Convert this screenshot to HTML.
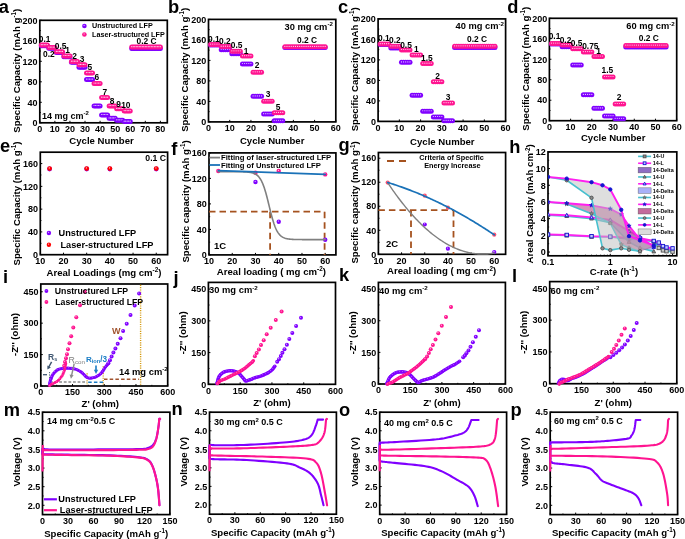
<!DOCTYPE html>
<html><head><meta charset="utf-8"><style>
html,body{margin:0;padding:0;background:#fff;}
svg{display:block;will-change:transform;}
text{font-family:"Liberation Sans", sans-serif;stroke:currentColor;stroke-width:0;}
svg{-webkit-font-smoothing:antialiased;}
</style></head><body>
<svg width="685" height="539" viewBox="0 0 685 539">
<defs><clipPath id="cliph"><rect x="548" y="151.9" width="128.8" height="103.9"/></clipPath></defs>
<rect width="685" height="539" fill="#fff"/>
<rect x="39.80" y="20.30" width="127.50" height="102.50" fill="none" stroke="#000" stroke-width="1.7"/>
<rect x="208.50" y="19.40" width="127.30" height="102.50" fill="none" stroke="#000" stroke-width="1.7"/>
<rect x="378.10" y="18.90" width="127.50" height="102.50" fill="none" stroke="#000" stroke-width="1.7"/>
<rect x="549.40" y="18.30" width="127.30" height="102.40" fill="none" stroke="#000" stroke-width="1.7"/>
<rect x="40.30" y="152.20" width="127.30" height="102.50" fill="none" stroke="#000" stroke-width="1.7"/>
<rect x="209.00" y="152.90" width="126.90" height="102.00" fill="none" stroke="#000" stroke-width="1.7"/>
<rect x="378.40" y="152.50" width="127.20" height="101.80" fill="none" stroke="#000" stroke-width="1.7"/>
<rect x="548.00" y="151.90" width="128.80" height="103.90" fill="none" stroke="#000" stroke-width="1.7"/>
<rect x="40.80" y="284.00" width="126.90" height="102.00" fill="none" stroke="#000" stroke-width="1.7"/>
<rect x="208.40" y="282.40" width="127.10" height="101.90" fill="none" stroke="#000" stroke-width="1.7"/>
<rect x="378.40" y="282.40" width="127.00" height="101.60" fill="none" stroke="#000" stroke-width="1.7"/>
<rect x="549.70" y="281.60" width="127.10" height="102.10" fill="none" stroke="#000" stroke-width="1.7"/>
<rect x="42.50" y="412.20" width="127.40" height="102.40" fill="none" stroke="#000" stroke-width="1.7"/>
<rect x="209.50" y="412.20" width="126.90" height="102.00" fill="none" stroke="#000" stroke-width="1.7"/>
<rect x="379.70" y="412.20" width="126.90" height="102.20" fill="none" stroke="#000" stroke-width="1.7"/>
<rect x="550.20" y="412.20" width="127.40" height="102.40" fill="none" stroke="#000" stroke-width="1.7"/>
<line x1="39.80" y1="122.80" x2="41.80" y2="122.80" stroke="#000" stroke-width="1"/>
<text x="37.60" y="126.04" font-size="9.0" text-anchor="end" font-weight="bold" fill="#000" stroke="#000" stroke-width="0.46799999999999997">0</text>
<line x1="39.80" y1="102.30" x2="41.80" y2="102.30" stroke="#000" stroke-width="1"/>
<text x="37.60" y="105.54" font-size="9.0" text-anchor="end" font-weight="bold" fill="#000" stroke="#000" stroke-width="0.46799999999999997">40</text>
<line x1="39.80" y1="81.80" x2="41.80" y2="81.80" stroke="#000" stroke-width="1"/>
<text x="37.60" y="85.04" font-size="9.0" text-anchor="end" font-weight="bold" fill="#000" stroke="#000" stroke-width="0.46799999999999997">80</text>
<line x1="39.80" y1="61.30" x2="41.80" y2="61.30" stroke="#000" stroke-width="1"/>
<text x="37.60" y="64.54" font-size="9.0" text-anchor="end" font-weight="bold" fill="#000" stroke="#000" stroke-width="0.46799999999999997">120</text>
<line x1="39.80" y1="40.80" x2="41.80" y2="40.80" stroke="#000" stroke-width="1"/>
<text x="37.60" y="44.04" font-size="9.0" text-anchor="end" font-weight="bold" fill="#000" stroke="#000" stroke-width="0.46799999999999997">160</text>
<line x1="39.80" y1="20.30" x2="41.80" y2="20.30" stroke="#000" stroke-width="1"/>
<text x="37.60" y="23.54" font-size="9.0" text-anchor="end" font-weight="bold" fill="#000" stroke="#000" stroke-width="0.46799999999999997">200</text>
<line x1="39.80" y1="112.55" x2="41.00" y2="112.55" stroke="#000" stroke-width="0.8"/>
<line x1="39.80" y1="92.05" x2="41.00" y2="92.05" stroke="#000" stroke-width="0.8"/>
<line x1="39.80" y1="71.55" x2="41.00" y2="71.55" stroke="#000" stroke-width="0.8"/>
<line x1="39.80" y1="51.05" x2="41.00" y2="51.05" stroke="#000" stroke-width="0.8"/>
<line x1="39.80" y1="30.55" x2="41.00" y2="30.55" stroke="#000" stroke-width="0.8"/>
<text x="19.50" y="70.75" font-size="9.6" text-anchor="middle" font-weight="bold" fill="#000" stroke="#000" stroke-width="0.4992" transform="rotate(-90 19.50 70.75)">Specific Capacity (mAh g<tspan dy="-3.84" font-size="6.34">-1</tspan><tspan dy="3.84">)</tspan></text>
<text x="101.55" y="143.80" font-size="9.6" text-anchor="middle" font-weight="bold" fill="#000" stroke="#000" stroke-width="0.4992">Cycle Number</text>
<line x1="208.50" y1="121.90" x2="210.50" y2="121.90" stroke="#000" stroke-width="1"/>
<text x="206.30" y="125.14" font-size="9.0" text-anchor="end" font-weight="bold" fill="#000" stroke="#000" stroke-width="0.46799999999999997">0</text>
<line x1="208.50" y1="101.40" x2="210.50" y2="101.40" stroke="#000" stroke-width="1"/>
<text x="206.30" y="104.64" font-size="9.0" text-anchor="end" font-weight="bold" fill="#000" stroke="#000" stroke-width="0.46799999999999997">40</text>
<line x1="208.50" y1="80.90" x2="210.50" y2="80.90" stroke="#000" stroke-width="1"/>
<text x="206.30" y="84.14" font-size="9.0" text-anchor="end" font-weight="bold" fill="#000" stroke="#000" stroke-width="0.46799999999999997">80</text>
<line x1="208.50" y1="60.40" x2="210.50" y2="60.40" stroke="#000" stroke-width="1"/>
<text x="206.30" y="63.64" font-size="9.0" text-anchor="end" font-weight="bold" fill="#000" stroke="#000" stroke-width="0.46799999999999997">120</text>
<line x1="208.50" y1="39.90" x2="210.50" y2="39.90" stroke="#000" stroke-width="1"/>
<text x="206.30" y="43.14" font-size="9.0" text-anchor="end" font-weight="bold" fill="#000" stroke="#000" stroke-width="0.46799999999999997">160</text>
<line x1="208.50" y1="19.40" x2="210.50" y2="19.40" stroke="#000" stroke-width="1"/>
<text x="206.30" y="22.64" font-size="9.0" text-anchor="end" font-weight="bold" fill="#000" stroke="#000" stroke-width="0.46799999999999997">200</text>
<line x1="208.50" y1="111.65" x2="209.70" y2="111.65" stroke="#000" stroke-width="0.8"/>
<line x1="208.50" y1="91.15" x2="209.70" y2="91.15" stroke="#000" stroke-width="0.8"/>
<line x1="208.50" y1="70.65" x2="209.70" y2="70.65" stroke="#000" stroke-width="0.8"/>
<line x1="208.50" y1="50.15" x2="209.70" y2="50.15" stroke="#000" stroke-width="0.8"/>
<line x1="208.50" y1="29.65" x2="209.70" y2="29.65" stroke="#000" stroke-width="0.8"/>
<text x="188.20" y="69.85" font-size="9.6" text-anchor="middle" font-weight="bold" fill="#000" stroke="#000" stroke-width="0.4992" transform="rotate(-90 188.20 69.85)">Specific Capacity (mAh g<tspan dy="-3.84" font-size="6.34">-1</tspan><tspan dy="3.84">)</tspan></text>
<text x="272.15" y="143.90" font-size="9.6" text-anchor="middle" font-weight="bold" fill="#000" stroke="#000" stroke-width="0.4992">Cycle Number</text>
<line x1="378.10" y1="121.40" x2="380.10" y2="121.40" stroke="#000" stroke-width="1"/>
<text x="375.90" y="124.64" font-size="9.0" text-anchor="end" font-weight="bold" fill="#000" stroke="#000" stroke-width="0.46799999999999997">0</text>
<line x1="378.10" y1="100.90" x2="380.10" y2="100.90" stroke="#000" stroke-width="1"/>
<text x="375.90" y="104.14" font-size="9.0" text-anchor="end" font-weight="bold" fill="#000" stroke="#000" stroke-width="0.46799999999999997">40</text>
<line x1="378.10" y1="80.40" x2="380.10" y2="80.40" stroke="#000" stroke-width="1"/>
<text x="375.90" y="83.64" font-size="9.0" text-anchor="end" font-weight="bold" fill="#000" stroke="#000" stroke-width="0.46799999999999997">80</text>
<line x1="378.10" y1="59.90" x2="380.10" y2="59.90" stroke="#000" stroke-width="1"/>
<text x="375.90" y="63.14" font-size="9.0" text-anchor="end" font-weight="bold" fill="#000" stroke="#000" stroke-width="0.46799999999999997">120</text>
<line x1="378.10" y1="39.40" x2="380.10" y2="39.40" stroke="#000" stroke-width="1"/>
<text x="375.90" y="42.64" font-size="9.0" text-anchor="end" font-weight="bold" fill="#000" stroke="#000" stroke-width="0.46799999999999997">160</text>
<line x1="378.10" y1="18.90" x2="380.10" y2="18.90" stroke="#000" stroke-width="1"/>
<text x="375.90" y="22.14" font-size="9.0" text-anchor="end" font-weight="bold" fill="#000" stroke="#000" stroke-width="0.46799999999999997">200</text>
<line x1="378.10" y1="111.15" x2="379.30" y2="111.15" stroke="#000" stroke-width="0.8"/>
<line x1="378.10" y1="90.65" x2="379.30" y2="90.65" stroke="#000" stroke-width="0.8"/>
<line x1="378.10" y1="70.15" x2="379.30" y2="70.15" stroke="#000" stroke-width="0.8"/>
<line x1="378.10" y1="49.65" x2="379.30" y2="49.65" stroke="#000" stroke-width="0.8"/>
<line x1="378.10" y1="29.15" x2="379.30" y2="29.15" stroke="#000" stroke-width="0.8"/>
<text x="357.80" y="69.35" font-size="9.6" text-anchor="middle" font-weight="bold" fill="#000" stroke="#000" stroke-width="0.4992" transform="rotate(-90 357.80 69.35)">Specific Capacity (mAh g<tspan dy="-3.84" font-size="6.34">-1</tspan><tspan dy="3.84">)</tspan></text>
<text x="442.35" y="144.70" font-size="9.6" text-anchor="middle" font-weight="bold" fill="#000" stroke="#000" stroke-width="0.4992">Cycle Number</text>
<line x1="549.40" y1="120.70" x2="551.40" y2="120.70" stroke="#000" stroke-width="1"/>
<text x="547.20" y="123.94" font-size="9.0" text-anchor="end" font-weight="bold" fill="#000" stroke="#000" stroke-width="0.46799999999999997">0</text>
<line x1="549.40" y1="100.22" x2="551.40" y2="100.22" stroke="#000" stroke-width="1"/>
<text x="547.20" y="103.46" font-size="9.0" text-anchor="end" font-weight="bold" fill="#000" stroke="#000" stroke-width="0.46799999999999997">40</text>
<line x1="549.40" y1="79.74" x2="551.40" y2="79.74" stroke="#000" stroke-width="1"/>
<text x="547.20" y="82.98" font-size="9.0" text-anchor="end" font-weight="bold" fill="#000" stroke="#000" stroke-width="0.46799999999999997">80</text>
<line x1="549.40" y1="59.26" x2="551.40" y2="59.26" stroke="#000" stroke-width="1"/>
<text x="547.20" y="62.50" font-size="9.0" text-anchor="end" font-weight="bold" fill="#000" stroke="#000" stroke-width="0.46799999999999997">120</text>
<line x1="549.40" y1="38.78" x2="551.40" y2="38.78" stroke="#000" stroke-width="1"/>
<text x="547.20" y="42.02" font-size="9.0" text-anchor="end" font-weight="bold" fill="#000" stroke="#000" stroke-width="0.46799999999999997">160</text>
<line x1="549.40" y1="18.30" x2="551.40" y2="18.30" stroke="#000" stroke-width="1"/>
<text x="547.20" y="21.54" font-size="9.0" text-anchor="end" font-weight="bold" fill="#000" stroke="#000" stroke-width="0.46799999999999997">200</text>
<line x1="549.40" y1="110.46" x2="550.60" y2="110.46" stroke="#000" stroke-width="0.8"/>
<line x1="549.40" y1="89.98" x2="550.60" y2="89.98" stroke="#000" stroke-width="0.8"/>
<line x1="549.40" y1="69.50" x2="550.60" y2="69.50" stroke="#000" stroke-width="0.8"/>
<line x1="549.40" y1="49.02" x2="550.60" y2="49.02" stroke="#000" stroke-width="0.8"/>
<line x1="549.40" y1="28.54" x2="550.60" y2="28.54" stroke="#000" stroke-width="0.8"/>
<text x="529.10" y="68.70" font-size="9.6" text-anchor="middle" font-weight="bold" fill="#000" stroke="#000" stroke-width="0.4992" transform="rotate(-90 529.10 68.70)">Specific Capacity (mAh g<tspan dy="-3.84" font-size="6.34">-1</tspan><tspan dy="3.84">)</tspan></text>
<text x="613.15" y="140.70" font-size="9.6" text-anchor="middle" font-weight="bold" fill="#000" stroke="#000" stroke-width="0.4992">Cycle Number</text>
<line x1="39.80" y1="122.80" x2="39.80" y2="120.80" stroke="#000" stroke-width="1"/>
<text x="39.80" y="132.04" font-size="9.0" text-anchor="middle" font-weight="bold" fill="#000" stroke="#000" stroke-width="0.46799999999999997">0</text>
<line x1="54.87" y1="122.80" x2="54.87" y2="120.80" stroke="#000" stroke-width="1"/>
<text x="54.87" y="132.04" font-size="9.0" text-anchor="middle" font-weight="bold" fill="#000" stroke="#000" stroke-width="0.46799999999999997">10</text>
<line x1="69.94" y1="122.80" x2="69.94" y2="120.80" stroke="#000" stroke-width="1"/>
<text x="69.94" y="132.04" font-size="9.0" text-anchor="middle" font-weight="bold" fill="#000" stroke="#000" stroke-width="0.46799999999999997">20</text>
<line x1="85.01" y1="122.80" x2="85.01" y2="120.80" stroke="#000" stroke-width="1"/>
<text x="85.01" y="132.04" font-size="9.0" text-anchor="middle" font-weight="bold" fill="#000" stroke="#000" stroke-width="0.46799999999999997">30</text>
<line x1="100.08" y1="122.80" x2="100.08" y2="120.80" stroke="#000" stroke-width="1"/>
<text x="100.08" y="132.04" font-size="9.0" text-anchor="middle" font-weight="bold" fill="#000" stroke="#000" stroke-width="0.46799999999999997">40</text>
<line x1="115.15" y1="122.80" x2="115.15" y2="120.80" stroke="#000" stroke-width="1"/>
<text x="115.15" y="132.04" font-size="9.0" text-anchor="middle" font-weight="bold" fill="#000" stroke="#000" stroke-width="0.46799999999999997">50</text>
<line x1="130.23" y1="122.80" x2="130.23" y2="120.80" stroke="#000" stroke-width="1"/>
<text x="130.23" y="132.04" font-size="9.0" text-anchor="middle" font-weight="bold" fill="#000" stroke="#000" stroke-width="0.46799999999999997">60</text>
<line x1="145.30" y1="122.80" x2="145.30" y2="120.80" stroke="#000" stroke-width="1"/>
<text x="145.30" y="132.04" font-size="9.0" text-anchor="middle" font-weight="bold" fill="#000" stroke="#000" stroke-width="0.46799999999999997">70</text>
<line x1="160.37" y1="122.80" x2="160.37" y2="120.80" stroke="#000" stroke-width="1"/>
<text x="160.37" y="132.04" font-size="9.0" text-anchor="middle" font-weight="bold" fill="#000" stroke="#000" stroke-width="0.46799999999999997">80</text>
<line x1="208.50" y1="121.90" x2="208.50" y2="119.90" stroke="#000" stroke-width="1"/>
<text x="208.50" y="131.14" font-size="9.0" text-anchor="middle" font-weight="bold" fill="#000" stroke="#000" stroke-width="0.46799999999999997">0</text>
<line x1="229.72" y1="121.90" x2="229.72" y2="119.90" stroke="#000" stroke-width="1"/>
<text x="229.72" y="131.14" font-size="9.0" text-anchor="middle" font-weight="bold" fill="#000" stroke="#000" stroke-width="0.46799999999999997">10</text>
<line x1="250.93" y1="121.90" x2="250.93" y2="119.90" stroke="#000" stroke-width="1"/>
<text x="250.93" y="131.14" font-size="9.0" text-anchor="middle" font-weight="bold" fill="#000" stroke="#000" stroke-width="0.46799999999999997">20</text>
<line x1="272.15" y1="121.90" x2="272.15" y2="119.90" stroke="#000" stroke-width="1"/>
<text x="272.15" y="131.14" font-size="9.0" text-anchor="middle" font-weight="bold" fill="#000" stroke="#000" stroke-width="0.46799999999999997">30</text>
<line x1="293.37" y1="121.90" x2="293.37" y2="119.90" stroke="#000" stroke-width="1"/>
<text x="293.37" y="131.14" font-size="9.0" text-anchor="middle" font-weight="bold" fill="#000" stroke="#000" stroke-width="0.46799999999999997">40</text>
<line x1="314.58" y1="121.90" x2="314.58" y2="119.90" stroke="#000" stroke-width="1"/>
<text x="314.58" y="131.14" font-size="9.0" text-anchor="middle" font-weight="bold" fill="#000" stroke="#000" stroke-width="0.46799999999999997">50</text>
<line x1="335.80" y1="121.90" x2="335.80" y2="119.90" stroke="#000" stroke-width="1"/>
<text x="335.80" y="131.14" font-size="9.0" text-anchor="middle" font-weight="bold" fill="#000" stroke="#000" stroke-width="0.46799999999999997">60</text>
<line x1="378.10" y1="121.40" x2="378.10" y2="119.40" stroke="#000" stroke-width="1"/>
<text x="378.10" y="130.64" font-size="9.0" text-anchor="middle" font-weight="bold" fill="#000" stroke="#000" stroke-width="0.46799999999999997">0</text>
<line x1="399.35" y1="121.40" x2="399.35" y2="119.40" stroke="#000" stroke-width="1"/>
<text x="399.35" y="130.64" font-size="9.0" text-anchor="middle" font-weight="bold" fill="#000" stroke="#000" stroke-width="0.46799999999999997">10</text>
<line x1="420.60" y1="121.40" x2="420.60" y2="119.40" stroke="#000" stroke-width="1"/>
<text x="420.60" y="130.64" font-size="9.0" text-anchor="middle" font-weight="bold" fill="#000" stroke="#000" stroke-width="0.46799999999999997">20</text>
<line x1="441.85" y1="121.40" x2="441.85" y2="119.40" stroke="#000" stroke-width="1"/>
<text x="441.85" y="130.64" font-size="9.0" text-anchor="middle" font-weight="bold" fill="#000" stroke="#000" stroke-width="0.46799999999999997">30</text>
<line x1="463.10" y1="121.40" x2="463.10" y2="119.40" stroke="#000" stroke-width="1"/>
<text x="463.10" y="130.64" font-size="9.0" text-anchor="middle" font-weight="bold" fill="#000" stroke="#000" stroke-width="0.46799999999999997">40</text>
<line x1="484.35" y1="121.40" x2="484.35" y2="119.40" stroke="#000" stroke-width="1"/>
<text x="484.35" y="130.64" font-size="9.0" text-anchor="middle" font-weight="bold" fill="#000" stroke="#000" stroke-width="0.46799999999999997">50</text>
<line x1="505.60" y1="121.40" x2="505.60" y2="119.40" stroke="#000" stroke-width="1"/>
<text x="505.60" y="130.64" font-size="9.0" text-anchor="middle" font-weight="bold" fill="#000" stroke="#000" stroke-width="0.46799999999999997">60</text>
<line x1="549.40" y1="120.70" x2="549.40" y2="118.70" stroke="#000" stroke-width="1"/>
<text x="549.40" y="129.94" font-size="9.0" text-anchor="middle" font-weight="bold" fill="#000" stroke="#000" stroke-width="0.46799999999999997">0</text>
<line x1="570.62" y1="120.70" x2="570.62" y2="118.70" stroke="#000" stroke-width="1"/>
<text x="570.62" y="129.94" font-size="9.0" text-anchor="middle" font-weight="bold" fill="#000" stroke="#000" stroke-width="0.46799999999999997">10</text>
<line x1="591.83" y1="120.70" x2="591.83" y2="118.70" stroke="#000" stroke-width="1"/>
<text x="591.83" y="129.94" font-size="9.0" text-anchor="middle" font-weight="bold" fill="#000" stroke="#000" stroke-width="0.46799999999999997">20</text>
<line x1="613.05" y1="120.70" x2="613.05" y2="118.70" stroke="#000" stroke-width="1"/>
<text x="613.05" y="129.94" font-size="9.0" text-anchor="middle" font-weight="bold" fill="#000" stroke="#000" stroke-width="0.46799999999999997">30</text>
<line x1="634.27" y1="120.70" x2="634.27" y2="118.70" stroke="#000" stroke-width="1"/>
<text x="634.27" y="129.94" font-size="9.0" text-anchor="middle" font-weight="bold" fill="#000" stroke="#000" stroke-width="0.46799999999999997">40</text>
<line x1="655.48" y1="120.70" x2="655.48" y2="118.70" stroke="#000" stroke-width="1"/>
<text x="655.48" y="129.94" font-size="9.0" text-anchor="middle" font-weight="bold" fill="#000" stroke="#000" stroke-width="0.46799999999999997">50</text>
<line x1="676.70" y1="120.70" x2="676.70" y2="118.70" stroke="#000" stroke-width="1"/>
<text x="676.70" y="129.94" font-size="9.0" text-anchor="middle" font-weight="bold" fill="#000" stroke="#000" stroke-width="0.46799999999999997">60</text>
<line x1="40.30" y1="254.70" x2="42.30" y2="254.70" stroke="#000" stroke-width="1"/>
<text x="38.10" y="257.94" font-size="9.0" text-anchor="end" font-weight="bold" fill="#000" stroke="#000" stroke-width="0.46799999999999997">0</text>
<line x1="40.30" y1="231.92" x2="42.30" y2="231.92" stroke="#000" stroke-width="1"/>
<text x="38.10" y="235.16" font-size="9.0" text-anchor="end" font-weight="bold" fill="#000" stroke="#000" stroke-width="0.46799999999999997">40</text>
<line x1="40.30" y1="209.14" x2="42.30" y2="209.14" stroke="#000" stroke-width="1"/>
<text x="38.10" y="212.38" font-size="9.0" text-anchor="end" font-weight="bold" fill="#000" stroke="#000" stroke-width="0.46799999999999997">80</text>
<line x1="40.30" y1="186.37" x2="42.30" y2="186.37" stroke="#000" stroke-width="1"/>
<text x="38.10" y="189.61" font-size="9.0" text-anchor="end" font-weight="bold" fill="#000" stroke="#000" stroke-width="0.46799999999999997">120</text>
<line x1="40.30" y1="163.59" x2="42.30" y2="163.59" stroke="#000" stroke-width="1"/>
<text x="38.10" y="166.83" font-size="9.0" text-anchor="end" font-weight="bold" fill="#000" stroke="#000" stroke-width="0.46799999999999997">160</text>
<line x1="40.30" y1="243.31" x2="41.50" y2="243.31" stroke="#000" stroke-width="0.8"/>
<line x1="40.30" y1="220.53" x2="41.50" y2="220.53" stroke="#000" stroke-width="0.8"/>
<line x1="40.30" y1="197.76" x2="41.50" y2="197.76" stroke="#000" stroke-width="0.8"/>
<line x1="40.30" y1="174.98" x2="41.50" y2="174.98" stroke="#000" stroke-width="0.8"/>
<line x1="40.30" y1="254.70" x2="40.30" y2="252.70" stroke="#000" stroke-width="1"/>
<text x="40.30" y="263.94" font-size="9.0" text-anchor="middle" font-weight="bold" fill="#000" stroke="#000" stroke-width="0.46799999999999997">10</text>
<line x1="63.49" y1="254.70" x2="63.49" y2="252.70" stroke="#000" stroke-width="1"/>
<text x="63.49" y="263.94" font-size="9.0" text-anchor="middle" font-weight="bold" fill="#000" stroke="#000" stroke-width="0.46799999999999997">20</text>
<line x1="86.68" y1="254.70" x2="86.68" y2="252.70" stroke="#000" stroke-width="1"/>
<text x="86.68" y="263.94" font-size="9.0" text-anchor="middle" font-weight="bold" fill="#000" stroke="#000" stroke-width="0.46799999999999997">30</text>
<line x1="109.86" y1="254.70" x2="109.86" y2="252.70" stroke="#000" stroke-width="1"/>
<text x="109.86" y="263.94" font-size="9.0" text-anchor="middle" font-weight="bold" fill="#000" stroke="#000" stroke-width="0.46799999999999997">40</text>
<line x1="133.05" y1="254.70" x2="133.05" y2="252.70" stroke="#000" stroke-width="1"/>
<text x="133.05" y="263.94" font-size="9.0" text-anchor="middle" font-weight="bold" fill="#000" stroke="#000" stroke-width="0.46799999999999997">50</text>
<line x1="156.24" y1="254.70" x2="156.24" y2="252.70" stroke="#000" stroke-width="1"/>
<text x="156.24" y="263.94" font-size="9.0" text-anchor="middle" font-weight="bold" fill="#000" stroke="#000" stroke-width="0.46799999999999997">60</text>
<text x="20.30" y="203.45" font-size="9.6" text-anchor="middle" font-weight="bold" fill="#000" stroke="#000" stroke-width="0.4992" transform="rotate(-90 20.30 203.45)">Specific Capacity (mAh g<tspan dy="-3.84" font-size="6.34">-1</tspan><tspan dy="3.84">)</tspan></text>
<text x="103.95" y="275.80" font-size="9.6" text-anchor="middle" font-weight="bold" fill="#000" stroke="#000" stroke-width="0.4992">Areal Loadings (mg cm<tspan dy="-3.84" font-size="6.34">-2</tspan><tspan dy="3.84">)</tspan></text>
<line x1="209.00" y1="254.90" x2="211.00" y2="254.90" stroke="#000" stroke-width="1"/>
<text x="206.80" y="258.14" font-size="9.0" text-anchor="end" font-weight="bold" fill="#000" stroke="#000" stroke-width="0.46799999999999997">0</text>
<line x1="209.00" y1="229.40" x2="211.00" y2="229.40" stroke="#000" stroke-width="1"/>
<text x="206.80" y="232.64" font-size="9.0" text-anchor="end" font-weight="bold" fill="#000" stroke="#000" stroke-width="0.46799999999999997">40</text>
<line x1="209.00" y1="203.90" x2="211.00" y2="203.90" stroke="#000" stroke-width="1"/>
<text x="206.80" y="207.14" font-size="9.0" text-anchor="end" font-weight="bold" fill="#000" stroke="#000" stroke-width="0.46799999999999997">80</text>
<line x1="209.00" y1="178.40" x2="211.00" y2="178.40" stroke="#000" stroke-width="1"/>
<text x="206.80" y="181.64" font-size="9.0" text-anchor="end" font-weight="bold" fill="#000" stroke="#000" stroke-width="0.46799999999999997">120</text>
<line x1="209.00" y1="152.90" x2="211.00" y2="152.90" stroke="#000" stroke-width="1"/>
<text x="206.80" y="156.14" font-size="9.0" text-anchor="end" font-weight="bold" fill="#000" stroke="#000" stroke-width="0.46799999999999997">160</text>
<line x1="209.00" y1="242.15" x2="210.20" y2="242.15" stroke="#000" stroke-width="0.8"/>
<line x1="209.00" y1="216.65" x2="210.20" y2="216.65" stroke="#000" stroke-width="0.8"/>
<line x1="209.00" y1="191.15" x2="210.20" y2="191.15" stroke="#000" stroke-width="0.8"/>
<line x1="209.00" y1="165.65" x2="210.20" y2="165.65" stroke="#000" stroke-width="0.8"/>
<line x1="209.00" y1="254.90" x2="209.00" y2="252.90" stroke="#000" stroke-width="1"/>
<text x="209.00" y="264.14" font-size="9.0" text-anchor="middle" font-weight="bold" fill="#000" stroke="#000" stroke-width="0.46799999999999997">10</text>
<line x1="232.24" y1="254.90" x2="232.24" y2="252.90" stroke="#000" stroke-width="1"/>
<text x="232.24" y="264.14" font-size="9.0" text-anchor="middle" font-weight="bold" fill="#000" stroke="#000" stroke-width="0.46799999999999997">20</text>
<line x1="255.48" y1="254.90" x2="255.48" y2="252.90" stroke="#000" stroke-width="1"/>
<text x="255.48" y="264.14" font-size="9.0" text-anchor="middle" font-weight="bold" fill="#000" stroke="#000" stroke-width="0.46799999999999997">30</text>
<line x1="278.73" y1="254.90" x2="278.73" y2="252.90" stroke="#000" stroke-width="1"/>
<text x="278.73" y="264.14" font-size="9.0" text-anchor="middle" font-weight="bold" fill="#000" stroke="#000" stroke-width="0.46799999999999997">40</text>
<line x1="301.97" y1="254.90" x2="301.97" y2="252.90" stroke="#000" stroke-width="1"/>
<text x="301.97" y="264.14" font-size="9.0" text-anchor="middle" font-weight="bold" fill="#000" stroke="#000" stroke-width="0.46799999999999997">50</text>
<line x1="325.21" y1="254.90" x2="325.21" y2="252.90" stroke="#000" stroke-width="1"/>
<text x="325.21" y="264.14" font-size="9.0" text-anchor="middle" font-weight="bold" fill="#000" stroke="#000" stroke-width="0.46799999999999997">60</text>
<text x="189.00" y="201.40" font-size="9.6" text-anchor="middle" font-weight="bold" fill="#000" stroke="#000" stroke-width="0.4992" transform="rotate(-90 189.00 201.40)">Specific capacity (mAh g<tspan dy="-3.84" font-size="6.34">-1</tspan><tspan dy="3.84">)</tspan></text>
<text x="271.35" y="275.15" font-size="9.6" text-anchor="middle" font-weight="bold" fill="#000" stroke="#000" stroke-width="0.4992">Areal loading ( mg cm<tspan dy="-3.84" font-size="6.34">-2</tspan><tspan dy="3.84">)</tspan></text>
<line x1="378.40" y1="254.30" x2="380.40" y2="254.30" stroke="#000" stroke-width="1"/>
<text x="376.20" y="257.54" font-size="9.0" text-anchor="end" font-weight="bold" fill="#000" stroke="#000" stroke-width="0.46799999999999997">0</text>
<line x1="378.40" y1="230.28" x2="380.40" y2="230.28" stroke="#000" stroke-width="1"/>
<text x="376.20" y="233.52" font-size="9.0" text-anchor="end" font-weight="bold" fill="#000" stroke="#000" stroke-width="0.46799999999999997">40</text>
<line x1="378.40" y1="206.25" x2="380.40" y2="206.25" stroke="#000" stroke-width="1"/>
<text x="376.20" y="209.49" font-size="9.0" text-anchor="end" font-weight="bold" fill="#000" stroke="#000" stroke-width="0.46799999999999997">80</text>
<line x1="378.40" y1="182.23" x2="380.40" y2="182.23" stroke="#000" stroke-width="1"/>
<text x="376.20" y="185.47" font-size="9.0" text-anchor="end" font-weight="bold" fill="#000" stroke="#000" stroke-width="0.46799999999999997">120</text>
<line x1="378.40" y1="158.21" x2="380.40" y2="158.21" stroke="#000" stroke-width="1"/>
<text x="376.20" y="161.45" font-size="9.0" text-anchor="end" font-weight="bold" fill="#000" stroke="#000" stroke-width="0.46799999999999997">160</text>
<line x1="378.40" y1="242.29" x2="379.60" y2="242.29" stroke="#000" stroke-width="0.8"/>
<line x1="378.40" y1="218.26" x2="379.60" y2="218.26" stroke="#000" stroke-width="0.8"/>
<line x1="378.40" y1="194.24" x2="379.60" y2="194.24" stroke="#000" stroke-width="0.8"/>
<line x1="378.40" y1="170.22" x2="379.60" y2="170.22" stroke="#000" stroke-width="0.8"/>
<line x1="378.40" y1="254.30" x2="378.40" y2="252.30" stroke="#000" stroke-width="1"/>
<text x="378.40" y="263.54" font-size="9.0" text-anchor="middle" font-weight="bold" fill="#000" stroke="#000" stroke-width="0.46799999999999997">10</text>
<line x1="401.57" y1="254.30" x2="401.57" y2="252.30" stroke="#000" stroke-width="1"/>
<text x="401.57" y="263.54" font-size="9.0" text-anchor="middle" font-weight="bold" fill="#000" stroke="#000" stroke-width="0.46799999999999997">20</text>
<line x1="424.74" y1="254.30" x2="424.74" y2="252.30" stroke="#000" stroke-width="1"/>
<text x="424.74" y="263.54" font-size="9.0" text-anchor="middle" font-weight="bold" fill="#000" stroke="#000" stroke-width="0.46799999999999997">30</text>
<line x1="447.91" y1="254.30" x2="447.91" y2="252.30" stroke="#000" stroke-width="1"/>
<text x="447.91" y="263.54" font-size="9.0" text-anchor="middle" font-weight="bold" fill="#000" stroke="#000" stroke-width="0.46799999999999997">40</text>
<line x1="471.08" y1="254.30" x2="471.08" y2="252.30" stroke="#000" stroke-width="1"/>
<text x="471.08" y="263.54" font-size="9.0" text-anchor="middle" font-weight="bold" fill="#000" stroke="#000" stroke-width="0.46799999999999997">50</text>
<line x1="494.25" y1="254.30" x2="494.25" y2="252.30" stroke="#000" stroke-width="1"/>
<text x="494.25" y="263.54" font-size="9.0" text-anchor="middle" font-weight="bold" fill="#000" stroke="#000" stroke-width="0.46799999999999997">60</text>
<text x="358.40" y="202.40" font-size="9.6" text-anchor="middle" font-weight="bold" fill="#000" stroke="#000" stroke-width="0.4992" transform="rotate(-90 358.40 202.40)">Specific capacity (mAh g<tspan dy="-3.84" font-size="6.34">-1</tspan><tspan dy="3.84">)</tspan></text>
<text x="441.60" y="274.40" font-size="9.6" text-anchor="middle" font-weight="bold" fill="#000" stroke="#000" stroke-width="0.4992">Areal loading ( mg cm<tspan dy="-3.84" font-size="6.34">-2</tspan><tspan dy="3.84">)</tspan></text>
<line x1="548.00" y1="252.04" x2="550.00" y2="252.04" stroke="#000" stroke-width="1"/>
<text x="545.80" y="255.28" font-size="9.0" text-anchor="end" font-weight="bold" fill="#000" stroke="#000" stroke-width="0.46799999999999997">0</text>
<line x1="548.00" y1="235.35" x2="550.00" y2="235.35" stroke="#000" stroke-width="1"/>
<text x="545.80" y="238.59" font-size="9.0" text-anchor="end" font-weight="bold" fill="#000" stroke="#000" stroke-width="0.46799999999999997">2</text>
<line x1="548.00" y1="218.66" x2="550.00" y2="218.66" stroke="#000" stroke-width="1"/>
<text x="545.80" y="221.90" font-size="9.0" text-anchor="end" font-weight="bold" fill="#000" stroke="#000" stroke-width="0.46799999999999997">4</text>
<line x1="548.00" y1="201.97" x2="550.00" y2="201.97" stroke="#000" stroke-width="1"/>
<text x="545.80" y="205.21" font-size="9.0" text-anchor="end" font-weight="bold" fill="#000" stroke="#000" stroke-width="0.46799999999999997">6</text>
<line x1="548.00" y1="185.28" x2="550.00" y2="185.28" stroke="#000" stroke-width="1"/>
<text x="545.80" y="188.52" font-size="9.0" text-anchor="end" font-weight="bold" fill="#000" stroke="#000" stroke-width="0.46799999999999997">8</text>
<line x1="548.00" y1="168.59" x2="550.00" y2="168.59" stroke="#000" stroke-width="1"/>
<text x="545.80" y="171.83" font-size="9.0" text-anchor="end" font-weight="bold" fill="#000" stroke="#000" stroke-width="0.46799999999999997">10</text>
<line x1="548.00" y1="151.90" x2="550.00" y2="151.90" stroke="#000" stroke-width="1"/>
<text x="545.80" y="155.14" font-size="9.0" text-anchor="end" font-weight="bold" fill="#000" stroke="#000" stroke-width="0.46799999999999997">12</text>
<line x1="548.00" y1="243.70" x2="549.20" y2="243.70" stroke="#000" stroke-width="0.8"/>
<line x1="548.00" y1="227.01" x2="549.20" y2="227.01" stroke="#000" stroke-width="0.8"/>
<line x1="548.00" y1="210.32" x2="549.20" y2="210.32" stroke="#000" stroke-width="0.8"/>
<line x1="548.00" y1="193.63" x2="549.20" y2="193.63" stroke="#000" stroke-width="0.8"/>
<line x1="548.00" y1="176.94" x2="549.20" y2="176.94" stroke="#000" stroke-width="0.8"/>
<line x1="548.00" y1="160.25" x2="549.20" y2="160.25" stroke="#000" stroke-width="0.8"/>
<line x1="548.00" y1="255.80" x2="548.00" y2="253.80" stroke="#000" stroke-width="1"/>
<text x="548.00" y="265.04" font-size="9.0" text-anchor="middle" font-weight="bold" fill="#000" stroke="#000" stroke-width="0.46799999999999997">0.1</text>
<line x1="610.28" y1="255.80" x2="610.28" y2="253.80" stroke="#000" stroke-width="1"/>
<text x="610.28" y="265.04" font-size="9.0" text-anchor="middle" font-weight="bold" fill="#000" stroke="#000" stroke-width="0.46799999999999997">1</text>
<line x1="672.55" y1="255.80" x2="672.55" y2="253.80" stroke="#000" stroke-width="1"/>
<text x="672.55" y="265.04" font-size="9.0" text-anchor="middle" font-weight="bold" fill="#000" stroke="#000" stroke-width="0.46799999999999997">10</text>
<line x1="566.75" y1="255.80" x2="566.75" y2="254.60" stroke="#000" stroke-width="0.8"/>
<line x1="577.71" y1="255.80" x2="577.71" y2="254.60" stroke="#000" stroke-width="0.8"/>
<line x1="585.49" y1="255.80" x2="585.49" y2="254.60" stroke="#000" stroke-width="0.8"/>
<line x1="591.53" y1="255.80" x2="591.53" y2="254.60" stroke="#000" stroke-width="0.8"/>
<line x1="596.46" y1="255.80" x2="596.46" y2="254.60" stroke="#000" stroke-width="0.8"/>
<line x1="600.63" y1="255.80" x2="600.63" y2="254.60" stroke="#000" stroke-width="0.8"/>
<line x1="604.24" y1="255.80" x2="604.24" y2="254.60" stroke="#000" stroke-width="0.8"/>
<line x1="607.43" y1="255.80" x2="607.43" y2="254.60" stroke="#000" stroke-width="0.8"/>
<line x1="629.02" y1="255.80" x2="629.02" y2="254.60" stroke="#000" stroke-width="0.8"/>
<line x1="639.99" y1="255.80" x2="639.99" y2="254.60" stroke="#000" stroke-width="0.8"/>
<line x1="647.77" y1="255.80" x2="647.77" y2="254.60" stroke="#000" stroke-width="0.8"/>
<line x1="653.81" y1="255.80" x2="653.81" y2="254.60" stroke="#000" stroke-width="0.8"/>
<line x1="658.74" y1="255.80" x2="658.74" y2="254.60" stroke="#000" stroke-width="0.8"/>
<line x1="662.91" y1="255.80" x2="662.91" y2="254.60" stroke="#000" stroke-width="0.8"/>
<line x1="666.52" y1="255.80" x2="666.52" y2="254.60" stroke="#000" stroke-width="0.8"/>
<line x1="669.70" y1="255.80" x2="669.70" y2="254.60" stroke="#000" stroke-width="0.8"/>
<text x="533.50" y="203.85" font-size="9.6" text-anchor="middle" font-weight="bold" fill="#000" stroke="#000" stroke-width="0.4992" transform="rotate(-90 533.50 203.85)">Areal Capacity (mAh cm<tspan dy="-3.84" font-size="6.34">-2</tspan><tspan dy="3.84">)</tspan></text>
<text x="613.95" y="274.55" font-size="9.6" text-anchor="middle" font-weight="bold" fill="#000" stroke="#000" stroke-width="0.4992">C-rate (h<tspan dy="-3.84" font-size="6.34">-1</tspan><tspan dy="3.84">)</tspan></text>
<line x1="40.80" y1="386.00" x2="42.80" y2="386.00" stroke="#000" stroke-width="1"/>
<text x="38.60" y="389.24" font-size="9.0" text-anchor="end" font-weight="bold" fill="#000" stroke="#000" stroke-width="0.46799999999999997">0</text>
<line x1="40.80" y1="354.58" x2="42.80" y2="354.58" stroke="#000" stroke-width="1"/>
<text x="38.60" y="357.82" font-size="9.0" text-anchor="end" font-weight="bold" fill="#000" stroke="#000" stroke-width="0.46799999999999997">150</text>
<line x1="40.80" y1="323.17" x2="42.80" y2="323.17" stroke="#000" stroke-width="1"/>
<text x="38.60" y="326.41" font-size="9.0" text-anchor="end" font-weight="bold" fill="#000" stroke="#000" stroke-width="0.46799999999999997">300</text>
<line x1="40.80" y1="291.75" x2="42.80" y2="291.75" stroke="#000" stroke-width="1"/>
<text x="38.60" y="294.99" font-size="9.0" text-anchor="end" font-weight="bold" fill="#000" stroke="#000" stroke-width="0.46799999999999997">450</text>
<line x1="40.80" y1="370.29" x2="42.00" y2="370.29" stroke="#000" stroke-width="0.8"/>
<line x1="40.80" y1="338.87" x2="42.00" y2="338.87" stroke="#000" stroke-width="0.8"/>
<line x1="40.80" y1="307.46" x2="42.00" y2="307.46" stroke="#000" stroke-width="0.8"/>
<line x1="40.80" y1="386.00" x2="40.80" y2="384.00" stroke="#000" stroke-width="1"/>
<text x="40.80" y="395.24" font-size="9.0" text-anchor="middle" font-weight="bold" fill="#000" stroke="#000" stroke-width="0.46799999999999997">0</text>
<line x1="72.52" y1="386.00" x2="72.52" y2="384.00" stroke="#000" stroke-width="1"/>
<text x="72.52" y="395.24" font-size="9.0" text-anchor="middle" font-weight="bold" fill="#000" stroke="#000" stroke-width="0.46799999999999997">150</text>
<line x1="104.25" y1="386.00" x2="104.25" y2="384.00" stroke="#000" stroke-width="1"/>
<text x="104.25" y="395.24" font-size="9.0" text-anchor="middle" font-weight="bold" fill="#000" stroke="#000" stroke-width="0.46799999999999997">300</text>
<line x1="135.97" y1="386.00" x2="135.97" y2="384.00" stroke="#000" stroke-width="1"/>
<text x="135.97" y="395.24" font-size="9.0" text-anchor="middle" font-weight="bold" fill="#000" stroke="#000" stroke-width="0.46799999999999997">450</text>
<line x1="167.70" y1="386.00" x2="167.70" y2="384.00" stroke="#000" stroke-width="1"/>
<text x="167.70" y="395.24" font-size="9.0" text-anchor="middle" font-weight="bold" fill="#000" stroke="#000" stroke-width="0.46799999999999997">600</text>
<line x1="56.66" y1="386.00" x2="56.66" y2="384.80" stroke="#000" stroke-width="0.8"/>
<line x1="88.39" y1="386.00" x2="88.39" y2="384.80" stroke="#000" stroke-width="0.8"/>
<line x1="120.11" y1="386.00" x2="120.11" y2="384.80" stroke="#000" stroke-width="0.8"/>
<line x1="151.84" y1="386.00" x2="151.84" y2="384.80" stroke="#000" stroke-width="0.8"/>
<text x="18.30" y="334.50" font-size="9.6" text-anchor="middle" font-weight="bold" fill="#000" stroke="#000" stroke-width="0.4992" transform="rotate(-90 18.30 334.50)">-Z'' (ohm)</text>
<text x="100.25" y="406.70" font-size="9.6" text-anchor="middle" font-weight="bold" fill="#000" stroke="#000" stroke-width="0.4992">Z' (ohm)</text>
<line x1="208.40" y1="384.30" x2="210.40" y2="384.30" stroke="#000" stroke-width="1"/>
<text x="206.20" y="387.54" font-size="9.0" text-anchor="end" font-weight="bold" fill="#000" stroke="#000" stroke-width="0.46799999999999997">0</text>
<line x1="208.40" y1="352.59" x2="210.40" y2="352.59" stroke="#000" stroke-width="1"/>
<text x="206.20" y="355.83" font-size="9.0" text-anchor="end" font-weight="bold" fill="#000" stroke="#000" stroke-width="0.46799999999999997">150</text>
<line x1="208.40" y1="320.88" x2="210.40" y2="320.88" stroke="#000" stroke-width="1"/>
<text x="206.20" y="324.12" font-size="9.0" text-anchor="end" font-weight="bold" fill="#000" stroke="#000" stroke-width="0.46799999999999997">300</text>
<line x1="208.40" y1="289.17" x2="210.40" y2="289.17" stroke="#000" stroke-width="1"/>
<text x="206.20" y="292.41" font-size="9.0" text-anchor="end" font-weight="bold" fill="#000" stroke="#000" stroke-width="0.46799999999999997">450</text>
<line x1="208.40" y1="368.44" x2="209.60" y2="368.44" stroke="#000" stroke-width="0.8"/>
<line x1="208.40" y1="336.73" x2="209.60" y2="336.73" stroke="#000" stroke-width="0.8"/>
<line x1="208.40" y1="305.02" x2="209.60" y2="305.02" stroke="#000" stroke-width="0.8"/>
<line x1="208.40" y1="384.30" x2="208.40" y2="382.30" stroke="#000" stroke-width="1"/>
<text x="208.40" y="393.54" font-size="9.0" text-anchor="middle" font-weight="bold" fill="#000" stroke="#000" stroke-width="0.46799999999999997">0</text>
<line x1="240.18" y1="384.30" x2="240.18" y2="382.30" stroke="#000" stroke-width="1"/>
<text x="240.18" y="393.54" font-size="9.0" text-anchor="middle" font-weight="bold" fill="#000" stroke="#000" stroke-width="0.46799999999999997">150</text>
<line x1="271.95" y1="384.30" x2="271.95" y2="382.30" stroke="#000" stroke-width="1"/>
<text x="271.95" y="393.54" font-size="9.0" text-anchor="middle" font-weight="bold" fill="#000" stroke="#000" stroke-width="0.46799999999999997">300</text>
<line x1="303.73" y1="384.30" x2="303.73" y2="382.30" stroke="#000" stroke-width="1"/>
<text x="303.73" y="393.54" font-size="9.0" text-anchor="middle" font-weight="bold" fill="#000" stroke="#000" stroke-width="0.46799999999999997">450</text>
<line x1="335.50" y1="384.30" x2="335.50" y2="382.30" stroke="#000" stroke-width="1"/>
<text x="335.50" y="393.54" font-size="9.0" text-anchor="middle" font-weight="bold" fill="#000" stroke="#000" stroke-width="0.46799999999999997">600</text>
<line x1="224.29" y1="384.30" x2="224.29" y2="383.10" stroke="#000" stroke-width="0.8"/>
<line x1="256.06" y1="384.30" x2="256.06" y2="383.10" stroke="#000" stroke-width="0.8"/>
<line x1="287.84" y1="384.30" x2="287.84" y2="383.10" stroke="#000" stroke-width="0.8"/>
<line x1="319.61" y1="384.30" x2="319.61" y2="383.10" stroke="#000" stroke-width="0.8"/>
<text x="185.90" y="332.85" font-size="9.6" text-anchor="middle" font-weight="bold" fill="#000" stroke="#000" stroke-width="0.4992" transform="rotate(-90 185.90 332.85)">-Z'' (ohm)</text>
<text x="271.95" y="405.60" font-size="9.6" text-anchor="middle" font-weight="bold" fill="#000" stroke="#000" stroke-width="0.4992">Z' (ohm)</text>
<line x1="378.40" y1="384.00" x2="380.40" y2="384.00" stroke="#000" stroke-width="1"/>
<text x="376.20" y="387.24" font-size="9.0" text-anchor="end" font-weight="bold" fill="#000" stroke="#000" stroke-width="0.46799999999999997">0</text>
<line x1="378.40" y1="352.38" x2="380.40" y2="352.38" stroke="#000" stroke-width="1"/>
<text x="376.20" y="355.62" font-size="9.0" text-anchor="end" font-weight="bold" fill="#000" stroke="#000" stroke-width="0.46799999999999997">150</text>
<line x1="378.40" y1="320.76" x2="380.40" y2="320.76" stroke="#000" stroke-width="1"/>
<text x="376.20" y="324.00" font-size="9.0" text-anchor="end" font-weight="bold" fill="#000" stroke="#000" stroke-width="0.46799999999999997">300</text>
<line x1="378.40" y1="289.15" x2="380.40" y2="289.15" stroke="#000" stroke-width="1"/>
<text x="376.20" y="292.39" font-size="9.0" text-anchor="end" font-weight="bold" fill="#000" stroke="#000" stroke-width="0.46799999999999997">450</text>
<line x1="378.40" y1="368.19" x2="379.60" y2="368.19" stroke="#000" stroke-width="0.8"/>
<line x1="378.40" y1="336.57" x2="379.60" y2="336.57" stroke="#000" stroke-width="0.8"/>
<line x1="378.40" y1="304.95" x2="379.60" y2="304.95" stroke="#000" stroke-width="0.8"/>
<line x1="378.40" y1="384.00" x2="378.40" y2="382.00" stroke="#000" stroke-width="1"/>
<text x="378.40" y="393.24" font-size="9.0" text-anchor="middle" font-weight="bold" fill="#000" stroke="#000" stroke-width="0.46799999999999997">0</text>
<line x1="410.15" y1="384.00" x2="410.15" y2="382.00" stroke="#000" stroke-width="1"/>
<text x="410.15" y="393.24" font-size="9.0" text-anchor="middle" font-weight="bold" fill="#000" stroke="#000" stroke-width="0.46799999999999997">150</text>
<line x1="441.90" y1="384.00" x2="441.90" y2="382.00" stroke="#000" stroke-width="1"/>
<text x="441.90" y="393.24" font-size="9.0" text-anchor="middle" font-weight="bold" fill="#000" stroke="#000" stroke-width="0.46799999999999997">300</text>
<line x1="473.65" y1="384.00" x2="473.65" y2="382.00" stroke="#000" stroke-width="1"/>
<text x="473.65" y="393.24" font-size="9.0" text-anchor="middle" font-weight="bold" fill="#000" stroke="#000" stroke-width="0.46799999999999997">450</text>
<line x1="505.40" y1="384.00" x2="505.40" y2="382.00" stroke="#000" stroke-width="1"/>
<text x="505.40" y="393.24" font-size="9.0" text-anchor="middle" font-weight="bold" fill="#000" stroke="#000" stroke-width="0.46799999999999997">600</text>
<line x1="394.27" y1="384.00" x2="394.27" y2="382.80" stroke="#000" stroke-width="0.8"/>
<line x1="426.02" y1="384.00" x2="426.02" y2="382.80" stroke="#000" stroke-width="0.8"/>
<line x1="457.77" y1="384.00" x2="457.77" y2="382.80" stroke="#000" stroke-width="0.8"/>
<line x1="489.52" y1="384.00" x2="489.52" y2="382.80" stroke="#000" stroke-width="0.8"/>
<text x="355.90" y="332.70" font-size="9.6" text-anchor="middle" font-weight="bold" fill="#000" stroke="#000" stroke-width="0.4992" transform="rotate(-90 355.90 332.70)">-Z'' (ohm)</text>
<text x="441.90" y="405.70" font-size="9.6" text-anchor="middle" font-weight="bold" fill="#000" stroke="#000" stroke-width="0.4992">Z' (ohm)</text>
<line x1="549.70" y1="383.70" x2="551.70" y2="383.70" stroke="#000" stroke-width="1"/>
<text x="547.50" y="386.94" font-size="9.0" text-anchor="end" font-weight="bold" fill="#000" stroke="#000" stroke-width="0.46799999999999997">0</text>
<line x1="549.70" y1="351.93" x2="551.70" y2="351.93" stroke="#000" stroke-width="1"/>
<text x="547.50" y="355.17" font-size="9.0" text-anchor="end" font-weight="bold" fill="#000" stroke="#000" stroke-width="0.46799999999999997">150</text>
<line x1="549.70" y1="320.15" x2="551.70" y2="320.15" stroke="#000" stroke-width="1"/>
<text x="547.50" y="323.39" font-size="9.0" text-anchor="end" font-weight="bold" fill="#000" stroke="#000" stroke-width="0.46799999999999997">300</text>
<line x1="549.70" y1="288.38" x2="551.70" y2="288.38" stroke="#000" stroke-width="1"/>
<text x="547.50" y="291.62" font-size="9.0" text-anchor="end" font-weight="bold" fill="#000" stroke="#000" stroke-width="0.46799999999999997">450</text>
<line x1="549.70" y1="367.81" x2="550.90" y2="367.81" stroke="#000" stroke-width="0.8"/>
<line x1="549.70" y1="336.04" x2="550.90" y2="336.04" stroke="#000" stroke-width="0.8"/>
<line x1="549.70" y1="304.27" x2="550.90" y2="304.27" stroke="#000" stroke-width="0.8"/>
<line x1="549.70" y1="383.70" x2="549.70" y2="381.70" stroke="#000" stroke-width="1"/>
<text x="549.70" y="392.94" font-size="9.0" text-anchor="middle" font-weight="bold" fill="#000" stroke="#000" stroke-width="0.46799999999999997">0</text>
<line x1="581.48" y1="383.70" x2="581.48" y2="381.70" stroke="#000" stroke-width="1"/>
<text x="581.48" y="392.94" font-size="9.0" text-anchor="middle" font-weight="bold" fill="#000" stroke="#000" stroke-width="0.46799999999999997">150</text>
<line x1="613.25" y1="383.70" x2="613.25" y2="381.70" stroke="#000" stroke-width="1"/>
<text x="613.25" y="392.94" font-size="9.0" text-anchor="middle" font-weight="bold" fill="#000" stroke="#000" stroke-width="0.46799999999999997">300</text>
<line x1="645.02" y1="383.70" x2="645.02" y2="381.70" stroke="#000" stroke-width="1"/>
<text x="645.02" y="392.94" font-size="9.0" text-anchor="middle" font-weight="bold" fill="#000" stroke="#000" stroke-width="0.46799999999999997">450</text>
<line x1="676.80" y1="383.70" x2="676.80" y2="381.70" stroke="#000" stroke-width="1"/>
<text x="676.80" y="392.94" font-size="9.0" text-anchor="middle" font-weight="bold" fill="#000" stroke="#000" stroke-width="0.46799999999999997">600</text>
<line x1="565.59" y1="383.70" x2="565.59" y2="382.50" stroke="#000" stroke-width="0.8"/>
<line x1="597.36" y1="383.70" x2="597.36" y2="382.50" stroke="#000" stroke-width="0.8"/>
<line x1="629.14" y1="383.70" x2="629.14" y2="382.50" stroke="#000" stroke-width="0.8"/>
<line x1="660.91" y1="383.70" x2="660.91" y2="382.50" stroke="#000" stroke-width="0.8"/>
<text x="527.20" y="332.15" font-size="9.6" text-anchor="middle" font-weight="bold" fill="#000" stroke="#000" stroke-width="0.4992" transform="rotate(-90 527.20 332.15)">-Z'' (ohm)</text>
<text x="613.25" y="406.40" font-size="9.6" text-anchor="middle" font-weight="bold" fill="#000" stroke="#000" stroke-width="0.4992">Z' (ohm)</text>
<line x1="42.50" y1="505.29" x2="44.50" y2="505.29" stroke="#000" stroke-width="1"/>
<text x="40.30" y="508.53" font-size="9.0" text-anchor="end" font-weight="bold" fill="#000" stroke="#000" stroke-width="0.46799999999999997">2.0</text>
<line x1="42.50" y1="486.67" x2="44.50" y2="486.67" stroke="#000" stroke-width="1"/>
<text x="40.30" y="489.91" font-size="9.0" text-anchor="end" font-weight="bold" fill="#000" stroke="#000" stroke-width="0.46799999999999997">2.5</text>
<line x1="42.50" y1="468.05" x2="44.50" y2="468.05" stroke="#000" stroke-width="1"/>
<text x="40.30" y="471.29" font-size="9.0" text-anchor="end" font-weight="bold" fill="#000" stroke="#000" stroke-width="0.46799999999999997">3.0</text>
<line x1="42.50" y1="449.44" x2="44.50" y2="449.44" stroke="#000" stroke-width="1"/>
<text x="40.30" y="452.68" font-size="9.0" text-anchor="end" font-weight="bold" fill="#000" stroke="#000" stroke-width="0.46799999999999997">3.5</text>
<line x1="42.50" y1="430.82" x2="44.50" y2="430.82" stroke="#000" stroke-width="1"/>
<text x="40.30" y="434.06" font-size="9.0" text-anchor="end" font-weight="bold" fill="#000" stroke="#000" stroke-width="0.46799999999999997">4.0</text>
<line x1="42.50" y1="412.20" x2="44.50" y2="412.20" stroke="#000" stroke-width="1"/>
<text x="40.30" y="415.44" font-size="9.0" text-anchor="end" font-weight="bold" fill="#000" stroke="#000" stroke-width="0.46799999999999997">4.5</text>
<line x1="42.50" y1="495.98" x2="43.70" y2="495.98" stroke="#000" stroke-width="0.8"/>
<line x1="42.50" y1="477.36" x2="43.70" y2="477.36" stroke="#000" stroke-width="0.8"/>
<line x1="42.50" y1="458.75" x2="43.70" y2="458.75" stroke="#000" stroke-width="0.8"/>
<line x1="42.50" y1="440.13" x2="43.70" y2="440.13" stroke="#000" stroke-width="0.8"/>
<line x1="42.50" y1="421.51" x2="43.70" y2="421.51" stroke="#000" stroke-width="0.8"/>
<line x1="42.50" y1="514.60" x2="42.50" y2="512.60" stroke="#000" stroke-width="1"/>
<text x="42.50" y="523.84" font-size="9.0" text-anchor="middle" font-weight="bold" fill="#000" stroke="#000" stroke-width="0.46799999999999997">0</text>
<line x1="67.98" y1="514.60" x2="67.98" y2="512.60" stroke="#000" stroke-width="1"/>
<text x="67.98" y="523.84" font-size="9.0" text-anchor="middle" font-weight="bold" fill="#000" stroke="#000" stroke-width="0.46799999999999997">30</text>
<line x1="93.46" y1="514.60" x2="93.46" y2="512.60" stroke="#000" stroke-width="1"/>
<text x="93.46" y="523.84" font-size="9.0" text-anchor="middle" font-weight="bold" fill="#000" stroke="#000" stroke-width="0.46799999999999997">60</text>
<line x1="118.94" y1="514.60" x2="118.94" y2="512.60" stroke="#000" stroke-width="1"/>
<text x="118.94" y="523.84" font-size="9.0" text-anchor="middle" font-weight="bold" fill="#000" stroke="#000" stroke-width="0.46799999999999997">90</text>
<line x1="144.42" y1="514.60" x2="144.42" y2="512.60" stroke="#000" stroke-width="1"/>
<text x="144.42" y="523.84" font-size="9.0" text-anchor="middle" font-weight="bold" fill="#000" stroke="#000" stroke-width="0.46799999999999997">120</text>
<line x1="169.90" y1="514.60" x2="169.90" y2="512.60" stroke="#000" stroke-width="1"/>
<text x="169.90" y="523.84" font-size="9.0" text-anchor="middle" font-weight="bold" fill="#000" stroke="#000" stroke-width="0.46799999999999997">150</text>
<line x1="55.24" y1="514.60" x2="55.24" y2="513.40" stroke="#000" stroke-width="0.8"/>
<line x1="80.72" y1="514.60" x2="80.72" y2="513.40" stroke="#000" stroke-width="0.8"/>
<line x1="106.20" y1="514.60" x2="106.20" y2="513.40" stroke="#000" stroke-width="0.8"/>
<line x1="131.68" y1="514.60" x2="131.68" y2="513.40" stroke="#000" stroke-width="0.8"/>
<line x1="157.16" y1="514.60" x2="157.16" y2="513.40" stroke="#000" stroke-width="0.8"/>
<text x="20.50" y="461.90" font-size="9.6" text-anchor="middle" font-weight="bold" fill="#000" stroke="#000" stroke-width="0.4992" transform="rotate(-90 20.50 461.90)">Voltage (V)</text>
<text x="106.20" y="536.80" font-size="9.6" text-anchor="middle" font-weight="bold" fill="#000" stroke="#000" stroke-width="0.4992">Specific Capacity (mAh g<tspan dy="-3.84" font-size="6.34">-1</tspan><tspan dy="3.84">)</tspan></text>
<line x1="209.50" y1="504.93" x2="211.50" y2="504.93" stroke="#000" stroke-width="1"/>
<text x="207.30" y="508.17" font-size="9.0" text-anchor="end" font-weight="bold" fill="#000" stroke="#000" stroke-width="0.46799999999999997">2.0</text>
<line x1="209.50" y1="486.38" x2="211.50" y2="486.38" stroke="#000" stroke-width="1"/>
<text x="207.30" y="489.62" font-size="9.0" text-anchor="end" font-weight="bold" fill="#000" stroke="#000" stroke-width="0.46799999999999997">2.5</text>
<line x1="209.50" y1="467.84" x2="211.50" y2="467.84" stroke="#000" stroke-width="1"/>
<text x="207.30" y="471.08" font-size="9.0" text-anchor="end" font-weight="bold" fill="#000" stroke="#000" stroke-width="0.46799999999999997">3.0</text>
<line x1="209.50" y1="449.29" x2="211.50" y2="449.29" stroke="#000" stroke-width="1"/>
<text x="207.30" y="452.53" font-size="9.0" text-anchor="end" font-weight="bold" fill="#000" stroke="#000" stroke-width="0.46799999999999997">3.5</text>
<line x1="209.50" y1="430.75" x2="211.50" y2="430.75" stroke="#000" stroke-width="1"/>
<text x="207.30" y="433.99" font-size="9.0" text-anchor="end" font-weight="bold" fill="#000" stroke="#000" stroke-width="0.46799999999999997">4.0</text>
<line x1="209.50" y1="412.20" x2="211.50" y2="412.20" stroke="#000" stroke-width="1"/>
<text x="207.30" y="415.44" font-size="9.0" text-anchor="end" font-weight="bold" fill="#000" stroke="#000" stroke-width="0.46799999999999997">4.5</text>
<line x1="209.50" y1="495.65" x2="210.70" y2="495.65" stroke="#000" stroke-width="0.8"/>
<line x1="209.50" y1="477.11" x2="210.70" y2="477.11" stroke="#000" stroke-width="0.8"/>
<line x1="209.50" y1="458.56" x2="210.70" y2="458.56" stroke="#000" stroke-width="0.8"/>
<line x1="209.50" y1="440.02" x2="210.70" y2="440.02" stroke="#000" stroke-width="0.8"/>
<line x1="209.50" y1="421.47" x2="210.70" y2="421.47" stroke="#000" stroke-width="0.8"/>
<line x1="209.50" y1="514.20" x2="209.50" y2="512.20" stroke="#000" stroke-width="1"/>
<text x="209.50" y="523.44" font-size="9.0" text-anchor="middle" font-weight="bold" fill="#000" stroke="#000" stroke-width="0.46799999999999997">0</text>
<line x1="234.88" y1="514.20" x2="234.88" y2="512.20" stroke="#000" stroke-width="1"/>
<text x="234.88" y="523.44" font-size="9.0" text-anchor="middle" font-weight="bold" fill="#000" stroke="#000" stroke-width="0.46799999999999997">30</text>
<line x1="260.26" y1="514.20" x2="260.26" y2="512.20" stroke="#000" stroke-width="1"/>
<text x="260.26" y="523.44" font-size="9.0" text-anchor="middle" font-weight="bold" fill="#000" stroke="#000" stroke-width="0.46799999999999997">60</text>
<line x1="285.64" y1="514.20" x2="285.64" y2="512.20" stroke="#000" stroke-width="1"/>
<text x="285.64" y="523.44" font-size="9.0" text-anchor="middle" font-weight="bold" fill="#000" stroke="#000" stroke-width="0.46799999999999997">90</text>
<line x1="311.02" y1="514.20" x2="311.02" y2="512.20" stroke="#000" stroke-width="1"/>
<text x="311.02" y="523.44" font-size="9.0" text-anchor="middle" font-weight="bold" fill="#000" stroke="#000" stroke-width="0.46799999999999997">120</text>
<line x1="336.40" y1="514.20" x2="336.40" y2="512.20" stroke="#000" stroke-width="1"/>
<text x="336.40" y="523.44" font-size="9.0" text-anchor="middle" font-weight="bold" fill="#000" stroke="#000" stroke-width="0.46799999999999997">150</text>
<line x1="222.19" y1="514.20" x2="222.19" y2="513.00" stroke="#000" stroke-width="0.8"/>
<line x1="247.57" y1="514.20" x2="247.57" y2="513.00" stroke="#000" stroke-width="0.8"/>
<line x1="272.95" y1="514.20" x2="272.95" y2="513.00" stroke="#000" stroke-width="0.8"/>
<line x1="298.33" y1="514.20" x2="298.33" y2="513.00" stroke="#000" stroke-width="0.8"/>
<line x1="323.71" y1="514.20" x2="323.71" y2="513.00" stroke="#000" stroke-width="0.8"/>
<text x="187.50" y="461.70" font-size="9.6" text-anchor="middle" font-weight="bold" fill="#000" stroke="#000" stroke-width="0.4992" transform="rotate(-90 187.50 461.70)">Voltage (V)</text>
<text x="272.95" y="535.50" font-size="9.6" text-anchor="middle" font-weight="bold" fill="#000" stroke="#000" stroke-width="0.4992">Specific Capacity (mAh g<tspan dy="-3.84" font-size="6.34">-1</tspan><tspan dy="3.84">)</tspan></text>
<line x1="379.70" y1="505.11" x2="381.70" y2="505.11" stroke="#000" stroke-width="1"/>
<text x="377.50" y="508.35" font-size="9.0" text-anchor="end" font-weight="bold" fill="#000" stroke="#000" stroke-width="0.46799999999999997">2.0</text>
<line x1="379.70" y1="486.53" x2="381.70" y2="486.53" stroke="#000" stroke-width="1"/>
<text x="377.50" y="489.77" font-size="9.0" text-anchor="end" font-weight="bold" fill="#000" stroke="#000" stroke-width="0.46799999999999997">2.5</text>
<line x1="379.70" y1="467.95" x2="381.70" y2="467.95" stroke="#000" stroke-width="1"/>
<text x="377.50" y="471.19" font-size="9.0" text-anchor="end" font-weight="bold" fill="#000" stroke="#000" stroke-width="0.46799999999999997">3.0</text>
<line x1="379.70" y1="449.36" x2="381.70" y2="449.36" stroke="#000" stroke-width="1"/>
<text x="377.50" y="452.60" font-size="9.0" text-anchor="end" font-weight="bold" fill="#000" stroke="#000" stroke-width="0.46799999999999997">3.5</text>
<line x1="379.70" y1="430.78" x2="381.70" y2="430.78" stroke="#000" stroke-width="1"/>
<text x="377.50" y="434.02" font-size="9.0" text-anchor="end" font-weight="bold" fill="#000" stroke="#000" stroke-width="0.46799999999999997">4.0</text>
<line x1="379.70" y1="412.20" x2="381.70" y2="412.20" stroke="#000" stroke-width="1"/>
<text x="377.50" y="415.44" font-size="9.0" text-anchor="end" font-weight="bold" fill="#000" stroke="#000" stroke-width="0.46799999999999997">4.5</text>
<line x1="379.70" y1="495.82" x2="380.90" y2="495.82" stroke="#000" stroke-width="0.8"/>
<line x1="379.70" y1="477.24" x2="380.90" y2="477.24" stroke="#000" stroke-width="0.8"/>
<line x1="379.70" y1="458.65" x2="380.90" y2="458.65" stroke="#000" stroke-width="0.8"/>
<line x1="379.70" y1="440.07" x2="380.90" y2="440.07" stroke="#000" stroke-width="0.8"/>
<line x1="379.70" y1="421.49" x2="380.90" y2="421.49" stroke="#000" stroke-width="0.8"/>
<line x1="379.70" y1="514.40" x2="379.70" y2="512.40" stroke="#000" stroke-width="1"/>
<text x="379.70" y="523.64" font-size="9.0" text-anchor="middle" font-weight="bold" fill="#000" stroke="#000" stroke-width="0.46799999999999997">0</text>
<line x1="405.08" y1="514.40" x2="405.08" y2="512.40" stroke="#000" stroke-width="1"/>
<text x="405.08" y="523.64" font-size="9.0" text-anchor="middle" font-weight="bold" fill="#000" stroke="#000" stroke-width="0.46799999999999997">30</text>
<line x1="430.46" y1="514.40" x2="430.46" y2="512.40" stroke="#000" stroke-width="1"/>
<text x="430.46" y="523.64" font-size="9.0" text-anchor="middle" font-weight="bold" fill="#000" stroke="#000" stroke-width="0.46799999999999997">60</text>
<line x1="455.84" y1="514.40" x2="455.84" y2="512.40" stroke="#000" stroke-width="1"/>
<text x="455.84" y="523.64" font-size="9.0" text-anchor="middle" font-weight="bold" fill="#000" stroke="#000" stroke-width="0.46799999999999997">90</text>
<line x1="481.22" y1="514.40" x2="481.22" y2="512.40" stroke="#000" stroke-width="1"/>
<text x="481.22" y="523.64" font-size="9.0" text-anchor="middle" font-weight="bold" fill="#000" stroke="#000" stroke-width="0.46799999999999997">120</text>
<line x1="506.60" y1="514.40" x2="506.60" y2="512.40" stroke="#000" stroke-width="1"/>
<text x="506.60" y="523.64" font-size="9.0" text-anchor="middle" font-weight="bold" fill="#000" stroke="#000" stroke-width="0.46799999999999997">150</text>
<line x1="392.39" y1="514.40" x2="392.39" y2="513.20" stroke="#000" stroke-width="0.8"/>
<line x1="417.77" y1="514.40" x2="417.77" y2="513.20" stroke="#000" stroke-width="0.8"/>
<line x1="443.15" y1="514.40" x2="443.15" y2="513.20" stroke="#000" stroke-width="0.8"/>
<line x1="468.53" y1="514.40" x2="468.53" y2="513.20" stroke="#000" stroke-width="0.8"/>
<line x1="493.91" y1="514.40" x2="493.91" y2="513.20" stroke="#000" stroke-width="0.8"/>
<text x="357.70" y="461.80" font-size="9.6" text-anchor="middle" font-weight="bold" fill="#000" stroke="#000" stroke-width="0.4992" transform="rotate(-90 357.70 461.80)">Voltage (V)</text>
<text x="443.15" y="536.10" font-size="9.6" text-anchor="middle" font-weight="bold" fill="#000" stroke="#000" stroke-width="0.4992">Specific Capacity (mAh g<tspan dy="-3.84" font-size="6.34">-1</tspan><tspan dy="3.84">)</tspan></text>
<line x1="550.20" y1="505.29" x2="552.20" y2="505.29" stroke="#000" stroke-width="1"/>
<text x="548.00" y="508.53" font-size="9.0" text-anchor="end" font-weight="bold" fill="#000" stroke="#000" stroke-width="0.46799999999999997">2.0</text>
<line x1="550.20" y1="486.67" x2="552.20" y2="486.67" stroke="#000" stroke-width="1"/>
<text x="548.00" y="489.91" font-size="9.0" text-anchor="end" font-weight="bold" fill="#000" stroke="#000" stroke-width="0.46799999999999997">2.5</text>
<line x1="550.20" y1="468.05" x2="552.20" y2="468.05" stroke="#000" stroke-width="1"/>
<text x="548.00" y="471.29" font-size="9.0" text-anchor="end" font-weight="bold" fill="#000" stroke="#000" stroke-width="0.46799999999999997">3.0</text>
<line x1="550.20" y1="449.44" x2="552.20" y2="449.44" stroke="#000" stroke-width="1"/>
<text x="548.00" y="452.68" font-size="9.0" text-anchor="end" font-weight="bold" fill="#000" stroke="#000" stroke-width="0.46799999999999997">3.5</text>
<line x1="550.20" y1="430.82" x2="552.20" y2="430.82" stroke="#000" stroke-width="1"/>
<text x="548.00" y="434.06" font-size="9.0" text-anchor="end" font-weight="bold" fill="#000" stroke="#000" stroke-width="0.46799999999999997">4.0</text>
<line x1="550.20" y1="412.20" x2="552.20" y2="412.20" stroke="#000" stroke-width="1"/>
<text x="548.00" y="415.44" font-size="9.0" text-anchor="end" font-weight="bold" fill="#000" stroke="#000" stroke-width="0.46799999999999997">4.5</text>
<line x1="550.20" y1="495.98" x2="551.40" y2="495.98" stroke="#000" stroke-width="0.8"/>
<line x1="550.20" y1="477.36" x2="551.40" y2="477.36" stroke="#000" stroke-width="0.8"/>
<line x1="550.20" y1="458.75" x2="551.40" y2="458.75" stroke="#000" stroke-width="0.8"/>
<line x1="550.20" y1="440.13" x2="551.40" y2="440.13" stroke="#000" stroke-width="0.8"/>
<line x1="550.20" y1="421.51" x2="551.40" y2="421.51" stroke="#000" stroke-width="0.8"/>
<line x1="550.20" y1="514.60" x2="550.20" y2="512.60" stroke="#000" stroke-width="1"/>
<text x="550.20" y="523.84" font-size="9.0" text-anchor="middle" font-weight="bold" fill="#000" stroke="#000" stroke-width="0.46799999999999997">0</text>
<line x1="575.68" y1="514.60" x2="575.68" y2="512.60" stroke="#000" stroke-width="1"/>
<text x="575.68" y="523.84" font-size="9.0" text-anchor="middle" font-weight="bold" fill="#000" stroke="#000" stroke-width="0.46799999999999997">30</text>
<line x1="601.16" y1="514.60" x2="601.16" y2="512.60" stroke="#000" stroke-width="1"/>
<text x="601.16" y="523.84" font-size="9.0" text-anchor="middle" font-weight="bold" fill="#000" stroke="#000" stroke-width="0.46799999999999997">60</text>
<line x1="626.64" y1="514.60" x2="626.64" y2="512.60" stroke="#000" stroke-width="1"/>
<text x="626.64" y="523.84" font-size="9.0" text-anchor="middle" font-weight="bold" fill="#000" stroke="#000" stroke-width="0.46799999999999997">90</text>
<line x1="652.12" y1="514.60" x2="652.12" y2="512.60" stroke="#000" stroke-width="1"/>
<text x="652.12" y="523.84" font-size="9.0" text-anchor="middle" font-weight="bold" fill="#000" stroke="#000" stroke-width="0.46799999999999997">120</text>
<line x1="677.60" y1="514.60" x2="677.60" y2="512.60" stroke="#000" stroke-width="1"/>
<text x="677.60" y="523.84" font-size="9.0" text-anchor="middle" font-weight="bold" fill="#000" stroke="#000" stroke-width="0.46799999999999997">150</text>
<line x1="562.94" y1="514.60" x2="562.94" y2="513.40" stroke="#000" stroke-width="0.8"/>
<line x1="588.42" y1="514.60" x2="588.42" y2="513.40" stroke="#000" stroke-width="0.8"/>
<line x1="613.90" y1="514.60" x2="613.90" y2="513.40" stroke="#000" stroke-width="0.8"/>
<line x1="639.38" y1="514.60" x2="639.38" y2="513.40" stroke="#000" stroke-width="0.8"/>
<line x1="664.86" y1="514.60" x2="664.86" y2="513.40" stroke="#000" stroke-width="0.8"/>
<text x="528.20" y="461.90" font-size="9.6" text-anchor="middle" font-weight="bold" fill="#000" stroke="#000" stroke-width="0.4992" transform="rotate(-90 528.20 461.90)">Voltage (V)</text>
<text x="613.90" y="536.30" font-size="9.6" text-anchor="middle" font-weight="bold" fill="#000" stroke="#000" stroke-width="0.4992">Specific Capacity (mAh g<tspan dy="-3.84" font-size="6.34">-1</tspan><tspan dy="3.84">)</tspan></text>
<circle cx="41.31" cy="45.67" r="2.5" fill="#8000ff"/>
<circle cx="42.81" cy="45.67" r="2.5" fill="#8000ff"/>
<circle cx="44.32" cy="45.67" r="2.5" fill="#8000ff"/>
<circle cx="45.83" cy="45.67" r="2.5" fill="#8000ff"/>
<circle cx="47.34" cy="45.67" r="2.5" fill="#8000ff"/>
<circle cx="41.31" cy="45.27" r="0.6" fill="#fff" opacity="0.8"/>
<circle cx="42.81" cy="45.27" r="0.6" fill="#fff" opacity="0.8"/>
<circle cx="44.32" cy="45.27" r="0.6" fill="#fff" opacity="0.8"/>
<circle cx="45.83" cy="45.27" r="0.6" fill="#fff" opacity="0.8"/>
<circle cx="47.34" cy="45.27" r="0.6" fill="#fff" opacity="0.8"/>
<circle cx="41.31" cy="45.10" r="2.5" fill="#ff1490"/>
<circle cx="42.81" cy="45.10" r="2.5" fill="#ff1490"/>
<circle cx="44.32" cy="45.10" r="2.5" fill="#ff1490"/>
<circle cx="45.83" cy="45.10" r="2.5" fill="#ff1490"/>
<circle cx="47.34" cy="45.10" r="2.5" fill="#ff1490"/>
<circle cx="41.31" cy="44.70" r="0.6" fill="#fff" opacity="0.8"/>
<circle cx="42.81" cy="44.70" r="0.6" fill="#fff" opacity="0.8"/>
<circle cx="44.32" cy="44.70" r="0.6" fill="#fff" opacity="0.8"/>
<circle cx="45.83" cy="44.70" r="0.6" fill="#fff" opacity="0.8"/>
<circle cx="47.34" cy="44.70" r="0.6" fill="#fff" opacity="0.8"/>
<circle cx="48.84" cy="48.23" r="2.5" fill="#8000ff"/>
<circle cx="50.35" cy="48.23" r="2.5" fill="#8000ff"/>
<circle cx="51.86" cy="48.23" r="2.5" fill="#8000ff"/>
<circle cx="53.36" cy="48.23" r="2.5" fill="#8000ff"/>
<circle cx="54.87" cy="48.23" r="2.5" fill="#8000ff"/>
<circle cx="48.84" cy="47.83" r="0.6" fill="#fff" opacity="0.8"/>
<circle cx="50.35" cy="47.83" r="0.6" fill="#fff" opacity="0.8"/>
<circle cx="51.86" cy="47.83" r="0.6" fill="#fff" opacity="0.8"/>
<circle cx="53.36" cy="47.83" r="0.6" fill="#fff" opacity="0.8"/>
<circle cx="54.87" cy="47.83" r="0.6" fill="#fff" opacity="0.8"/>
<circle cx="48.84" cy="47.51" r="2.5" fill="#ff1490"/>
<circle cx="50.35" cy="47.51" r="2.5" fill="#ff1490"/>
<circle cx="51.86" cy="47.51" r="2.5" fill="#ff1490"/>
<circle cx="53.36" cy="47.51" r="2.5" fill="#ff1490"/>
<circle cx="54.87" cy="47.51" r="2.5" fill="#ff1490"/>
<circle cx="48.84" cy="47.11" r="0.6" fill="#fff" opacity="0.8"/>
<circle cx="50.35" cy="47.11" r="0.6" fill="#fff" opacity="0.8"/>
<circle cx="51.86" cy="47.11" r="0.6" fill="#fff" opacity="0.8"/>
<circle cx="53.36" cy="47.11" r="0.6" fill="#fff" opacity="0.8"/>
<circle cx="54.87" cy="47.11" r="0.6" fill="#fff" opacity="0.8"/>
<circle cx="56.38" cy="52.59" r="2.5" fill="#8000ff"/>
<circle cx="57.89" cy="52.59" r="2.5" fill="#8000ff"/>
<circle cx="59.39" cy="52.59" r="2.5" fill="#8000ff"/>
<circle cx="60.90" cy="52.59" r="2.5" fill="#8000ff"/>
<circle cx="62.41" cy="52.59" r="2.5" fill="#8000ff"/>
<circle cx="56.38" cy="52.19" r="0.6" fill="#fff" opacity="0.8"/>
<circle cx="57.89" cy="52.19" r="0.6" fill="#fff" opacity="0.8"/>
<circle cx="59.39" cy="52.19" r="0.6" fill="#fff" opacity="0.8"/>
<circle cx="60.90" cy="52.19" r="0.6" fill="#fff" opacity="0.8"/>
<circle cx="62.41" cy="52.19" r="0.6" fill="#fff" opacity="0.8"/>
<circle cx="56.38" cy="51.82" r="2.5" fill="#ff1490"/>
<circle cx="57.89" cy="51.82" r="2.5" fill="#ff1490"/>
<circle cx="59.39" cy="51.82" r="2.5" fill="#ff1490"/>
<circle cx="60.90" cy="51.82" r="2.5" fill="#ff1490"/>
<circle cx="62.41" cy="51.82" r="2.5" fill="#ff1490"/>
<circle cx="56.38" cy="51.42" r="0.6" fill="#fff" opacity="0.8"/>
<circle cx="57.89" cy="51.42" r="0.6" fill="#fff" opacity="0.8"/>
<circle cx="59.39" cy="51.42" r="0.6" fill="#fff" opacity="0.8"/>
<circle cx="60.90" cy="51.42" r="0.6" fill="#fff" opacity="0.8"/>
<circle cx="62.41" cy="51.42" r="0.6" fill="#fff" opacity="0.8"/>
<circle cx="63.91" cy="56.69" r="2.5" fill="#8000ff"/>
<circle cx="65.42" cy="56.69" r="2.5" fill="#8000ff"/>
<circle cx="66.93" cy="56.69" r="2.5" fill="#8000ff"/>
<circle cx="68.43" cy="56.69" r="2.5" fill="#8000ff"/>
<circle cx="69.94" cy="56.69" r="2.5" fill="#8000ff"/>
<circle cx="63.91" cy="56.29" r="0.6" fill="#fff" opacity="0.8"/>
<circle cx="65.42" cy="56.29" r="0.6" fill="#fff" opacity="0.8"/>
<circle cx="66.93" cy="56.29" r="0.6" fill="#fff" opacity="0.8"/>
<circle cx="68.43" cy="56.29" r="0.6" fill="#fff" opacity="0.8"/>
<circle cx="69.94" cy="56.29" r="0.6" fill="#fff" opacity="0.8"/>
<circle cx="63.91" cy="55.92" r="2.5" fill="#ff1490"/>
<circle cx="65.42" cy="55.92" r="2.5" fill="#ff1490"/>
<circle cx="66.93" cy="55.92" r="2.5" fill="#ff1490"/>
<circle cx="68.43" cy="55.92" r="2.5" fill="#ff1490"/>
<circle cx="69.94" cy="55.92" r="2.5" fill="#ff1490"/>
<circle cx="63.91" cy="55.52" r="0.6" fill="#fff" opacity="0.8"/>
<circle cx="65.42" cy="55.52" r="0.6" fill="#fff" opacity="0.8"/>
<circle cx="66.93" cy="55.52" r="0.6" fill="#fff" opacity="0.8"/>
<circle cx="68.43" cy="55.52" r="0.6" fill="#fff" opacity="0.8"/>
<circle cx="69.94" cy="55.52" r="0.6" fill="#fff" opacity="0.8"/>
<circle cx="71.45" cy="62.33" r="2.5" fill="#8000ff"/>
<circle cx="72.96" cy="62.33" r="2.5" fill="#8000ff"/>
<circle cx="74.46" cy="62.33" r="2.5" fill="#8000ff"/>
<circle cx="75.97" cy="62.33" r="2.5" fill="#8000ff"/>
<circle cx="77.48" cy="62.33" r="2.5" fill="#8000ff"/>
<circle cx="71.45" cy="61.93" r="0.6" fill="#fff" opacity="0.8"/>
<circle cx="72.96" cy="61.93" r="0.6" fill="#fff" opacity="0.8"/>
<circle cx="74.46" cy="61.93" r="0.6" fill="#fff" opacity="0.8"/>
<circle cx="75.97" cy="61.93" r="0.6" fill="#fff" opacity="0.8"/>
<circle cx="77.48" cy="61.93" r="0.6" fill="#fff" opacity="0.8"/>
<circle cx="71.45" cy="61.61" r="2.5" fill="#ff1490"/>
<circle cx="72.96" cy="61.61" r="2.5" fill="#ff1490"/>
<circle cx="74.46" cy="61.61" r="2.5" fill="#ff1490"/>
<circle cx="75.97" cy="61.61" r="2.5" fill="#ff1490"/>
<circle cx="77.48" cy="61.61" r="2.5" fill="#ff1490"/>
<circle cx="71.45" cy="61.21" r="0.6" fill="#fff" opacity="0.8"/>
<circle cx="72.96" cy="61.21" r="0.6" fill="#fff" opacity="0.8"/>
<circle cx="74.46" cy="61.21" r="0.6" fill="#fff" opacity="0.8"/>
<circle cx="75.97" cy="61.21" r="0.6" fill="#fff" opacity="0.8"/>
<circle cx="77.48" cy="61.21" r="0.6" fill="#fff" opacity="0.8"/>
<circle cx="78.98" cy="67.19" r="2.5" fill="#8000ff"/>
<circle cx="80.49" cy="67.19" r="2.5" fill="#8000ff"/>
<circle cx="82.00" cy="67.19" r="2.5" fill="#8000ff"/>
<circle cx="83.51" cy="67.19" r="2.5" fill="#8000ff"/>
<circle cx="85.01" cy="67.19" r="2.5" fill="#8000ff"/>
<circle cx="78.98" cy="66.79" r="0.6" fill="#fff" opacity="0.8"/>
<circle cx="80.49" cy="66.79" r="0.6" fill="#fff" opacity="0.8"/>
<circle cx="82.00" cy="66.79" r="0.6" fill="#fff" opacity="0.8"/>
<circle cx="83.51" cy="66.79" r="0.6" fill="#fff" opacity="0.8"/>
<circle cx="85.01" cy="66.79" r="0.6" fill="#fff" opacity="0.8"/>
<circle cx="78.98" cy="64.78" r="2.5" fill="#ff1490"/>
<circle cx="80.49" cy="64.78" r="2.5" fill="#ff1490"/>
<circle cx="82.00" cy="64.78" r="2.5" fill="#ff1490"/>
<circle cx="83.51" cy="64.78" r="2.5" fill="#ff1490"/>
<circle cx="85.01" cy="64.78" r="2.5" fill="#ff1490"/>
<circle cx="78.98" cy="64.38" r="0.6" fill="#fff" opacity="0.8"/>
<circle cx="80.49" cy="64.38" r="0.6" fill="#fff" opacity="0.8"/>
<circle cx="82.00" cy="64.38" r="0.6" fill="#fff" opacity="0.8"/>
<circle cx="83.51" cy="64.38" r="0.6" fill="#fff" opacity="0.8"/>
<circle cx="85.01" cy="64.38" r="0.6" fill="#fff" opacity="0.8"/>
<circle cx="86.52" cy="79.49" r="2.5" fill="#8000ff"/>
<circle cx="88.03" cy="79.49" r="2.5" fill="#8000ff"/>
<circle cx="89.53" cy="79.49" r="2.5" fill="#8000ff"/>
<circle cx="91.04" cy="79.49" r="2.5" fill="#8000ff"/>
<circle cx="92.55" cy="79.49" r="2.5" fill="#8000ff"/>
<circle cx="86.52" cy="79.09" r="0.6" fill="#fff" opacity="0.8"/>
<circle cx="88.03" cy="79.09" r="0.6" fill="#fff" opacity="0.8"/>
<circle cx="89.53" cy="79.09" r="0.6" fill="#fff" opacity="0.8"/>
<circle cx="91.04" cy="79.09" r="0.6" fill="#fff" opacity="0.8"/>
<circle cx="92.55" cy="79.09" r="0.6" fill="#fff" opacity="0.8"/>
<circle cx="86.52" cy="72.98" r="2.5" fill="#ff1490"/>
<circle cx="88.03" cy="72.98" r="2.5" fill="#ff1490"/>
<circle cx="89.53" cy="72.98" r="2.5" fill="#ff1490"/>
<circle cx="91.04" cy="72.98" r="2.5" fill="#ff1490"/>
<circle cx="92.55" cy="72.98" r="2.5" fill="#ff1490"/>
<circle cx="86.52" cy="72.58" r="0.6" fill="#fff" opacity="0.8"/>
<circle cx="88.03" cy="72.58" r="0.6" fill="#fff" opacity="0.8"/>
<circle cx="89.53" cy="72.58" r="0.6" fill="#fff" opacity="0.8"/>
<circle cx="91.04" cy="72.58" r="0.6" fill="#fff" opacity="0.8"/>
<circle cx="92.55" cy="72.58" r="0.6" fill="#fff" opacity="0.8"/>
<circle cx="94.06" cy="105.89" r="2.5" fill="#8000ff"/>
<circle cx="95.56" cy="105.89" r="2.5" fill="#8000ff"/>
<circle cx="97.07" cy="105.89" r="2.5" fill="#8000ff"/>
<circle cx="98.58" cy="105.89" r="2.5" fill="#8000ff"/>
<circle cx="100.08" cy="105.89" r="2.5" fill="#8000ff"/>
<circle cx="94.06" cy="105.49" r="0.6" fill="#fff" opacity="0.8"/>
<circle cx="95.56" cy="105.49" r="0.6" fill="#fff" opacity="0.8"/>
<circle cx="97.07" cy="105.49" r="0.6" fill="#fff" opacity="0.8"/>
<circle cx="98.58" cy="105.49" r="0.6" fill="#fff" opacity="0.8"/>
<circle cx="100.08" cy="105.49" r="0.6" fill="#fff" opacity="0.8"/>
<circle cx="94.06" cy="83.49" r="2.5" fill="#ff1490"/>
<circle cx="95.56" cy="83.49" r="2.5" fill="#ff1490"/>
<circle cx="97.07" cy="83.49" r="2.5" fill="#ff1490"/>
<circle cx="98.58" cy="83.49" r="2.5" fill="#ff1490"/>
<circle cx="100.08" cy="83.49" r="2.5" fill="#ff1490"/>
<circle cx="94.06" cy="83.09" r="0.6" fill="#fff" opacity="0.8"/>
<circle cx="95.56" cy="83.09" r="0.6" fill="#fff" opacity="0.8"/>
<circle cx="97.07" cy="83.09" r="0.6" fill="#fff" opacity="0.8"/>
<circle cx="98.58" cy="83.09" r="0.6" fill="#fff" opacity="0.8"/>
<circle cx="100.08" cy="83.09" r="0.6" fill="#fff" opacity="0.8"/>
<circle cx="101.59" cy="114.91" r="2.5" fill="#8000ff"/>
<circle cx="103.10" cy="114.91" r="2.5" fill="#8000ff"/>
<circle cx="104.60" cy="114.91" r="2.5" fill="#8000ff"/>
<circle cx="106.11" cy="114.91" r="2.5" fill="#8000ff"/>
<circle cx="107.62" cy="114.91" r="2.5" fill="#8000ff"/>
<circle cx="101.59" cy="114.51" r="0.6" fill="#fff" opacity="0.8"/>
<circle cx="103.10" cy="114.51" r="0.6" fill="#fff" opacity="0.8"/>
<circle cx="104.60" cy="114.51" r="0.6" fill="#fff" opacity="0.8"/>
<circle cx="106.11" cy="114.51" r="0.6" fill="#fff" opacity="0.8"/>
<circle cx="107.62" cy="114.51" r="0.6" fill="#fff" opacity="0.8"/>
<circle cx="101.59" cy="97.58" r="2.5" fill="#ff1490"/>
<circle cx="103.10" cy="97.58" r="2.5" fill="#ff1490"/>
<circle cx="104.60" cy="97.58" r="2.5" fill="#ff1490"/>
<circle cx="106.11" cy="97.58" r="2.5" fill="#ff1490"/>
<circle cx="107.62" cy="97.58" r="2.5" fill="#ff1490"/>
<circle cx="101.59" cy="97.18" r="0.6" fill="#fff" opacity="0.8"/>
<circle cx="103.10" cy="97.18" r="0.6" fill="#fff" opacity="0.8"/>
<circle cx="104.60" cy="97.18" r="0.6" fill="#fff" opacity="0.8"/>
<circle cx="106.11" cy="97.18" r="0.6" fill="#fff" opacity="0.8"/>
<circle cx="107.62" cy="97.18" r="0.6" fill="#fff" opacity="0.8"/>
<circle cx="109.13" cy="118.29" r="2.5" fill="#8000ff"/>
<circle cx="110.63" cy="118.29" r="2.5" fill="#8000ff"/>
<circle cx="112.14" cy="118.29" r="2.5" fill="#8000ff"/>
<circle cx="113.65" cy="118.29" r="2.5" fill="#8000ff"/>
<circle cx="115.15" cy="118.29" r="2.5" fill="#8000ff"/>
<circle cx="109.13" cy="117.89" r="0.6" fill="#fff" opacity="0.8"/>
<circle cx="110.63" cy="117.89" r="0.6" fill="#fff" opacity="0.8"/>
<circle cx="112.14" cy="117.89" r="0.6" fill="#fff" opacity="0.8"/>
<circle cx="113.65" cy="117.89" r="0.6" fill="#fff" opacity="0.8"/>
<circle cx="115.15" cy="117.89" r="0.6" fill="#fff" opacity="0.8"/>
<circle cx="109.13" cy="105.89" r="2.5" fill="#ff1490"/>
<circle cx="110.63" cy="105.89" r="2.5" fill="#ff1490"/>
<circle cx="112.14" cy="105.89" r="2.5" fill="#ff1490"/>
<circle cx="113.65" cy="105.89" r="2.5" fill="#ff1490"/>
<circle cx="115.15" cy="105.89" r="2.5" fill="#ff1490"/>
<circle cx="109.13" cy="105.49" r="0.6" fill="#fff" opacity="0.8"/>
<circle cx="110.63" cy="105.49" r="0.6" fill="#fff" opacity="0.8"/>
<circle cx="112.14" cy="105.49" r="0.6" fill="#fff" opacity="0.8"/>
<circle cx="113.65" cy="105.49" r="0.6" fill="#fff" opacity="0.8"/>
<circle cx="115.15" cy="105.49" r="0.6" fill="#fff" opacity="0.8"/>
<circle cx="116.66" cy="120.24" r="2.5" fill="#8000ff"/>
<circle cx="118.17" cy="120.24" r="2.5" fill="#8000ff"/>
<circle cx="119.68" cy="120.24" r="2.5" fill="#8000ff"/>
<circle cx="121.18" cy="120.24" r="2.5" fill="#8000ff"/>
<circle cx="122.69" cy="120.24" r="2.5" fill="#8000ff"/>
<circle cx="116.66" cy="119.84" r="0.6" fill="#fff" opacity="0.8"/>
<circle cx="118.17" cy="119.84" r="0.6" fill="#fff" opacity="0.8"/>
<circle cx="119.68" cy="119.84" r="0.6" fill="#fff" opacity="0.8"/>
<circle cx="121.18" cy="119.84" r="0.6" fill="#fff" opacity="0.8"/>
<circle cx="122.69" cy="119.84" r="0.6" fill="#fff" opacity="0.8"/>
<circle cx="116.66" cy="108.81" r="2.5" fill="#ff1490"/>
<circle cx="118.17" cy="108.81" r="2.5" fill="#ff1490"/>
<circle cx="119.68" cy="108.81" r="2.5" fill="#ff1490"/>
<circle cx="121.18" cy="108.81" r="2.5" fill="#ff1490"/>
<circle cx="122.69" cy="108.81" r="2.5" fill="#ff1490"/>
<circle cx="116.66" cy="108.41" r="0.6" fill="#fff" opacity="0.8"/>
<circle cx="118.17" cy="108.41" r="0.6" fill="#fff" opacity="0.8"/>
<circle cx="119.68" cy="108.41" r="0.6" fill="#fff" opacity="0.8"/>
<circle cx="121.18" cy="108.41" r="0.6" fill="#fff" opacity="0.8"/>
<circle cx="122.69" cy="108.41" r="0.6" fill="#fff" opacity="0.8"/>
<circle cx="124.20" cy="121.62" r="2.5" fill="#8000ff"/>
<circle cx="125.70" cy="121.62" r="2.5" fill="#8000ff"/>
<circle cx="127.21" cy="121.62" r="2.5" fill="#8000ff"/>
<circle cx="128.72" cy="121.62" r="2.5" fill="#8000ff"/>
<circle cx="130.23" cy="121.62" r="2.5" fill="#8000ff"/>
<circle cx="124.20" cy="121.22" r="0.6" fill="#fff" opacity="0.8"/>
<circle cx="125.70" cy="121.22" r="0.6" fill="#fff" opacity="0.8"/>
<circle cx="127.21" cy="121.22" r="0.6" fill="#fff" opacity="0.8"/>
<circle cx="128.72" cy="121.22" r="0.6" fill="#fff" opacity="0.8"/>
<circle cx="130.23" cy="121.22" r="0.6" fill="#fff" opacity="0.8"/>
<circle cx="124.20" cy="111.01" r="2.5" fill="#ff1490"/>
<circle cx="125.70" cy="111.01" r="2.5" fill="#ff1490"/>
<circle cx="127.21" cy="111.01" r="2.5" fill="#ff1490"/>
<circle cx="128.72" cy="111.01" r="2.5" fill="#ff1490"/>
<circle cx="130.23" cy="111.01" r="2.5" fill="#ff1490"/>
<circle cx="124.20" cy="110.61" r="0.6" fill="#fff" opacity="0.8"/>
<circle cx="125.70" cy="110.61" r="0.6" fill="#fff" opacity="0.8"/>
<circle cx="127.21" cy="110.61" r="0.6" fill="#fff" opacity="0.8"/>
<circle cx="128.72" cy="110.61" r="0.6" fill="#fff" opacity="0.8"/>
<circle cx="130.23" cy="110.61" r="0.6" fill="#fff" opacity="0.8"/>
<circle cx="131.73" cy="48.49" r="2.5" fill="#8000ff"/>
<circle cx="133.24" cy="48.49" r="2.5" fill="#8000ff"/>
<circle cx="134.75" cy="48.49" r="2.5" fill="#8000ff"/>
<circle cx="136.25" cy="48.49" r="2.5" fill="#8000ff"/>
<circle cx="137.76" cy="48.49" r="2.5" fill="#8000ff"/>
<circle cx="139.27" cy="48.49" r="2.5" fill="#8000ff"/>
<circle cx="140.78" cy="48.49" r="2.5" fill="#8000ff"/>
<circle cx="142.28" cy="48.49" r="2.5" fill="#8000ff"/>
<circle cx="143.79" cy="48.49" r="2.5" fill="#8000ff"/>
<circle cx="145.30" cy="48.49" r="2.5" fill="#8000ff"/>
<circle cx="146.80" cy="48.49" r="2.5" fill="#8000ff"/>
<circle cx="148.31" cy="48.49" r="2.5" fill="#8000ff"/>
<circle cx="149.82" cy="48.49" r="2.5" fill="#8000ff"/>
<circle cx="151.32" cy="48.49" r="2.5" fill="#8000ff"/>
<circle cx="152.83" cy="48.49" r="2.5" fill="#8000ff"/>
<circle cx="154.34" cy="48.49" r="2.5" fill="#8000ff"/>
<circle cx="155.85" cy="48.49" r="2.5" fill="#8000ff"/>
<circle cx="157.35" cy="48.49" r="2.5" fill="#8000ff"/>
<circle cx="158.86" cy="48.49" r="2.5" fill="#8000ff"/>
<circle cx="160.37" cy="48.49" r="2.5" fill="#8000ff"/>
<circle cx="131.73" cy="48.09" r="0.6" fill="#fff" opacity="0.8"/>
<circle cx="133.24" cy="48.09" r="0.6" fill="#fff" opacity="0.8"/>
<circle cx="134.75" cy="48.09" r="0.6" fill="#fff" opacity="0.8"/>
<circle cx="136.25" cy="48.09" r="0.6" fill="#fff" opacity="0.8"/>
<circle cx="137.76" cy="48.09" r="0.6" fill="#fff" opacity="0.8"/>
<circle cx="139.27" cy="48.09" r="0.6" fill="#fff" opacity="0.8"/>
<circle cx="140.78" cy="48.09" r="0.6" fill="#fff" opacity="0.8"/>
<circle cx="142.28" cy="48.09" r="0.6" fill="#fff" opacity="0.8"/>
<circle cx="143.79" cy="48.09" r="0.6" fill="#fff" opacity="0.8"/>
<circle cx="145.30" cy="48.09" r="0.6" fill="#fff" opacity="0.8"/>
<circle cx="146.80" cy="48.09" r="0.6" fill="#fff" opacity="0.8"/>
<circle cx="148.31" cy="48.09" r="0.6" fill="#fff" opacity="0.8"/>
<circle cx="149.82" cy="48.09" r="0.6" fill="#fff" opacity="0.8"/>
<circle cx="151.32" cy="48.09" r="0.6" fill="#fff" opacity="0.8"/>
<circle cx="152.83" cy="48.09" r="0.6" fill="#fff" opacity="0.8"/>
<circle cx="154.34" cy="48.09" r="0.6" fill="#fff" opacity="0.8"/>
<circle cx="155.85" cy="48.09" r="0.6" fill="#fff" opacity="0.8"/>
<circle cx="157.35" cy="48.09" r="0.6" fill="#fff" opacity="0.8"/>
<circle cx="158.86" cy="48.09" r="0.6" fill="#fff" opacity="0.8"/>
<circle cx="160.37" cy="48.09" r="0.6" fill="#fff" opacity="0.8"/>
<circle cx="131.73" cy="47.10" r="2.5" fill="#ff1490"/>
<circle cx="133.24" cy="47.10" r="2.5" fill="#ff1490"/>
<circle cx="134.75" cy="47.10" r="2.5" fill="#ff1490"/>
<circle cx="136.25" cy="47.10" r="2.5" fill="#ff1490"/>
<circle cx="137.76" cy="47.10" r="2.5" fill="#ff1490"/>
<circle cx="139.27" cy="47.10" r="2.5" fill="#ff1490"/>
<circle cx="140.78" cy="47.10" r="2.5" fill="#ff1490"/>
<circle cx="142.28" cy="47.10" r="2.5" fill="#ff1490"/>
<circle cx="143.79" cy="47.10" r="2.5" fill="#ff1490"/>
<circle cx="145.30" cy="47.10" r="2.5" fill="#ff1490"/>
<circle cx="146.80" cy="47.10" r="2.5" fill="#ff1490"/>
<circle cx="148.31" cy="47.10" r="2.5" fill="#ff1490"/>
<circle cx="149.82" cy="47.10" r="2.5" fill="#ff1490"/>
<circle cx="151.32" cy="47.10" r="2.5" fill="#ff1490"/>
<circle cx="152.83" cy="47.10" r="2.5" fill="#ff1490"/>
<circle cx="154.34" cy="47.10" r="2.5" fill="#ff1490"/>
<circle cx="155.85" cy="47.10" r="2.5" fill="#ff1490"/>
<circle cx="157.35" cy="47.10" r="2.5" fill="#ff1490"/>
<circle cx="158.86" cy="47.10" r="2.5" fill="#ff1490"/>
<circle cx="160.37" cy="47.10" r="2.5" fill="#ff1490"/>
<circle cx="131.73" cy="46.70" r="0.6" fill="#fff" opacity="0.8"/>
<circle cx="133.24" cy="46.70" r="0.6" fill="#fff" opacity="0.8"/>
<circle cx="134.75" cy="46.70" r="0.6" fill="#fff" opacity="0.8"/>
<circle cx="136.25" cy="46.70" r="0.6" fill="#fff" opacity="0.8"/>
<circle cx="137.76" cy="46.70" r="0.6" fill="#fff" opacity="0.8"/>
<circle cx="139.27" cy="46.70" r="0.6" fill="#fff" opacity="0.8"/>
<circle cx="140.78" cy="46.70" r="0.6" fill="#fff" opacity="0.8"/>
<circle cx="142.28" cy="46.70" r="0.6" fill="#fff" opacity="0.8"/>
<circle cx="143.79" cy="46.70" r="0.6" fill="#fff" opacity="0.8"/>
<circle cx="145.30" cy="46.70" r="0.6" fill="#fff" opacity="0.8"/>
<circle cx="146.80" cy="46.70" r="0.6" fill="#fff" opacity="0.8"/>
<circle cx="148.31" cy="46.70" r="0.6" fill="#fff" opacity="0.8"/>
<circle cx="149.82" cy="46.70" r="0.6" fill="#fff" opacity="0.8"/>
<circle cx="151.32" cy="46.70" r="0.6" fill="#fff" opacity="0.8"/>
<circle cx="152.83" cy="46.70" r="0.6" fill="#fff" opacity="0.8"/>
<circle cx="154.34" cy="46.70" r="0.6" fill="#fff" opacity="0.8"/>
<circle cx="155.85" cy="46.70" r="0.6" fill="#fff" opacity="0.8"/>
<circle cx="157.35" cy="46.70" r="0.6" fill="#fff" opacity="0.8"/>
<circle cx="158.86" cy="46.70" r="0.6" fill="#fff" opacity="0.8"/>
<circle cx="160.37" cy="46.70" r="0.6" fill="#fff" opacity="0.8"/>
<text x="44.60" y="42.22" font-size="8.4" text-anchor="middle" font-weight="bold" fill="#000" stroke="#000" stroke-width="0.4368">0.1</text>
<text x="48.80" y="57.02" font-size="8.4" text-anchor="middle" font-weight="bold" fill="#000" stroke="#000" stroke-width="0.4368">0.2</text>
<text x="60.70" y="49.12" font-size="8.4" text-anchor="middle" font-weight="bold" fill="#000" stroke="#000" stroke-width="0.4368">0.5</text>
<text x="67.60" y="52.52" font-size="8.4" text-anchor="middle" font-weight="bold" fill="#000" stroke="#000" stroke-width="0.4368">1</text>
<text x="74.70" y="58.82" font-size="8.4" text-anchor="middle" font-weight="bold" fill="#000" stroke="#000" stroke-width="0.4368">2</text>
<text x="82.00" y="62.32" font-size="8.4" text-anchor="middle" font-weight="bold" fill="#000" stroke="#000" stroke-width="0.4368">3</text>
<text x="89.80" y="70.22" font-size="8.4" text-anchor="middle" font-weight="bold" fill="#000" stroke="#000" stroke-width="0.4368">5</text>
<text x="96.80" y="80.42" font-size="8.4" text-anchor="middle" font-weight="bold" fill="#000" stroke="#000" stroke-width="0.4368">6</text>
<text x="104.90" y="95.12" font-size="8.4" text-anchor="middle" font-weight="bold" fill="#000" stroke="#000" stroke-width="0.4368">7</text>
<text x="112.00" y="103.62" font-size="8.4" text-anchor="middle" font-weight="bold" fill="#000" stroke="#000" stroke-width="0.4368">8</text>
<text x="118.70" y="106.92" font-size="8.4" text-anchor="middle" font-weight="bold" fill="#000" stroke="#000" stroke-width="0.4368">9</text>
<text x="125.80" y="108.12" font-size="8.4" text-anchor="middle" font-weight="bold" fill="#000" stroke="#000" stroke-width="0.4368">10</text>
<text x="146.50" y="44.22" font-size="8.4" text-anchor="middle" font-weight="bold" fill="#000" stroke="#000" stroke-width="0.4368">0.2 C</text>
<text x="42.00" y="118.60" font-size="9" text-anchor="start" font-weight="bold" fill="#000" stroke="#000" stroke-width="0.46799999999999997">14 mg cm<tspan dy="-3.60" font-size="5.94">-2</tspan></text>
<circle cx="84.40" cy="26.00" r="2.3" fill="#8000ff"/>
<circle cx="84.10" cy="25.40" r="0.57" fill="#fff" opacity="0.8"/>
<circle cx="84.40" cy="34.50" r="2.3" fill="#ff1490"/>
<circle cx="84.10" cy="33.90" r="0.57" fill="#fff" opacity="0.8"/>
<text x="92.00" y="28.09" font-size="7.2" text-anchor="start" font-weight="bold" fill="#000" stroke="#000" stroke-width="0.3744">Unstructured LFP</text>
<text x="92.00" y="37.29" font-size="7.2" text-anchor="start" font-weight="bold" fill="#000" stroke="#000" stroke-width="0.3744">Laser-structured LFP</text>
<circle cx="210.62" cy="45.03" r="2.5" fill="#8000ff"/>
<circle cx="212.74" cy="45.03" r="2.5" fill="#8000ff"/>
<circle cx="214.87" cy="45.03" r="2.5" fill="#8000ff"/>
<circle cx="216.99" cy="45.03" r="2.5" fill="#8000ff"/>
<circle cx="219.11" cy="45.03" r="2.5" fill="#8000ff"/>
<circle cx="210.62" cy="44.63" r="0.6" fill="#fff" opacity="0.8"/>
<circle cx="212.74" cy="44.63" r="0.6" fill="#fff" opacity="0.8"/>
<circle cx="214.87" cy="44.63" r="0.6" fill="#fff" opacity="0.8"/>
<circle cx="216.99" cy="44.63" r="0.6" fill="#fff" opacity="0.8"/>
<circle cx="219.11" cy="44.63" r="0.6" fill="#fff" opacity="0.8"/>
<circle cx="210.62" cy="44.51" r="2.5" fill="#ff1490"/>
<circle cx="212.74" cy="44.51" r="2.5" fill="#ff1490"/>
<circle cx="214.87" cy="44.51" r="2.5" fill="#ff1490"/>
<circle cx="216.99" cy="44.51" r="2.5" fill="#ff1490"/>
<circle cx="219.11" cy="44.51" r="2.5" fill="#ff1490"/>
<circle cx="210.62" cy="44.11" r="0.6" fill="#fff" opacity="0.8"/>
<circle cx="212.74" cy="44.11" r="0.6" fill="#fff" opacity="0.8"/>
<circle cx="214.87" cy="44.11" r="0.6" fill="#fff" opacity="0.8"/>
<circle cx="216.99" cy="44.11" r="0.6" fill="#fff" opacity="0.8"/>
<circle cx="219.11" cy="44.11" r="0.6" fill="#fff" opacity="0.8"/>
<circle cx="221.23" cy="49.64" r="2.5" fill="#8000ff"/>
<circle cx="223.35" cy="49.64" r="2.5" fill="#8000ff"/>
<circle cx="225.47" cy="49.64" r="2.5" fill="#8000ff"/>
<circle cx="227.59" cy="49.64" r="2.5" fill="#8000ff"/>
<circle cx="229.72" cy="49.64" r="2.5" fill="#8000ff"/>
<circle cx="221.23" cy="49.24" r="0.6" fill="#fff" opacity="0.8"/>
<circle cx="223.35" cy="49.24" r="0.6" fill="#fff" opacity="0.8"/>
<circle cx="225.47" cy="49.24" r="0.6" fill="#fff" opacity="0.8"/>
<circle cx="227.59" cy="49.24" r="0.6" fill="#fff" opacity="0.8"/>
<circle cx="229.72" cy="49.24" r="0.6" fill="#fff" opacity="0.8"/>
<circle cx="221.23" cy="46.56" r="2.5" fill="#ff1490"/>
<circle cx="223.35" cy="46.56" r="2.5" fill="#ff1490"/>
<circle cx="225.47" cy="46.56" r="2.5" fill="#ff1490"/>
<circle cx="227.59" cy="46.56" r="2.5" fill="#ff1490"/>
<circle cx="229.72" cy="46.56" r="2.5" fill="#ff1490"/>
<circle cx="221.23" cy="46.16" r="0.6" fill="#fff" opacity="0.8"/>
<circle cx="223.35" cy="46.16" r="0.6" fill="#fff" opacity="0.8"/>
<circle cx="225.47" cy="46.16" r="0.6" fill="#fff" opacity="0.8"/>
<circle cx="227.59" cy="46.16" r="0.6" fill="#fff" opacity="0.8"/>
<circle cx="229.72" cy="46.16" r="0.6" fill="#fff" opacity="0.8"/>
<circle cx="231.84" cy="53.74" r="2.5" fill="#8000ff"/>
<circle cx="233.96" cy="53.74" r="2.5" fill="#8000ff"/>
<circle cx="236.08" cy="53.74" r="2.5" fill="#8000ff"/>
<circle cx="238.20" cy="53.74" r="2.5" fill="#8000ff"/>
<circle cx="240.32" cy="53.74" r="2.5" fill="#8000ff"/>
<circle cx="231.84" cy="53.34" r="0.6" fill="#fff" opacity="0.8"/>
<circle cx="233.96" cy="53.34" r="0.6" fill="#fff" opacity="0.8"/>
<circle cx="236.08" cy="53.34" r="0.6" fill="#fff" opacity="0.8"/>
<circle cx="238.20" cy="53.34" r="0.6" fill="#fff" opacity="0.8"/>
<circle cx="240.32" cy="53.34" r="0.6" fill="#fff" opacity="0.8"/>
<circle cx="231.84" cy="51.18" r="2.5" fill="#ff1490"/>
<circle cx="233.96" cy="51.18" r="2.5" fill="#ff1490"/>
<circle cx="236.08" cy="51.18" r="2.5" fill="#ff1490"/>
<circle cx="238.20" cy="51.18" r="2.5" fill="#ff1490"/>
<circle cx="240.32" cy="51.18" r="2.5" fill="#ff1490"/>
<circle cx="231.84" cy="50.78" r="0.6" fill="#fff" opacity="0.8"/>
<circle cx="233.96" cy="50.78" r="0.6" fill="#fff" opacity="0.8"/>
<circle cx="236.08" cy="50.78" r="0.6" fill="#fff" opacity="0.8"/>
<circle cx="238.20" cy="50.78" r="0.6" fill="#fff" opacity="0.8"/>
<circle cx="240.32" cy="50.78" r="0.6" fill="#fff" opacity="0.8"/>
<circle cx="242.45" cy="63.88" r="2.5" fill="#8000ff"/>
<circle cx="244.57" cy="63.88" r="2.5" fill="#8000ff"/>
<circle cx="246.69" cy="63.88" r="2.5" fill="#8000ff"/>
<circle cx="248.81" cy="63.88" r="2.5" fill="#8000ff"/>
<circle cx="250.93" cy="63.88" r="2.5" fill="#8000ff"/>
<circle cx="242.45" cy="63.48" r="0.6" fill="#fff" opacity="0.8"/>
<circle cx="244.57" cy="63.48" r="0.6" fill="#fff" opacity="0.8"/>
<circle cx="246.69" cy="63.48" r="0.6" fill="#fff" opacity="0.8"/>
<circle cx="248.81" cy="63.48" r="0.6" fill="#fff" opacity="0.8"/>
<circle cx="250.93" cy="63.48" r="0.6" fill="#fff" opacity="0.8"/>
<circle cx="242.45" cy="56.04" r="2.5" fill="#ff1490"/>
<circle cx="244.57" cy="56.04" r="2.5" fill="#ff1490"/>
<circle cx="246.69" cy="56.04" r="2.5" fill="#ff1490"/>
<circle cx="248.81" cy="56.04" r="2.5" fill="#ff1490"/>
<circle cx="250.93" cy="56.04" r="2.5" fill="#ff1490"/>
<circle cx="242.45" cy="55.64" r="0.6" fill="#fff" opacity="0.8"/>
<circle cx="244.57" cy="55.64" r="0.6" fill="#fff" opacity="0.8"/>
<circle cx="246.69" cy="55.64" r="0.6" fill="#fff" opacity="0.8"/>
<circle cx="248.81" cy="55.64" r="0.6" fill="#fff" opacity="0.8"/>
<circle cx="250.93" cy="55.64" r="0.6" fill="#fff" opacity="0.8"/>
<circle cx="253.06" cy="96.28" r="2.5" fill="#8000ff"/>
<circle cx="255.18" cy="96.28" r="2.5" fill="#8000ff"/>
<circle cx="257.30" cy="96.28" r="2.5" fill="#8000ff"/>
<circle cx="259.42" cy="96.28" r="2.5" fill="#8000ff"/>
<circle cx="261.54" cy="96.28" r="2.5" fill="#8000ff"/>
<circle cx="253.06" cy="95.88" r="0.6" fill="#fff" opacity="0.8"/>
<circle cx="255.18" cy="95.88" r="0.6" fill="#fff" opacity="0.8"/>
<circle cx="257.30" cy="95.88" r="0.6" fill="#fff" opacity="0.8"/>
<circle cx="259.42" cy="95.88" r="0.6" fill="#fff" opacity="0.8"/>
<circle cx="261.54" cy="95.88" r="0.6" fill="#fff" opacity="0.8"/>
<circle cx="253.06" cy="72.19" r="2.5" fill="#ff1490"/>
<circle cx="255.18" cy="72.19" r="2.5" fill="#ff1490"/>
<circle cx="257.30" cy="72.19" r="2.5" fill="#ff1490"/>
<circle cx="259.42" cy="72.19" r="2.5" fill="#ff1490"/>
<circle cx="261.54" cy="72.19" r="2.5" fill="#ff1490"/>
<circle cx="253.06" cy="71.79" r="0.6" fill="#fff" opacity="0.8"/>
<circle cx="255.18" cy="71.79" r="0.6" fill="#fff" opacity="0.8"/>
<circle cx="257.30" cy="71.79" r="0.6" fill="#fff" opacity="0.8"/>
<circle cx="259.42" cy="71.79" r="0.6" fill="#fff" opacity="0.8"/>
<circle cx="261.54" cy="71.79" r="0.6" fill="#fff" opacity="0.8"/>
<circle cx="263.66" cy="114.11" r="2.5" fill="#8000ff"/>
<circle cx="265.79" cy="114.11" r="2.5" fill="#8000ff"/>
<circle cx="267.91" cy="114.11" r="2.5" fill="#8000ff"/>
<circle cx="270.03" cy="114.11" r="2.5" fill="#8000ff"/>
<circle cx="272.15" cy="114.11" r="2.5" fill="#8000ff"/>
<circle cx="263.66" cy="113.71" r="0.6" fill="#fff" opacity="0.8"/>
<circle cx="265.79" cy="113.71" r="0.6" fill="#fff" opacity="0.8"/>
<circle cx="267.91" cy="113.71" r="0.6" fill="#fff" opacity="0.8"/>
<circle cx="270.03" cy="113.71" r="0.6" fill="#fff" opacity="0.8"/>
<circle cx="272.15" cy="113.71" r="0.6" fill="#fff" opacity="0.8"/>
<circle cx="263.66" cy="101.14" r="2.5" fill="#ff1490"/>
<circle cx="265.79" cy="101.14" r="2.5" fill="#ff1490"/>
<circle cx="267.91" cy="101.14" r="2.5" fill="#ff1490"/>
<circle cx="270.03" cy="101.14" r="2.5" fill="#ff1490"/>
<circle cx="272.15" cy="101.14" r="2.5" fill="#ff1490"/>
<circle cx="263.66" cy="100.74" r="0.6" fill="#fff" opacity="0.8"/>
<circle cx="265.79" cy="100.74" r="0.6" fill="#fff" opacity="0.8"/>
<circle cx="267.91" cy="100.74" r="0.6" fill="#fff" opacity="0.8"/>
<circle cx="270.03" cy="100.74" r="0.6" fill="#fff" opacity="0.8"/>
<circle cx="272.15" cy="100.74" r="0.6" fill="#fff" opacity="0.8"/>
<circle cx="274.27" cy="120.67" r="2.5" fill="#8000ff"/>
<circle cx="276.39" cy="120.67" r="2.5" fill="#8000ff"/>
<circle cx="278.51" cy="120.67" r="2.5" fill="#8000ff"/>
<circle cx="280.64" cy="120.67" r="2.5" fill="#8000ff"/>
<circle cx="282.76" cy="120.67" r="2.5" fill="#8000ff"/>
<circle cx="274.27" cy="120.27" r="0.6" fill="#fff" opacity="0.8"/>
<circle cx="276.39" cy="120.27" r="0.6" fill="#fff" opacity="0.8"/>
<circle cx="278.51" cy="120.27" r="0.6" fill="#fff" opacity="0.8"/>
<circle cx="280.64" cy="120.27" r="0.6" fill="#fff" opacity="0.8"/>
<circle cx="282.76" cy="120.27" r="0.6" fill="#fff" opacity="0.8"/>
<circle cx="274.27" cy="112.78" r="2.5" fill="#ff1490"/>
<circle cx="276.39" cy="112.78" r="2.5" fill="#ff1490"/>
<circle cx="278.51" cy="112.78" r="2.5" fill="#ff1490"/>
<circle cx="280.64" cy="112.78" r="2.5" fill="#ff1490"/>
<circle cx="282.76" cy="112.78" r="2.5" fill="#ff1490"/>
<circle cx="274.27" cy="112.38" r="0.6" fill="#fff" opacity="0.8"/>
<circle cx="276.39" cy="112.38" r="0.6" fill="#fff" opacity="0.8"/>
<circle cx="278.51" cy="112.38" r="0.6" fill="#fff" opacity="0.8"/>
<circle cx="280.64" cy="112.38" r="0.6" fill="#fff" opacity="0.8"/>
<circle cx="282.76" cy="112.38" r="0.6" fill="#fff" opacity="0.8"/>
<circle cx="284.88" cy="47.59" r="2.5" fill="#8000ff"/>
<circle cx="287.00" cy="47.59" r="2.5" fill="#8000ff"/>
<circle cx="289.12" cy="47.59" r="2.5" fill="#8000ff"/>
<circle cx="291.25" cy="47.59" r="2.5" fill="#8000ff"/>
<circle cx="293.37" cy="47.59" r="2.5" fill="#8000ff"/>
<circle cx="295.49" cy="47.59" r="2.5" fill="#8000ff"/>
<circle cx="297.61" cy="47.59" r="2.5" fill="#8000ff"/>
<circle cx="299.73" cy="47.59" r="2.5" fill="#8000ff"/>
<circle cx="301.85" cy="47.59" r="2.5" fill="#8000ff"/>
<circle cx="303.98" cy="47.59" r="2.5" fill="#8000ff"/>
<circle cx="306.10" cy="47.59" r="2.5" fill="#8000ff"/>
<circle cx="308.22" cy="47.59" r="2.5" fill="#8000ff"/>
<circle cx="310.34" cy="47.59" r="2.5" fill="#8000ff"/>
<circle cx="312.46" cy="47.59" r="2.5" fill="#8000ff"/>
<circle cx="314.58" cy="47.59" r="2.5" fill="#8000ff"/>
<circle cx="316.71" cy="47.59" r="2.5" fill="#8000ff"/>
<circle cx="318.83" cy="47.59" r="2.5" fill="#8000ff"/>
<circle cx="320.95" cy="47.59" r="2.5" fill="#8000ff"/>
<circle cx="323.07" cy="47.59" r="2.5" fill="#8000ff"/>
<circle cx="325.19" cy="47.59" r="2.5" fill="#8000ff"/>
<circle cx="284.88" cy="47.19" r="0.6" fill="#fff" opacity="0.8"/>
<circle cx="287.00" cy="47.19" r="0.6" fill="#fff" opacity="0.8"/>
<circle cx="289.12" cy="47.19" r="0.6" fill="#fff" opacity="0.8"/>
<circle cx="291.25" cy="47.19" r="0.6" fill="#fff" opacity="0.8"/>
<circle cx="293.37" cy="47.19" r="0.6" fill="#fff" opacity="0.8"/>
<circle cx="295.49" cy="47.19" r="0.6" fill="#fff" opacity="0.8"/>
<circle cx="297.61" cy="47.19" r="0.6" fill="#fff" opacity="0.8"/>
<circle cx="299.73" cy="47.19" r="0.6" fill="#fff" opacity="0.8"/>
<circle cx="301.85" cy="47.19" r="0.6" fill="#fff" opacity="0.8"/>
<circle cx="303.98" cy="47.19" r="0.6" fill="#fff" opacity="0.8"/>
<circle cx="306.10" cy="47.19" r="0.6" fill="#fff" opacity="0.8"/>
<circle cx="308.22" cy="47.19" r="0.6" fill="#fff" opacity="0.8"/>
<circle cx="310.34" cy="47.19" r="0.6" fill="#fff" opacity="0.8"/>
<circle cx="312.46" cy="47.19" r="0.6" fill="#fff" opacity="0.8"/>
<circle cx="314.58" cy="47.19" r="0.6" fill="#fff" opacity="0.8"/>
<circle cx="316.71" cy="47.19" r="0.6" fill="#fff" opacity="0.8"/>
<circle cx="318.83" cy="47.19" r="0.6" fill="#fff" opacity="0.8"/>
<circle cx="320.95" cy="47.19" r="0.6" fill="#fff" opacity="0.8"/>
<circle cx="323.07" cy="47.19" r="0.6" fill="#fff" opacity="0.8"/>
<circle cx="325.19" cy="47.19" r="0.6" fill="#fff" opacity="0.8"/>
<circle cx="284.88" cy="46.82" r="2.5" fill="#ff1490"/>
<circle cx="287.00" cy="46.82" r="2.5" fill="#ff1490"/>
<circle cx="289.12" cy="46.82" r="2.5" fill="#ff1490"/>
<circle cx="291.25" cy="46.82" r="2.5" fill="#ff1490"/>
<circle cx="293.37" cy="46.82" r="2.5" fill="#ff1490"/>
<circle cx="295.49" cy="46.82" r="2.5" fill="#ff1490"/>
<circle cx="297.61" cy="46.82" r="2.5" fill="#ff1490"/>
<circle cx="299.73" cy="46.82" r="2.5" fill="#ff1490"/>
<circle cx="301.85" cy="46.82" r="2.5" fill="#ff1490"/>
<circle cx="303.98" cy="46.82" r="2.5" fill="#ff1490"/>
<circle cx="306.10" cy="46.82" r="2.5" fill="#ff1490"/>
<circle cx="308.22" cy="46.82" r="2.5" fill="#ff1490"/>
<circle cx="310.34" cy="46.82" r="2.5" fill="#ff1490"/>
<circle cx="312.46" cy="46.82" r="2.5" fill="#ff1490"/>
<circle cx="314.58" cy="46.82" r="2.5" fill="#ff1490"/>
<circle cx="316.71" cy="46.82" r="2.5" fill="#ff1490"/>
<circle cx="318.83" cy="46.82" r="2.5" fill="#ff1490"/>
<circle cx="320.95" cy="46.82" r="2.5" fill="#ff1490"/>
<circle cx="323.07" cy="46.82" r="2.5" fill="#ff1490"/>
<circle cx="325.19" cy="46.82" r="2.5" fill="#ff1490"/>
<circle cx="284.88" cy="46.42" r="0.6" fill="#fff" opacity="0.8"/>
<circle cx="287.00" cy="46.42" r="0.6" fill="#fff" opacity="0.8"/>
<circle cx="289.12" cy="46.42" r="0.6" fill="#fff" opacity="0.8"/>
<circle cx="291.25" cy="46.42" r="0.6" fill="#fff" opacity="0.8"/>
<circle cx="293.37" cy="46.42" r="0.6" fill="#fff" opacity="0.8"/>
<circle cx="295.49" cy="46.42" r="0.6" fill="#fff" opacity="0.8"/>
<circle cx="297.61" cy="46.42" r="0.6" fill="#fff" opacity="0.8"/>
<circle cx="299.73" cy="46.42" r="0.6" fill="#fff" opacity="0.8"/>
<circle cx="301.85" cy="46.42" r="0.6" fill="#fff" opacity="0.8"/>
<circle cx="303.98" cy="46.42" r="0.6" fill="#fff" opacity="0.8"/>
<circle cx="306.10" cy="46.42" r="0.6" fill="#fff" opacity="0.8"/>
<circle cx="308.22" cy="46.42" r="0.6" fill="#fff" opacity="0.8"/>
<circle cx="310.34" cy="46.42" r="0.6" fill="#fff" opacity="0.8"/>
<circle cx="312.46" cy="46.42" r="0.6" fill="#fff" opacity="0.8"/>
<circle cx="314.58" cy="46.42" r="0.6" fill="#fff" opacity="0.8"/>
<circle cx="316.71" cy="46.42" r="0.6" fill="#fff" opacity="0.8"/>
<circle cx="318.83" cy="46.42" r="0.6" fill="#fff" opacity="0.8"/>
<circle cx="320.95" cy="46.42" r="0.6" fill="#fff" opacity="0.8"/>
<circle cx="323.07" cy="46.42" r="0.6" fill="#fff" opacity="0.8"/>
<circle cx="325.19" cy="46.42" r="0.6" fill="#fff" opacity="0.8"/>
<text x="213.80" y="42.02" font-size="8.4" text-anchor="middle" font-weight="bold" fill="#000" stroke="#000" stroke-width="0.4368">0.1</text>
<text x="224.90" y="44.02" font-size="8.4" text-anchor="middle" font-weight="bold" fill="#000" stroke="#000" stroke-width="0.4368">0.2</text>
<text x="236.60" y="48.42" font-size="8.4" text-anchor="middle" font-weight="bold" fill="#000" stroke="#000" stroke-width="0.4368">0.5</text>
<text x="246.10" y="53.62" font-size="8.4" text-anchor="middle" font-weight="bold" fill="#000" stroke="#000" stroke-width="0.4368">1</text>
<text x="257.00" y="68.42" font-size="8.4" text-anchor="middle" font-weight="bold" fill="#000" stroke="#000" stroke-width="0.4368">2</text>
<text x="268.00" y="97.02" font-size="8.4" text-anchor="middle" font-weight="bold" fill="#000" stroke="#000" stroke-width="0.4368">3</text>
<text x="278.20" y="110.02" font-size="8.4" text-anchor="middle" font-weight="bold" fill="#000" stroke="#000" stroke-width="0.4368">5</text>
<text x="307.00" y="43.22" font-size="8.4" text-anchor="middle" font-weight="bold" fill="#000" stroke="#000" stroke-width="0.4368">0.2 C</text>
<text x="284.50" y="29.85" font-size="9.3" text-anchor="start" font-weight="bold" fill="#000" stroke="#000" stroke-width="0.48360000000000003">30 mg cm<tspan dy="-3.72" font-size="6.14">-2</tspan></text>
<circle cx="380.23" cy="44.53" r="2.5" fill="#8000ff"/>
<circle cx="382.35" cy="44.53" r="2.5" fill="#8000ff"/>
<circle cx="384.48" cy="44.53" r="2.5" fill="#8000ff"/>
<circle cx="386.60" cy="44.53" r="2.5" fill="#8000ff"/>
<circle cx="388.73" cy="44.53" r="2.5" fill="#8000ff"/>
<circle cx="380.23" cy="44.13" r="0.6" fill="#fff" opacity="0.8"/>
<circle cx="382.35" cy="44.13" r="0.6" fill="#fff" opacity="0.8"/>
<circle cx="384.48" cy="44.13" r="0.6" fill="#fff" opacity="0.8"/>
<circle cx="386.60" cy="44.13" r="0.6" fill="#fff" opacity="0.8"/>
<circle cx="388.73" cy="44.13" r="0.6" fill="#fff" opacity="0.8"/>
<circle cx="380.23" cy="44.12" r="2.5" fill="#ff1490"/>
<circle cx="382.35" cy="44.12" r="2.5" fill="#ff1490"/>
<circle cx="384.48" cy="44.12" r="2.5" fill="#ff1490"/>
<circle cx="386.60" cy="44.12" r="2.5" fill="#ff1490"/>
<circle cx="388.73" cy="44.12" r="2.5" fill="#ff1490"/>
<circle cx="380.23" cy="43.72" r="0.6" fill="#fff" opacity="0.8"/>
<circle cx="382.35" cy="43.72" r="0.6" fill="#fff" opacity="0.8"/>
<circle cx="384.48" cy="43.72" r="0.6" fill="#fff" opacity="0.8"/>
<circle cx="386.60" cy="43.72" r="0.6" fill="#fff" opacity="0.8"/>
<circle cx="388.73" cy="43.72" r="0.6" fill="#fff" opacity="0.8"/>
<circle cx="390.85" cy="48.11" r="2.5" fill="#8000ff"/>
<circle cx="392.98" cy="48.11" r="2.5" fill="#8000ff"/>
<circle cx="395.10" cy="48.11" r="2.5" fill="#8000ff"/>
<circle cx="397.23" cy="48.11" r="2.5" fill="#8000ff"/>
<circle cx="399.35" cy="48.11" r="2.5" fill="#8000ff"/>
<circle cx="390.85" cy="47.71" r="0.6" fill="#fff" opacity="0.8"/>
<circle cx="392.98" cy="47.71" r="0.6" fill="#fff" opacity="0.8"/>
<circle cx="395.10" cy="47.71" r="0.6" fill="#fff" opacity="0.8"/>
<circle cx="397.23" cy="47.71" r="0.6" fill="#fff" opacity="0.8"/>
<circle cx="399.35" cy="47.71" r="0.6" fill="#fff" opacity="0.8"/>
<circle cx="390.85" cy="46.22" r="2.5" fill="#ff1490"/>
<circle cx="392.98" cy="46.22" r="2.5" fill="#ff1490"/>
<circle cx="395.10" cy="46.22" r="2.5" fill="#ff1490"/>
<circle cx="397.23" cy="46.22" r="2.5" fill="#ff1490"/>
<circle cx="399.35" cy="46.22" r="2.5" fill="#ff1490"/>
<circle cx="390.85" cy="45.82" r="0.6" fill="#fff" opacity="0.8"/>
<circle cx="392.98" cy="45.82" r="0.6" fill="#fff" opacity="0.8"/>
<circle cx="395.10" cy="45.82" r="0.6" fill="#fff" opacity="0.8"/>
<circle cx="397.23" cy="45.82" r="0.6" fill="#fff" opacity="0.8"/>
<circle cx="399.35" cy="45.82" r="0.6" fill="#fff" opacity="0.8"/>
<circle cx="401.48" cy="62.31" r="2.5" fill="#8000ff"/>
<circle cx="403.60" cy="62.31" r="2.5" fill="#8000ff"/>
<circle cx="405.73" cy="62.31" r="2.5" fill="#8000ff"/>
<circle cx="407.85" cy="62.31" r="2.5" fill="#8000ff"/>
<circle cx="409.98" cy="62.31" r="2.5" fill="#8000ff"/>
<circle cx="401.48" cy="61.91" r="0.6" fill="#fff" opacity="0.8"/>
<circle cx="403.60" cy="61.91" r="0.6" fill="#fff" opacity="0.8"/>
<circle cx="405.73" cy="61.91" r="0.6" fill="#fff" opacity="0.8"/>
<circle cx="407.85" cy="61.91" r="0.6" fill="#fff" opacity="0.8"/>
<circle cx="409.98" cy="61.91" r="0.6" fill="#fff" opacity="0.8"/>
<circle cx="401.48" cy="49.91" r="2.5" fill="#ff1490"/>
<circle cx="403.60" cy="49.91" r="2.5" fill="#ff1490"/>
<circle cx="405.73" cy="49.91" r="2.5" fill="#ff1490"/>
<circle cx="407.85" cy="49.91" r="2.5" fill="#ff1490"/>
<circle cx="409.98" cy="49.91" r="2.5" fill="#ff1490"/>
<circle cx="401.48" cy="49.51" r="0.6" fill="#fff" opacity="0.8"/>
<circle cx="403.60" cy="49.51" r="0.6" fill="#fff" opacity="0.8"/>
<circle cx="405.73" cy="49.51" r="0.6" fill="#fff" opacity="0.8"/>
<circle cx="407.85" cy="49.51" r="0.6" fill="#fff" opacity="0.8"/>
<circle cx="409.98" cy="49.51" r="0.6" fill="#fff" opacity="0.8"/>
<circle cx="412.10" cy="95.26" r="2.5" fill="#8000ff"/>
<circle cx="414.23" cy="95.26" r="2.5" fill="#8000ff"/>
<circle cx="416.35" cy="95.26" r="2.5" fill="#8000ff"/>
<circle cx="418.48" cy="95.26" r="2.5" fill="#8000ff"/>
<circle cx="420.60" cy="95.26" r="2.5" fill="#8000ff"/>
<circle cx="412.10" cy="94.86" r="0.6" fill="#fff" opacity="0.8"/>
<circle cx="414.23" cy="94.86" r="0.6" fill="#fff" opacity="0.8"/>
<circle cx="416.35" cy="94.86" r="0.6" fill="#fff" opacity="0.8"/>
<circle cx="418.48" cy="94.86" r="0.6" fill="#fff" opacity="0.8"/>
<circle cx="420.60" cy="94.86" r="0.6" fill="#fff" opacity="0.8"/>
<circle cx="412.10" cy="55.03" r="2.5" fill="#ff1490"/>
<circle cx="414.23" cy="55.03" r="2.5" fill="#ff1490"/>
<circle cx="416.35" cy="55.03" r="2.5" fill="#ff1490"/>
<circle cx="418.48" cy="55.03" r="2.5" fill="#ff1490"/>
<circle cx="420.60" cy="55.03" r="2.5" fill="#ff1490"/>
<circle cx="412.10" cy="54.63" r="0.6" fill="#fff" opacity="0.8"/>
<circle cx="414.23" cy="54.63" r="0.6" fill="#fff" opacity="0.8"/>
<circle cx="416.35" cy="54.63" r="0.6" fill="#fff" opacity="0.8"/>
<circle cx="418.48" cy="54.63" r="0.6" fill="#fff" opacity="0.8"/>
<circle cx="420.60" cy="54.63" r="0.6" fill="#fff" opacity="0.8"/>
<circle cx="422.73" cy="111.15" r="2.5" fill="#8000ff"/>
<circle cx="424.85" cy="111.15" r="2.5" fill="#8000ff"/>
<circle cx="426.98" cy="111.15" r="2.5" fill="#8000ff"/>
<circle cx="429.10" cy="111.15" r="2.5" fill="#8000ff"/>
<circle cx="431.23" cy="111.15" r="2.5" fill="#8000ff"/>
<circle cx="422.73" cy="110.75" r="0.6" fill="#fff" opacity="0.8"/>
<circle cx="424.85" cy="110.75" r="0.6" fill="#fff" opacity="0.8"/>
<circle cx="426.98" cy="110.75" r="0.6" fill="#fff" opacity="0.8"/>
<circle cx="429.10" cy="110.75" r="0.6" fill="#fff" opacity="0.8"/>
<circle cx="431.23" cy="110.75" r="0.6" fill="#fff" opacity="0.8"/>
<circle cx="422.73" cy="63.59" r="2.5" fill="#ff1490"/>
<circle cx="424.85" cy="63.59" r="2.5" fill="#ff1490"/>
<circle cx="426.98" cy="63.59" r="2.5" fill="#ff1490"/>
<circle cx="429.10" cy="63.59" r="2.5" fill="#ff1490"/>
<circle cx="431.23" cy="63.59" r="2.5" fill="#ff1490"/>
<circle cx="422.73" cy="63.19" r="0.6" fill="#fff" opacity="0.8"/>
<circle cx="424.85" cy="63.19" r="0.6" fill="#fff" opacity="0.8"/>
<circle cx="426.98" cy="63.19" r="0.6" fill="#fff" opacity="0.8"/>
<circle cx="429.10" cy="63.19" r="0.6" fill="#fff" opacity="0.8"/>
<circle cx="431.23" cy="63.19" r="0.6" fill="#fff" opacity="0.8"/>
<circle cx="433.35" cy="116.89" r="2.5" fill="#8000ff"/>
<circle cx="435.48" cy="116.89" r="2.5" fill="#8000ff"/>
<circle cx="437.60" cy="116.89" r="2.5" fill="#8000ff"/>
<circle cx="439.73" cy="116.89" r="2.5" fill="#8000ff"/>
<circle cx="441.85" cy="116.89" r="2.5" fill="#8000ff"/>
<circle cx="433.35" cy="116.49" r="0.6" fill="#fff" opacity="0.8"/>
<circle cx="435.48" cy="116.49" r="0.6" fill="#fff" opacity="0.8"/>
<circle cx="437.60" cy="116.49" r="0.6" fill="#fff" opacity="0.8"/>
<circle cx="439.73" cy="116.49" r="0.6" fill="#fff" opacity="0.8"/>
<circle cx="441.85" cy="116.49" r="0.6" fill="#fff" opacity="0.8"/>
<circle cx="433.35" cy="81.78" r="2.5" fill="#ff1490"/>
<circle cx="435.48" cy="81.78" r="2.5" fill="#ff1490"/>
<circle cx="437.60" cy="81.78" r="2.5" fill="#ff1490"/>
<circle cx="439.73" cy="81.78" r="2.5" fill="#ff1490"/>
<circle cx="441.85" cy="81.78" r="2.5" fill="#ff1490"/>
<circle cx="433.35" cy="81.38" r="0.6" fill="#fff" opacity="0.8"/>
<circle cx="435.48" cy="81.38" r="0.6" fill="#fff" opacity="0.8"/>
<circle cx="437.60" cy="81.38" r="0.6" fill="#fff" opacity="0.8"/>
<circle cx="439.73" cy="81.38" r="0.6" fill="#fff" opacity="0.8"/>
<circle cx="441.85" cy="81.38" r="0.6" fill="#fff" opacity="0.8"/>
<circle cx="443.98" cy="120.73" r="2.5" fill="#8000ff"/>
<circle cx="446.10" cy="120.73" r="2.5" fill="#8000ff"/>
<circle cx="448.23" cy="120.73" r="2.5" fill="#8000ff"/>
<circle cx="450.35" cy="120.73" r="2.5" fill="#8000ff"/>
<circle cx="452.48" cy="120.73" r="2.5" fill="#8000ff"/>
<circle cx="443.98" cy="120.33" r="0.6" fill="#fff" opacity="0.8"/>
<circle cx="446.10" cy="120.33" r="0.6" fill="#fff" opacity="0.8"/>
<circle cx="448.23" cy="120.33" r="0.6" fill="#fff" opacity="0.8"/>
<circle cx="450.35" cy="120.33" r="0.6" fill="#fff" opacity="0.8"/>
<circle cx="452.48" cy="120.33" r="0.6" fill="#fff" opacity="0.8"/>
<circle cx="443.98" cy="103.10" r="2.5" fill="#ff1490"/>
<circle cx="446.10" cy="103.10" r="2.5" fill="#ff1490"/>
<circle cx="448.23" cy="103.10" r="2.5" fill="#ff1490"/>
<circle cx="450.35" cy="103.10" r="2.5" fill="#ff1490"/>
<circle cx="452.48" cy="103.10" r="2.5" fill="#ff1490"/>
<circle cx="443.98" cy="102.70" r="0.6" fill="#fff" opacity="0.8"/>
<circle cx="446.10" cy="102.70" r="0.6" fill="#fff" opacity="0.8"/>
<circle cx="448.23" cy="102.70" r="0.6" fill="#fff" opacity="0.8"/>
<circle cx="450.35" cy="102.70" r="0.6" fill="#fff" opacity="0.8"/>
<circle cx="452.48" cy="102.70" r="0.6" fill="#fff" opacity="0.8"/>
<circle cx="454.60" cy="47.60" r="2.5" fill="#8000ff"/>
<circle cx="456.73" cy="47.60" r="2.5" fill="#8000ff"/>
<circle cx="458.85" cy="47.60" r="2.5" fill="#8000ff"/>
<circle cx="460.98" cy="47.60" r="2.5" fill="#8000ff"/>
<circle cx="463.10" cy="47.60" r="2.5" fill="#8000ff"/>
<circle cx="465.23" cy="47.60" r="2.5" fill="#8000ff"/>
<circle cx="467.35" cy="47.60" r="2.5" fill="#8000ff"/>
<circle cx="469.48" cy="47.60" r="2.5" fill="#8000ff"/>
<circle cx="471.60" cy="47.60" r="2.5" fill="#8000ff"/>
<circle cx="473.73" cy="47.60" r="2.5" fill="#8000ff"/>
<circle cx="475.85" cy="47.60" r="2.5" fill="#8000ff"/>
<circle cx="477.98" cy="47.60" r="2.5" fill="#8000ff"/>
<circle cx="480.10" cy="47.60" r="2.5" fill="#8000ff"/>
<circle cx="482.23" cy="47.60" r="2.5" fill="#8000ff"/>
<circle cx="484.35" cy="47.60" r="2.5" fill="#8000ff"/>
<circle cx="486.48" cy="47.60" r="2.5" fill="#8000ff"/>
<circle cx="488.60" cy="47.60" r="2.5" fill="#8000ff"/>
<circle cx="490.73" cy="47.60" r="2.5" fill="#8000ff"/>
<circle cx="492.85" cy="47.60" r="2.5" fill="#8000ff"/>
<circle cx="494.98" cy="47.60" r="2.5" fill="#8000ff"/>
<circle cx="454.60" cy="47.20" r="0.6" fill="#fff" opacity="0.8"/>
<circle cx="456.73" cy="47.20" r="0.6" fill="#fff" opacity="0.8"/>
<circle cx="458.85" cy="47.20" r="0.6" fill="#fff" opacity="0.8"/>
<circle cx="460.98" cy="47.20" r="0.6" fill="#fff" opacity="0.8"/>
<circle cx="463.10" cy="47.20" r="0.6" fill="#fff" opacity="0.8"/>
<circle cx="465.23" cy="47.20" r="0.6" fill="#fff" opacity="0.8"/>
<circle cx="467.35" cy="47.20" r="0.6" fill="#fff" opacity="0.8"/>
<circle cx="469.48" cy="47.20" r="0.6" fill="#fff" opacity="0.8"/>
<circle cx="471.60" cy="47.20" r="0.6" fill="#fff" opacity="0.8"/>
<circle cx="473.73" cy="47.20" r="0.6" fill="#fff" opacity="0.8"/>
<circle cx="475.85" cy="47.20" r="0.6" fill="#fff" opacity="0.8"/>
<circle cx="477.98" cy="47.20" r="0.6" fill="#fff" opacity="0.8"/>
<circle cx="480.10" cy="47.20" r="0.6" fill="#fff" opacity="0.8"/>
<circle cx="482.23" cy="47.20" r="0.6" fill="#fff" opacity="0.8"/>
<circle cx="484.35" cy="47.20" r="0.6" fill="#fff" opacity="0.8"/>
<circle cx="486.48" cy="47.20" r="0.6" fill="#fff" opacity="0.8"/>
<circle cx="488.60" cy="47.20" r="0.6" fill="#fff" opacity="0.8"/>
<circle cx="490.73" cy="47.20" r="0.6" fill="#fff" opacity="0.8"/>
<circle cx="492.85" cy="47.20" r="0.6" fill="#fff" opacity="0.8"/>
<circle cx="494.98" cy="47.20" r="0.6" fill="#fff" opacity="0.8"/>
<circle cx="454.60" cy="46.22" r="2.5" fill="#ff1490"/>
<circle cx="456.73" cy="46.22" r="2.5" fill="#ff1490"/>
<circle cx="458.85" cy="46.22" r="2.5" fill="#ff1490"/>
<circle cx="460.98" cy="46.22" r="2.5" fill="#ff1490"/>
<circle cx="463.10" cy="46.22" r="2.5" fill="#ff1490"/>
<circle cx="465.23" cy="46.22" r="2.5" fill="#ff1490"/>
<circle cx="467.35" cy="46.22" r="2.5" fill="#ff1490"/>
<circle cx="469.48" cy="46.22" r="2.5" fill="#ff1490"/>
<circle cx="471.60" cy="46.22" r="2.5" fill="#ff1490"/>
<circle cx="473.73" cy="46.22" r="2.5" fill="#ff1490"/>
<circle cx="475.85" cy="46.22" r="2.5" fill="#ff1490"/>
<circle cx="477.98" cy="46.22" r="2.5" fill="#ff1490"/>
<circle cx="480.10" cy="46.22" r="2.5" fill="#ff1490"/>
<circle cx="482.23" cy="46.22" r="2.5" fill="#ff1490"/>
<circle cx="484.35" cy="46.22" r="2.5" fill="#ff1490"/>
<circle cx="486.48" cy="46.22" r="2.5" fill="#ff1490"/>
<circle cx="488.60" cy="46.22" r="2.5" fill="#ff1490"/>
<circle cx="490.73" cy="46.22" r="2.5" fill="#ff1490"/>
<circle cx="492.85" cy="46.22" r="2.5" fill="#ff1490"/>
<circle cx="494.98" cy="46.22" r="2.5" fill="#ff1490"/>
<circle cx="454.60" cy="45.82" r="0.6" fill="#fff" opacity="0.8"/>
<circle cx="456.73" cy="45.82" r="0.6" fill="#fff" opacity="0.8"/>
<circle cx="458.85" cy="45.82" r="0.6" fill="#fff" opacity="0.8"/>
<circle cx="460.98" cy="45.82" r="0.6" fill="#fff" opacity="0.8"/>
<circle cx="463.10" cy="45.82" r="0.6" fill="#fff" opacity="0.8"/>
<circle cx="465.23" cy="45.82" r="0.6" fill="#fff" opacity="0.8"/>
<circle cx="467.35" cy="45.82" r="0.6" fill="#fff" opacity="0.8"/>
<circle cx="469.48" cy="45.82" r="0.6" fill="#fff" opacity="0.8"/>
<circle cx="471.60" cy="45.82" r="0.6" fill="#fff" opacity="0.8"/>
<circle cx="473.73" cy="45.82" r="0.6" fill="#fff" opacity="0.8"/>
<circle cx="475.85" cy="45.82" r="0.6" fill="#fff" opacity="0.8"/>
<circle cx="477.98" cy="45.82" r="0.6" fill="#fff" opacity="0.8"/>
<circle cx="480.10" cy="45.82" r="0.6" fill="#fff" opacity="0.8"/>
<circle cx="482.23" cy="45.82" r="0.6" fill="#fff" opacity="0.8"/>
<circle cx="484.35" cy="45.82" r="0.6" fill="#fff" opacity="0.8"/>
<circle cx="486.48" cy="45.82" r="0.6" fill="#fff" opacity="0.8"/>
<circle cx="488.60" cy="45.82" r="0.6" fill="#fff" opacity="0.8"/>
<circle cx="490.73" cy="45.82" r="0.6" fill="#fff" opacity="0.8"/>
<circle cx="492.85" cy="45.82" r="0.6" fill="#fff" opacity="0.8"/>
<circle cx="494.98" cy="45.82" r="0.6" fill="#fff" opacity="0.8"/>
<text x="383.90" y="40.72" font-size="8.4" text-anchor="middle" font-weight="bold" fill="#000" stroke="#000" stroke-width="0.4368">0.1</text>
<text x="394.90" y="43.22" font-size="8.4" text-anchor="middle" font-weight="bold" fill="#000" stroke="#000" stroke-width="0.4368">0.2</text>
<text x="406.00" y="47.72" font-size="8.4" text-anchor="middle" font-weight="bold" fill="#000" stroke="#000" stroke-width="0.4368">0.5</text>
<text x="416.40" y="51.82" font-size="8.4" text-anchor="middle" font-weight="bold" fill="#000" stroke="#000" stroke-width="0.4368">1</text>
<text x="426.80" y="61.42" font-size="8.4" text-anchor="middle" font-weight="bold" fill="#000" stroke="#000" stroke-width="0.4368">1.5</text>
<text x="437.60" y="78.82" font-size="8.4" text-anchor="middle" font-weight="bold" fill="#000" stroke="#000" stroke-width="0.4368">2</text>
<text x="448.20" y="100.42" font-size="8.4" text-anchor="middle" font-weight="bold" fill="#000" stroke="#000" stroke-width="0.4368">3</text>
<text x="477.00" y="42.02" font-size="8.4" text-anchor="middle" font-weight="bold" fill="#000" stroke="#000" stroke-width="0.4368">0.2 C</text>
<text x="455.60" y="29.35" font-size="9.3" text-anchor="start" font-weight="bold" fill="#000" stroke="#000" stroke-width="0.48360000000000003">40 mg cm<tspan dy="-3.72" font-size="6.14">-2</tspan></text>
<circle cx="551.52" cy="43.90" r="2.5" fill="#8000ff"/>
<circle cx="553.64" cy="43.90" r="2.5" fill="#8000ff"/>
<circle cx="555.76" cy="43.90" r="2.5" fill="#8000ff"/>
<circle cx="557.89" cy="43.90" r="2.5" fill="#8000ff"/>
<circle cx="560.01" cy="43.90" r="2.5" fill="#8000ff"/>
<circle cx="551.52" cy="43.50" r="0.6" fill="#fff" opacity="0.8"/>
<circle cx="553.64" cy="43.50" r="0.6" fill="#fff" opacity="0.8"/>
<circle cx="555.76" cy="43.50" r="0.6" fill="#fff" opacity="0.8"/>
<circle cx="557.89" cy="43.50" r="0.6" fill="#fff" opacity="0.8"/>
<circle cx="560.01" cy="43.50" r="0.6" fill="#fff" opacity="0.8"/>
<circle cx="551.52" cy="43.49" r="2.5" fill="#ff1490"/>
<circle cx="553.64" cy="43.49" r="2.5" fill="#ff1490"/>
<circle cx="555.76" cy="43.49" r="2.5" fill="#ff1490"/>
<circle cx="557.89" cy="43.49" r="2.5" fill="#ff1490"/>
<circle cx="560.01" cy="43.49" r="2.5" fill="#ff1490"/>
<circle cx="551.52" cy="43.09" r="0.6" fill="#fff" opacity="0.8"/>
<circle cx="553.64" cy="43.09" r="0.6" fill="#fff" opacity="0.8"/>
<circle cx="555.76" cy="43.09" r="0.6" fill="#fff" opacity="0.8"/>
<circle cx="557.89" cy="43.09" r="0.6" fill="#fff" opacity="0.8"/>
<circle cx="560.01" cy="43.09" r="0.6" fill="#fff" opacity="0.8"/>
<circle cx="562.13" cy="46.77" r="2.5" fill="#8000ff"/>
<circle cx="564.25" cy="46.77" r="2.5" fill="#8000ff"/>
<circle cx="566.37" cy="46.77" r="2.5" fill="#8000ff"/>
<circle cx="568.50" cy="46.77" r="2.5" fill="#8000ff"/>
<circle cx="570.62" cy="46.77" r="2.5" fill="#8000ff"/>
<circle cx="562.13" cy="46.37" r="0.6" fill="#fff" opacity="0.8"/>
<circle cx="564.25" cy="46.37" r="0.6" fill="#fff" opacity="0.8"/>
<circle cx="566.37" cy="46.37" r="0.6" fill="#fff" opacity="0.8"/>
<circle cx="568.50" cy="46.37" r="0.6" fill="#fff" opacity="0.8"/>
<circle cx="570.62" cy="46.37" r="0.6" fill="#fff" opacity="0.8"/>
<circle cx="562.13" cy="44.92" r="2.5" fill="#ff1490"/>
<circle cx="564.25" cy="44.92" r="2.5" fill="#ff1490"/>
<circle cx="566.37" cy="44.92" r="2.5" fill="#ff1490"/>
<circle cx="568.50" cy="44.92" r="2.5" fill="#ff1490"/>
<circle cx="570.62" cy="44.92" r="2.5" fill="#ff1490"/>
<circle cx="562.13" cy="44.52" r="0.6" fill="#fff" opacity="0.8"/>
<circle cx="564.25" cy="44.52" r="0.6" fill="#fff" opacity="0.8"/>
<circle cx="566.37" cy="44.52" r="0.6" fill="#fff" opacity="0.8"/>
<circle cx="568.50" cy="44.52" r="0.6" fill="#fff" opacity="0.8"/>
<circle cx="570.62" cy="44.52" r="0.6" fill="#fff" opacity="0.8"/>
<circle cx="572.74" cy="64.94" r="2.5" fill="#8000ff"/>
<circle cx="574.86" cy="64.94" r="2.5" fill="#8000ff"/>
<circle cx="576.98" cy="64.94" r="2.5" fill="#8000ff"/>
<circle cx="579.10" cy="64.94" r="2.5" fill="#8000ff"/>
<circle cx="581.23" cy="64.94" r="2.5" fill="#8000ff"/>
<circle cx="572.74" cy="64.54" r="0.6" fill="#fff" opacity="0.8"/>
<circle cx="574.86" cy="64.54" r="0.6" fill="#fff" opacity="0.8"/>
<circle cx="576.98" cy="64.54" r="0.6" fill="#fff" opacity="0.8"/>
<circle cx="579.10" cy="64.54" r="0.6" fill="#fff" opacity="0.8"/>
<circle cx="581.23" cy="64.54" r="0.6" fill="#fff" opacity="0.8"/>
<circle cx="572.74" cy="48.87" r="2.5" fill="#ff1490"/>
<circle cx="574.86" cy="48.87" r="2.5" fill="#ff1490"/>
<circle cx="576.98" cy="48.87" r="2.5" fill="#ff1490"/>
<circle cx="579.10" cy="48.87" r="2.5" fill="#ff1490"/>
<circle cx="581.23" cy="48.87" r="2.5" fill="#ff1490"/>
<circle cx="572.74" cy="48.47" r="0.6" fill="#fff" opacity="0.8"/>
<circle cx="574.86" cy="48.47" r="0.6" fill="#fff" opacity="0.8"/>
<circle cx="576.98" cy="48.47" r="0.6" fill="#fff" opacity="0.8"/>
<circle cx="579.10" cy="48.47" r="0.6" fill="#fff" opacity="0.8"/>
<circle cx="581.23" cy="48.47" r="0.6" fill="#fff" opacity="0.8"/>
<circle cx="583.35" cy="94.84" r="2.5" fill="#8000ff"/>
<circle cx="585.47" cy="94.84" r="2.5" fill="#8000ff"/>
<circle cx="587.59" cy="94.84" r="2.5" fill="#8000ff"/>
<circle cx="589.71" cy="94.84" r="2.5" fill="#8000ff"/>
<circle cx="591.83" cy="94.84" r="2.5" fill="#8000ff"/>
<circle cx="583.35" cy="94.44" r="0.6" fill="#fff" opacity="0.8"/>
<circle cx="585.47" cy="94.44" r="0.6" fill="#fff" opacity="0.8"/>
<circle cx="587.59" cy="94.44" r="0.6" fill="#fff" opacity="0.8"/>
<circle cx="589.71" cy="94.44" r="0.6" fill="#fff" opacity="0.8"/>
<circle cx="591.83" cy="94.44" r="0.6" fill="#fff" opacity="0.8"/>
<circle cx="583.35" cy="51.99" r="2.5" fill="#ff1490"/>
<circle cx="585.47" cy="51.99" r="2.5" fill="#ff1490"/>
<circle cx="587.59" cy="51.99" r="2.5" fill="#ff1490"/>
<circle cx="589.71" cy="51.99" r="2.5" fill="#ff1490"/>
<circle cx="591.83" cy="51.99" r="2.5" fill="#ff1490"/>
<circle cx="583.35" cy="51.59" r="0.6" fill="#fff" opacity="0.8"/>
<circle cx="585.47" cy="51.59" r="0.6" fill="#fff" opacity="0.8"/>
<circle cx="587.59" cy="51.59" r="0.6" fill="#fff" opacity="0.8"/>
<circle cx="589.71" cy="51.59" r="0.6" fill="#fff" opacity="0.8"/>
<circle cx="591.83" cy="51.59" r="0.6" fill="#fff" opacity="0.8"/>
<circle cx="593.96" cy="108.31" r="2.5" fill="#8000ff"/>
<circle cx="596.08" cy="108.31" r="2.5" fill="#8000ff"/>
<circle cx="598.20" cy="108.31" r="2.5" fill="#8000ff"/>
<circle cx="600.32" cy="108.31" r="2.5" fill="#8000ff"/>
<circle cx="602.44" cy="108.31" r="2.5" fill="#8000ff"/>
<circle cx="593.96" cy="107.91" r="0.6" fill="#fff" opacity="0.8"/>
<circle cx="596.08" cy="107.91" r="0.6" fill="#fff" opacity="0.8"/>
<circle cx="598.20" cy="107.91" r="0.6" fill="#fff" opacity="0.8"/>
<circle cx="600.32" cy="107.91" r="0.6" fill="#fff" opacity="0.8"/>
<circle cx="602.44" cy="107.91" r="0.6" fill="#fff" opacity="0.8"/>
<circle cx="593.96" cy="56.39" r="2.5" fill="#ff1490"/>
<circle cx="596.08" cy="56.39" r="2.5" fill="#ff1490"/>
<circle cx="598.20" cy="56.39" r="2.5" fill="#ff1490"/>
<circle cx="600.32" cy="56.39" r="2.5" fill="#ff1490"/>
<circle cx="602.44" cy="56.39" r="2.5" fill="#ff1490"/>
<circle cx="593.96" cy="55.99" r="0.6" fill="#fff" opacity="0.8"/>
<circle cx="596.08" cy="55.99" r="0.6" fill="#fff" opacity="0.8"/>
<circle cx="598.20" cy="55.99" r="0.6" fill="#fff" opacity="0.8"/>
<circle cx="600.32" cy="55.99" r="0.6" fill="#fff" opacity="0.8"/>
<circle cx="602.44" cy="55.99" r="0.6" fill="#fff" opacity="0.8"/>
<circle cx="604.56" cy="116.09" r="2.5" fill="#8000ff"/>
<circle cx="606.69" cy="116.09" r="2.5" fill="#8000ff"/>
<circle cx="608.81" cy="116.09" r="2.5" fill="#8000ff"/>
<circle cx="610.93" cy="116.09" r="2.5" fill="#8000ff"/>
<circle cx="613.05" cy="116.09" r="2.5" fill="#8000ff"/>
<circle cx="604.56" cy="115.69" r="0.6" fill="#fff" opacity="0.8"/>
<circle cx="606.69" cy="115.69" r="0.6" fill="#fff" opacity="0.8"/>
<circle cx="608.81" cy="115.69" r="0.6" fill="#fff" opacity="0.8"/>
<circle cx="610.93" cy="115.69" r="0.6" fill="#fff" opacity="0.8"/>
<circle cx="613.05" cy="115.69" r="0.6" fill="#fff" opacity="0.8"/>
<circle cx="604.56" cy="76.92" r="2.5" fill="#ff1490"/>
<circle cx="606.69" cy="76.92" r="2.5" fill="#ff1490"/>
<circle cx="608.81" cy="76.92" r="2.5" fill="#ff1490"/>
<circle cx="610.93" cy="76.92" r="2.5" fill="#ff1490"/>
<circle cx="613.05" cy="76.92" r="2.5" fill="#ff1490"/>
<circle cx="604.56" cy="76.52" r="0.6" fill="#fff" opacity="0.8"/>
<circle cx="606.69" cy="76.52" r="0.6" fill="#fff" opacity="0.8"/>
<circle cx="608.81" cy="76.52" r="0.6" fill="#fff" opacity="0.8"/>
<circle cx="610.93" cy="76.52" r="0.6" fill="#fff" opacity="0.8"/>
<circle cx="613.05" cy="76.52" r="0.6" fill="#fff" opacity="0.8"/>
<circle cx="615.17" cy="118.65" r="2.5" fill="#8000ff"/>
<circle cx="617.29" cy="118.65" r="2.5" fill="#8000ff"/>
<circle cx="619.41" cy="118.65" r="2.5" fill="#8000ff"/>
<circle cx="621.54" cy="118.65" r="2.5" fill="#8000ff"/>
<circle cx="623.66" cy="118.65" r="2.5" fill="#8000ff"/>
<circle cx="615.17" cy="118.25" r="0.6" fill="#fff" opacity="0.8"/>
<circle cx="617.29" cy="118.25" r="0.6" fill="#fff" opacity="0.8"/>
<circle cx="619.41" cy="118.25" r="0.6" fill="#fff" opacity="0.8"/>
<circle cx="621.54" cy="118.25" r="0.6" fill="#fff" opacity="0.8"/>
<circle cx="623.66" cy="118.25" r="0.6" fill="#fff" opacity="0.8"/>
<circle cx="615.17" cy="103.91" r="2.5" fill="#ff1490"/>
<circle cx="617.29" cy="103.91" r="2.5" fill="#ff1490"/>
<circle cx="619.41" cy="103.91" r="2.5" fill="#ff1490"/>
<circle cx="621.54" cy="103.91" r="2.5" fill="#ff1490"/>
<circle cx="623.66" cy="103.91" r="2.5" fill="#ff1490"/>
<circle cx="615.17" cy="103.51" r="0.6" fill="#fff" opacity="0.8"/>
<circle cx="617.29" cy="103.51" r="0.6" fill="#fff" opacity="0.8"/>
<circle cx="619.41" cy="103.51" r="0.6" fill="#fff" opacity="0.8"/>
<circle cx="621.54" cy="103.51" r="0.6" fill="#fff" opacity="0.8"/>
<circle cx="623.66" cy="103.51" r="0.6" fill="#fff" opacity="0.8"/>
<circle cx="625.78" cy="46.97" r="2.5" fill="#8000ff"/>
<circle cx="627.90" cy="46.97" r="2.5" fill="#8000ff"/>
<circle cx="630.02" cy="46.97" r="2.5" fill="#8000ff"/>
<circle cx="632.14" cy="46.97" r="2.5" fill="#8000ff"/>
<circle cx="634.27" cy="46.97" r="2.5" fill="#8000ff"/>
<circle cx="636.39" cy="46.97" r="2.5" fill="#8000ff"/>
<circle cx="638.51" cy="46.97" r="2.5" fill="#8000ff"/>
<circle cx="640.63" cy="46.97" r="2.5" fill="#8000ff"/>
<circle cx="642.75" cy="46.97" r="2.5" fill="#8000ff"/>
<circle cx="644.88" cy="46.97" r="2.5" fill="#8000ff"/>
<circle cx="647.00" cy="46.97" r="2.5" fill="#8000ff"/>
<circle cx="649.12" cy="46.97" r="2.5" fill="#8000ff"/>
<circle cx="651.24" cy="46.97" r="2.5" fill="#8000ff"/>
<circle cx="653.36" cy="46.97" r="2.5" fill="#8000ff"/>
<circle cx="655.48" cy="46.97" r="2.5" fill="#8000ff"/>
<circle cx="657.61" cy="46.97" r="2.5" fill="#8000ff"/>
<circle cx="659.73" cy="46.97" r="2.5" fill="#8000ff"/>
<circle cx="661.85" cy="46.97" r="2.5" fill="#8000ff"/>
<circle cx="663.97" cy="46.97" r="2.5" fill="#8000ff"/>
<circle cx="666.09" cy="46.97" r="2.5" fill="#8000ff"/>
<circle cx="625.78" cy="46.57" r="0.6" fill="#fff" opacity="0.8"/>
<circle cx="627.90" cy="46.57" r="0.6" fill="#fff" opacity="0.8"/>
<circle cx="630.02" cy="46.57" r="0.6" fill="#fff" opacity="0.8"/>
<circle cx="632.14" cy="46.57" r="0.6" fill="#fff" opacity="0.8"/>
<circle cx="634.27" cy="46.57" r="0.6" fill="#fff" opacity="0.8"/>
<circle cx="636.39" cy="46.57" r="0.6" fill="#fff" opacity="0.8"/>
<circle cx="638.51" cy="46.57" r="0.6" fill="#fff" opacity="0.8"/>
<circle cx="640.63" cy="46.57" r="0.6" fill="#fff" opacity="0.8"/>
<circle cx="642.75" cy="46.57" r="0.6" fill="#fff" opacity="0.8"/>
<circle cx="644.88" cy="46.57" r="0.6" fill="#fff" opacity="0.8"/>
<circle cx="647.00" cy="46.57" r="0.6" fill="#fff" opacity="0.8"/>
<circle cx="649.12" cy="46.57" r="0.6" fill="#fff" opacity="0.8"/>
<circle cx="651.24" cy="46.57" r="0.6" fill="#fff" opacity="0.8"/>
<circle cx="653.36" cy="46.57" r="0.6" fill="#fff" opacity="0.8"/>
<circle cx="655.48" cy="46.57" r="0.6" fill="#fff" opacity="0.8"/>
<circle cx="657.61" cy="46.57" r="0.6" fill="#fff" opacity="0.8"/>
<circle cx="659.73" cy="46.57" r="0.6" fill="#fff" opacity="0.8"/>
<circle cx="661.85" cy="46.57" r="0.6" fill="#fff" opacity="0.8"/>
<circle cx="663.97" cy="46.57" r="0.6" fill="#fff" opacity="0.8"/>
<circle cx="666.09" cy="46.57" r="0.6" fill="#fff" opacity="0.8"/>
<circle cx="625.78" cy="45.44" r="2.5" fill="#ff1490"/>
<circle cx="627.90" cy="45.44" r="2.5" fill="#ff1490"/>
<circle cx="630.02" cy="45.44" r="2.5" fill="#ff1490"/>
<circle cx="632.14" cy="45.44" r="2.5" fill="#ff1490"/>
<circle cx="634.27" cy="45.44" r="2.5" fill="#ff1490"/>
<circle cx="636.39" cy="45.44" r="2.5" fill="#ff1490"/>
<circle cx="638.51" cy="45.44" r="2.5" fill="#ff1490"/>
<circle cx="640.63" cy="45.44" r="2.5" fill="#ff1490"/>
<circle cx="642.75" cy="45.44" r="2.5" fill="#ff1490"/>
<circle cx="644.88" cy="45.44" r="2.5" fill="#ff1490"/>
<circle cx="647.00" cy="45.44" r="2.5" fill="#ff1490"/>
<circle cx="649.12" cy="45.44" r="2.5" fill="#ff1490"/>
<circle cx="651.24" cy="45.44" r="2.5" fill="#ff1490"/>
<circle cx="653.36" cy="45.44" r="2.5" fill="#ff1490"/>
<circle cx="655.48" cy="45.44" r="2.5" fill="#ff1490"/>
<circle cx="657.61" cy="45.44" r="2.5" fill="#ff1490"/>
<circle cx="659.73" cy="45.44" r="2.5" fill="#ff1490"/>
<circle cx="661.85" cy="45.44" r="2.5" fill="#ff1490"/>
<circle cx="663.97" cy="45.44" r="2.5" fill="#ff1490"/>
<circle cx="666.09" cy="45.44" r="2.5" fill="#ff1490"/>
<circle cx="625.78" cy="45.04" r="0.6" fill="#fff" opacity="0.8"/>
<circle cx="627.90" cy="45.04" r="0.6" fill="#fff" opacity="0.8"/>
<circle cx="630.02" cy="45.04" r="0.6" fill="#fff" opacity="0.8"/>
<circle cx="632.14" cy="45.04" r="0.6" fill="#fff" opacity="0.8"/>
<circle cx="634.27" cy="45.04" r="0.6" fill="#fff" opacity="0.8"/>
<circle cx="636.39" cy="45.04" r="0.6" fill="#fff" opacity="0.8"/>
<circle cx="638.51" cy="45.04" r="0.6" fill="#fff" opacity="0.8"/>
<circle cx="640.63" cy="45.04" r="0.6" fill="#fff" opacity="0.8"/>
<circle cx="642.75" cy="45.04" r="0.6" fill="#fff" opacity="0.8"/>
<circle cx="644.88" cy="45.04" r="0.6" fill="#fff" opacity="0.8"/>
<circle cx="647.00" cy="45.04" r="0.6" fill="#fff" opacity="0.8"/>
<circle cx="649.12" cy="45.04" r="0.6" fill="#fff" opacity="0.8"/>
<circle cx="651.24" cy="45.04" r="0.6" fill="#fff" opacity="0.8"/>
<circle cx="653.36" cy="45.04" r="0.6" fill="#fff" opacity="0.8"/>
<circle cx="655.48" cy="45.04" r="0.6" fill="#fff" opacity="0.8"/>
<circle cx="657.61" cy="45.04" r="0.6" fill="#fff" opacity="0.8"/>
<circle cx="659.73" cy="45.04" r="0.6" fill="#fff" opacity="0.8"/>
<circle cx="661.85" cy="45.04" r="0.6" fill="#fff" opacity="0.8"/>
<circle cx="663.97" cy="45.04" r="0.6" fill="#fff" opacity="0.8"/>
<circle cx="666.09" cy="45.04" r="0.6" fill="#fff" opacity="0.8"/>
<text x="554.50" y="39.42" font-size="8.4" text-anchor="middle" font-weight="bold" fill="#000" stroke="#000" stroke-width="0.4368">0.1</text>
<text x="565.50" y="42.52" font-size="8.4" text-anchor="middle" font-weight="bold" fill="#000" stroke="#000" stroke-width="0.4368">0.2</text>
<text x="576.60" y="45.82" font-size="8.4" text-anchor="middle" font-weight="bold" fill="#000" stroke="#000" stroke-width="0.4368">0.5</text>
<text x="590.30" y="49.22" font-size="8.4" text-anchor="middle" font-weight="bold" fill="#000" stroke="#000" stroke-width="0.4368">0.75</text>
<text x="598.70" y="53.62" font-size="8.4" text-anchor="middle" font-weight="bold" fill="#000" stroke="#000" stroke-width="0.4368">1</text>
<text x="607.40" y="73.12" font-size="8.4" text-anchor="middle" font-weight="bold" fill="#000" stroke="#000" stroke-width="0.4368">1.5</text>
<text x="619.00" y="99.92" font-size="8.4" text-anchor="middle" font-weight="bold" fill="#000" stroke="#000" stroke-width="0.4368">2</text>
<text x="648.80" y="40.72" font-size="8.4" text-anchor="middle" font-weight="bold" fill="#000" stroke="#000" stroke-width="0.4368">0.2 C</text>
<text x="626.30" y="29.35" font-size="9.3" text-anchor="start" font-weight="bold" fill="#000" stroke="#000" stroke-width="0.48360000000000003">60 mg cm<tspan dy="-3.72" font-size="6.14">-2</tspan></text>
<circle cx="49.58" cy="169.00" r="2.4" fill="#8000ff"/>
<circle cx="49.28" cy="168.30" r="0.62" fill="#fff" opacity="0.85"/>
<circle cx="49.58" cy="168.60" r="2.4" fill="#ff0000"/>
<circle cx="49.28" cy="167.90" r="0.62" fill="#fff" opacity="0.85"/>
<circle cx="86.68" cy="169.00" r="2.4" fill="#8000ff"/>
<circle cx="86.38" cy="168.30" r="0.62" fill="#fff" opacity="0.85"/>
<circle cx="86.68" cy="168.60" r="2.4" fill="#ff0000"/>
<circle cx="86.38" cy="167.90" r="0.62" fill="#fff" opacity="0.85"/>
<circle cx="109.86" cy="169.00" r="2.4" fill="#8000ff"/>
<circle cx="109.56" cy="168.30" r="0.62" fill="#fff" opacity="0.85"/>
<circle cx="109.86" cy="168.60" r="2.4" fill="#ff0000"/>
<circle cx="109.56" cy="167.90" r="0.62" fill="#fff" opacity="0.85"/>
<circle cx="156.24" cy="169.00" r="2.4" fill="#8000ff"/>
<circle cx="155.94" cy="168.30" r="0.62" fill="#fff" opacity="0.85"/>
<circle cx="156.24" cy="168.60" r="2.4" fill="#ff0000"/>
<circle cx="155.94" cy="167.90" r="0.62" fill="#fff" opacity="0.85"/>
<text x="166.10" y="160.83" font-size="8.7" text-anchor="end" font-weight="bold" fill="#000" stroke="#000" stroke-width="0.45239999999999997">0.1 C</text>
<circle cx="48.90" cy="233.00" r="2.2" fill="#8000ff"/>
<circle cx="48.60" cy="232.30" r="0.57" fill="#fff" opacity="0.85"/>
<circle cx="48.90" cy="244.80" r="2.2" fill="#ff0000"/>
<circle cx="48.60" cy="244.10" r="0.57" fill="#fff" opacity="0.85"/>
<text x="58.60" y="236.31" font-size="9.2" text-anchor="start" font-weight="bold" fill="#000" stroke="#000" stroke-width="0.47839999999999994">Unstructured LFP</text>
<text x="60.50" y="248.11" font-size="9.2" text-anchor="start" font-weight="bold" fill="#000" stroke="#000" stroke-width="0.47839999999999994">Laser-structured LFP</text>
<line x1="209.00" y1="211.68" x2="324.60" y2="211.68" stroke="#a5521f" stroke-width="1.8" stroke-dasharray="6.5,4"/>
<line x1="270.10" y1="211.68" x2="270.10" y2="254.90" stroke="#a5521f" stroke-width="1.8" stroke-dasharray="6.5,4"/>
<line x1="324.60" y1="211.68" x2="324.60" y2="254.90" stroke="#a5521f" stroke-width="1.8" stroke-dasharray="6.5,4"/>
<circle cx="218.30" cy="171.00" r="2.2" fill="#ff1490"/>
<circle cx="218.00" cy="170.31" r="0.57" fill="#fff" opacity="0.85"/>
<circle cx="255.48" cy="172.66" r="2.2" fill="#ff1490"/>
<circle cx="255.18" cy="171.96" r="0.57" fill="#fff" opacity="0.85"/>
<circle cx="278.73" cy="171.00" r="2.2" fill="#ff1490"/>
<circle cx="278.43" cy="170.31" r="0.57" fill="#fff" opacity="0.85"/>
<circle cx="325.21" cy="174.38" r="2.2" fill="#ff1490"/>
<circle cx="324.91" cy="173.68" r="0.57" fill="#fff" opacity="0.85"/>
<circle cx="255.48" cy="182.03" r="2.2" fill="#8000ff"/>
<circle cx="255.18" cy="181.33" r="0.57" fill="#fff" opacity="0.85"/>
<circle cx="278.73" cy="221.75" r="2.2" fill="#8000ff"/>
<circle cx="278.43" cy="221.05" r="0.57" fill="#fff" opacity="0.85"/>
<circle cx="325.21" cy="239.73" r="2.2" fill="#8000ff"/>
<circle cx="324.91" cy="239.03" r="0.57" fill="#fff" opacity="0.85"/>
<polyline points="218.30,171.71 218.83,171.71 219.37,171.71 219.90,171.71 220.43,171.71 220.97,171.71 221.50,171.71 222.04,171.71 222.57,171.71 223.11,171.71 223.64,171.71 224.18,171.71 224.71,171.71 225.25,171.71 225.78,171.71 226.32,171.71 226.85,171.71 227.38,171.71 227.92,171.71 228.45,171.71 228.99,171.71 229.52,171.71 230.06,171.71 230.59,171.71 231.13,171.71 231.66,171.71 232.20,171.72 232.73,171.72 233.26,171.72 233.80,171.72 234.33,171.72 234.87,171.72 235.40,171.73 235.94,171.73 236.47,171.73 237.01,171.73 237.54,171.74 238.08,171.74 238.61,171.75 239.14,171.75 239.68,171.76 240.21,171.77 240.75,171.78 241.28,171.79 241.82,171.80 242.35,171.81 242.89,171.82 243.42,171.84 243.96,171.86 244.49,171.88 245.02,171.90 245.56,171.93 246.09,171.96 246.63,172.00 247.16,172.04 247.70,172.09 248.23,172.14 248.77,172.20 249.30,172.26 249.84,172.34 250.37,172.43 250.90,172.53 251.44,172.64 251.97,172.76 252.51,172.91 253.04,173.07 253.58,173.25 254.11,173.46 254.65,173.70 255.18,173.97 255.72,174.27 256.25,174.61 256.79,174.99 257.32,175.42 257.85,175.90 258.39,176.44 258.92,177.04 259.46,177.71 259.99,178.46 260.53,179.29 261.06,180.21 261.60,181.22 262.13,182.33 262.67,183.55 263.20,184.87 263.73,186.30 264.27,187.83 264.80,189.48 265.34,191.23 265.87,193.08 266.41,195.03 266.94,197.05 267.48,199.14 268.01,201.28 268.55,203.46 269.08,205.65 269.61,207.85 270.15,210.03 270.68,212.17 271.22,214.26 271.75,216.28 272.29,218.22 272.82,220.07 273.36,221.83 273.89,223.47 274.43,225.01 274.96,226.44 275.49,227.76 276.03,228.97 276.56,230.09 277.10,231.10 277.63,232.01 278.17,232.84 278.70,233.59 279.24,234.27 279.77,234.87 280.31,235.41 280.84,235.89 281.37,236.32 281.91,236.70 282.44,237.04 282.98,237.34 283.51,237.61 284.05,237.84 284.58,238.05 285.12,238.24 285.65,238.40 286.19,238.54 286.72,238.67 287.25,238.78 287.79,238.88 288.32,238.97 288.86,239.04 289.39,239.11 289.93,239.17 290.46,239.22 291.00,239.27 291.53,239.31 292.07,239.34 292.60,239.37 293.14,239.40 293.67,239.43 294.20,239.45 294.74,239.47 295.27,239.48 295.81,239.50 296.34,239.51 296.88,239.52 297.41,239.53 297.95,239.54 298.48,239.55 299.02,239.55 299.55,239.56 300.08,239.56 300.62,239.57 301.15,239.57 301.69,239.57 302.22,239.58 302.76,239.58 303.29,239.58 303.83,239.59 304.36,239.59 304.90,239.59 305.43,239.59 305.96,239.59 306.50,239.59 307.03,239.59 307.57,239.59 308.10,239.59 308.64,239.60 309.17,239.60 309.71,239.60 310.24,239.60 310.78,239.60 311.31,239.60 311.84,239.60 312.38,239.60 312.91,239.60 313.45,239.60 313.98,239.60 314.52,239.60 315.05,239.60 315.59,239.60 316.12,239.60 316.66,239.60 317.19,239.60 317.72,239.60 318.26,239.60 318.79,239.60 319.33,239.60 319.86,239.60 320.40,239.60 320.93,239.60 321.47,239.60 322.00,239.60 322.54,239.60 323.07,239.60 323.61,239.60 324.14,239.60 324.67,239.60 325.21,239.60" fill="none" stroke="#808080" stroke-width="1.6" stroke-linejoin="round" stroke-linecap="round"/>
<polyline points="218.30,170.62 325.21,174.38" fill="none" stroke="#1a72b8" stroke-width="1.7" stroke-linejoin="round" stroke-linecap="round"/>
<line x1="209.4" y1="157.6" x2="220" y2="157.6" stroke="#808080" stroke-width="1.8"/>
<line x1="209.4" y1="165" x2="220" y2="165" stroke="#1a72b8" stroke-width="1.8"/>
<text x="221.00" y="160.37" font-size="7.7" text-anchor="start" font-weight="bold" fill="#000" stroke="#000" stroke-width="0.4004">Fitting of laser-structured LFP</text>
<text x="221.00" y="167.77" font-size="7.7" text-anchor="start" font-weight="bold" fill="#000" stroke="#000" stroke-width="0.4004">Fitting of Unstructured LFP</text>
<text x="214.00" y="249.12" font-size="9.5" text-anchor="start" font-weight="bold" fill="#000" stroke="#000" stroke-width="0.494">1C</text>
<line x1="378.40" y1="210.10" x2="453.50" y2="210.10" stroke="#a5521f" stroke-width="1.8" stroke-dasharray="6.5,4"/>
<line x1="411.00" y1="210.10" x2="411.00" y2="254.30" stroke="#a5521f" stroke-width="1.8" stroke-dasharray="6.5,4"/>
<line x1="453.50" y1="210.10" x2="453.50" y2="254.30" stroke="#a5521f" stroke-width="1.8" stroke-dasharray="6.5,4"/>
<circle cx="387.67" cy="182.59" r="2.1" fill="#ff4f6f"/>
<circle cx="387.37" cy="181.89" r="0.55" fill="#ffb0c0" opacity="0.85"/>
<circle cx="424.74" cy="195.68" r="2.1" fill="#ff4f6f"/>
<circle cx="424.44" cy="194.98" r="0.55" fill="#ffb0c0" opacity="0.85"/>
<circle cx="447.91" cy="207.69" r="2.1" fill="#ff4f6f"/>
<circle cx="447.61" cy="206.99" r="0.55" fill="#ffb0c0" opacity="0.85"/>
<circle cx="494.25" cy="234.72" r="2.1" fill="#ff4f6f"/>
<circle cx="493.95" cy="234.02" r="0.55" fill="#ffb0c0" opacity="0.85"/>
<circle cx="424.74" cy="224.51" r="2.1" fill="#8000ff"/>
<circle cx="424.44" cy="223.81" r="0.55" fill="#fff" opacity="0.85"/>
<circle cx="447.91" cy="248.71" r="2.1" fill="#8000ff"/>
<circle cx="447.61" cy="248.01" r="0.55" fill="#fff" opacity="0.85"/>
<circle cx="494.25" cy="252.08" r="2.1" fill="#8000ff"/>
<circle cx="493.95" cy="251.38" r="0.55" fill="#fff" opacity="0.85"/>
<polyline points="387.67,182.64 389.02,184.66 390.37,186.64 391.72,188.60 393.06,190.53 394.41,192.43 395.76,194.30 397.11,196.15 398.46,197.96 399.81,199.75 401.16,201.50 402.51,203.23 403.86,204.93 405.21,206.60 406.56,208.24 407.90,209.85 409.25,211.43 410.60,212.99 411.95,214.51 413.30,216.01 414.65,217.48 416.00,218.92 417.35,220.33 418.70,221.71 420.05,223.06 421.40,224.39 422.74,225.68 424.09,226.95 425.44,228.19 426.79,229.39 428.14,230.57 429.49,231.72 430.84,232.85 432.19,233.94 433.54,235.00 434.89,236.04 436.24,237.05 437.58,238.02 438.93,238.97 440.28,239.89 441.63,240.78 442.98,241.65 444.33,242.48 445.68,243.29 447.03,244.06 448.38,244.81 449.73,245.53 451.08,246.22 452.42,246.88 453.77,247.51 455.12,248.11 456.47,248.69 457.82,249.23 459.17,249.75 460.52,250.24 461.87,250.69 463.22,251.12 464.57,251.53 465.92,251.90 467.26,252.24 468.61,252.56 469.96,252.84 471.31,253.10 472.66,253.33 474.01,253.53 475.36,253.70 476.71,253.84 478.06,253.95 479.41,254.04 480.76,254.09 482.11,254.12 483.45,254.11 484.80,254.08 486.15,254.02 487.50,253.93 488.85,253.82 490.20,253.67 491.55,253.49 492.90,253.29 494.25,253.06" fill="none" stroke="#808080" stroke-width="1.4" stroke-linejoin="round" stroke-linecap="round"/>
<polyline points="387.67,182.46 389.02,182.88 390.37,183.30 391.72,183.73 393.06,184.16 394.41,184.61 395.76,185.05 397.11,185.51 398.46,185.97 399.81,186.44 401.16,186.91 402.51,187.39 403.86,187.88 405.21,188.37 406.56,188.87 407.90,189.37 409.25,189.88 410.60,190.40 411.95,190.92 413.30,191.45 414.65,191.99 416.00,192.53 417.35,193.08 418.70,193.64 420.05,194.20 421.40,194.77 422.74,195.34 424.09,195.92 425.44,196.51 426.79,197.10 428.14,197.70 429.49,198.31 430.84,198.92 432.19,199.54 433.54,200.17 434.89,200.80 436.24,201.43 437.58,202.08 438.93,202.73 440.28,203.38 441.63,204.05 442.98,204.72 444.33,205.39 445.68,206.07 447.03,206.76 448.38,207.46 449.73,208.16 451.08,208.86 452.42,209.58 453.77,210.30 455.12,211.02 456.47,211.75 457.82,212.49 459.17,213.24 460.52,213.99 461.87,214.74 463.22,215.51 464.57,216.28 465.92,217.05 467.26,217.84 468.61,218.63 469.96,219.42 471.31,220.22 472.66,221.03 474.01,221.84 475.36,222.66 476.71,223.49 478.06,224.32 479.41,225.16 480.76,226.01 482.11,226.86 483.45,227.72 484.80,228.58 486.15,229.45 487.50,230.33 488.85,231.21 490.20,232.10 491.55,233.00 492.90,233.90 494.25,234.81" fill="none" stroke="#1a72b8" stroke-width="1.7" stroke-linejoin="round" stroke-linecap="round"/>
<line x1="387.00" y1="161.00" x2="407.00" y2="161.00" stroke="#a5521f" stroke-width="1.8" stroke-dasharray="7,5"/>
<text x="451.60" y="160.23" font-size="7.3" text-anchor="middle" font-weight="bold" fill="#000" stroke="#000" stroke-width="0.3796">Criteria of  Specific</text>
<text x="452.40" y="168.03" font-size="7.3" text-anchor="middle" font-weight="bold" fill="#000" stroke="#000" stroke-width="0.3796">Energy Increase</text>
<text x="386.00" y="247.12" font-size="9.5" text-anchor="start" font-weight="bold" fill="#000" stroke="#000" stroke-width="0.494">2C</text>
<g clip-path="url(#cliph)">
<polygon points="548.00,234.52 566.75,234.94 591.53,236.19 610.28,236.61 629.02,237.86 639.99,238.27 653.81,240.95 658.74,242.53 662.91,246.12 666.52,247.45 672.55,248.29 672.55,251.63 666.52,251.21 662.91,250.38 658.74,247.96 653.81,241.61 639.99,239.53 629.02,239.11 610.28,237.02 591.53,236.61 566.75,235.35 548.00,234.94" fill="#7a4cc0" fill-opacity="0.7" stroke="none"/>
<polyline points="548.00,234.94 566.75,235.35 591.53,236.61 610.28,237.02 629.02,239.11 639.99,239.53 653.81,241.61 658.74,247.96 662.91,250.38 666.52,251.21 672.55,251.63" fill="none" stroke="#48c0cf" stroke-width="1.6" stroke-linejoin="round" stroke-linecap="round"/>
<polyline points="548.00,234.52 566.75,234.94 591.53,236.19 610.28,236.61 629.02,237.86 639.99,238.27 653.81,240.95 658.74,242.53 662.91,246.12 666.52,247.45 672.55,248.29" fill="none" stroke="#ff1ff0" stroke-width="1.9" stroke-linejoin="round" stroke-linecap="round"/>
<rect x="546.30" y="233.24" width="3.40" height="3.40" fill="#c8c8c8" stroke="#505050" stroke-width="0.9"/>
<rect x="565.05" y="233.65" width="3.40" height="3.40" fill="#c8c8c8" stroke="#505050" stroke-width="0.9"/>
<rect x="589.83" y="234.91" width="3.40" height="3.40" fill="#c8c8c8" stroke="#505050" stroke-width="0.9"/>
<rect x="608.58" y="235.32" width="3.40" height="3.40" fill="#c8c8c8" stroke="#505050" stroke-width="0.9"/>
<rect x="627.32" y="237.41" width="3.40" height="3.40" fill="#c8c8c8" stroke="#505050" stroke-width="0.9"/>
<rect x="638.29" y="237.83" width="3.40" height="3.40" fill="#c8c8c8" stroke="#505050" stroke-width="0.9"/>
<rect x="652.11" y="239.91" width="3.40" height="3.40" fill="#c8c8c8" stroke="#505050" stroke-width="0.9"/>
<rect x="657.04" y="246.26" width="3.40" height="3.40" fill="#c8c8c8" stroke="#505050" stroke-width="0.9"/>
<rect x="661.21" y="248.68" width="3.40" height="3.40" fill="#c8c8c8" stroke="#505050" stroke-width="0.9"/>
<rect x="664.82" y="249.51" width="3.40" height="3.40" fill="#c8c8c8" stroke="#505050" stroke-width="0.9"/>
<rect x="670.85" y="249.93" width="3.40" height="3.40" fill="#c8c8c8" stroke="#505050" stroke-width="0.9"/>
<rect x="546.30" y="232.82" width="3.40" height="3.40" fill="#c0c8ff" stroke="#1414d0" stroke-width="0.9"/>
<rect x="565.05" y="233.24" width="3.40" height="3.40" fill="#c0c8ff" stroke="#1414d0" stroke-width="0.9"/>
<rect x="589.83" y="234.49" width="3.40" height="3.40" fill="#c0c8ff" stroke="#1414d0" stroke-width="0.9"/>
<rect x="608.58" y="234.91" width="3.40" height="3.40" fill="#c0c8ff" stroke="#1414d0" stroke-width="0.9"/>
<rect x="627.32" y="236.16" width="3.40" height="3.40" fill="#c0c8ff" stroke="#1414d0" stroke-width="0.9"/>
<rect x="638.29" y="236.57" width="3.40" height="3.40" fill="#c0c8ff" stroke="#1414d0" stroke-width="0.9"/>
<rect x="652.11" y="239.25" width="3.40" height="3.40" fill="#c0c8ff" stroke="#1414d0" stroke-width="0.9"/>
<rect x="657.04" y="240.83" width="3.40" height="3.40" fill="#c0c8ff" stroke="#1414d0" stroke-width="0.9"/>
<rect x="661.21" y="244.42" width="3.40" height="3.40" fill="#c0c8ff" stroke="#1414d0" stroke-width="0.9"/>
<rect x="664.82" y="245.75" width="3.40" height="3.40" fill="#c0c8ff" stroke="#1414d0" stroke-width="0.9"/>
<rect x="670.85" y="246.59" width="3.40" height="3.40" fill="#c0c8ff" stroke="#1414d0" stroke-width="0.9"/>
<polygon points="548.00,214.49 566.75,215.32 591.53,217.41 610.28,219.91 629.02,231.18 639.99,237.02 653.81,246.87 653.81,251.54 639.99,247.87 629.02,242.03 610.28,222.84 591.53,218.66 566.75,216.16 548.00,215.32" fill="#8a94f0" fill-opacity="0.6" stroke="none"/>
<polyline points="548.00,215.32 566.75,216.16 591.53,218.66 610.28,222.84 629.02,242.03 639.99,247.87 653.81,251.54" fill="none" stroke="#48c0cf" stroke-width="1.6" stroke-linejoin="round" stroke-linecap="round"/>
<polyline points="548.00,214.49 566.75,215.32 591.53,217.41 610.28,219.91 629.02,231.18 639.99,237.02 653.81,246.87" fill="none" stroke="#ff1ff0" stroke-width="1.9" stroke-linejoin="round" stroke-linecap="round"/>
<polygon points="548.00,213.28 549.87,216.68 546.13,216.68" fill="#8a8a8a" stroke="#505050" stroke-width="0.9"/>
<polygon points="566.75,214.12 568.62,217.52 564.88,217.52" fill="#8a8a8a" stroke="#505050" stroke-width="0.9"/>
<polygon points="591.53,216.62 593.40,220.02 589.66,220.02" fill="#8a8a8a" stroke="#505050" stroke-width="0.9"/>
<polygon points="610.28,220.80 612.15,224.20 608.41,224.20" fill="#8a8a8a" stroke="#505050" stroke-width="0.9"/>
<polygon points="629.02,239.99 630.89,243.39 627.15,243.39" fill="#8a8a8a" stroke="#505050" stroke-width="0.9"/>
<polygon points="639.99,245.83 641.86,249.23 638.12,249.23" fill="#8a8a8a" stroke="#505050" stroke-width="0.9"/>
<polygon points="653.81,249.50 655.68,252.90 651.94,252.90" fill="#8a8a8a" stroke="#505050" stroke-width="0.9"/>
<polygon points="548.00,212.45 549.87,215.85 546.13,215.85" fill="#c0c8ff" stroke="#1414d0" stroke-width="0.9"/>
<polygon points="566.75,213.28 568.62,216.68 564.88,216.68" fill="#c0c8ff" stroke="#1414d0" stroke-width="0.9"/>
<polygon points="591.53,215.37 593.40,218.77 589.66,218.77" fill="#c0c8ff" stroke="#1414d0" stroke-width="0.9"/>
<polygon points="610.28,217.87 612.15,221.27 608.41,221.27" fill="#c0c8ff" stroke="#1414d0" stroke-width="0.9"/>
<polygon points="629.02,229.14 630.89,232.54 627.15,232.54" fill="#c0c8ff" stroke="#1414d0" stroke-width="0.9"/>
<polygon points="639.99,234.98 641.86,238.38 638.12,238.38" fill="#c0c8ff" stroke="#1414d0" stroke-width="0.9"/>
<polygon points="653.81,244.83 655.68,248.23 651.94,248.23" fill="#c0c8ff" stroke="#1414d0" stroke-width="0.9"/>
<polygon points="548.00,201.97 566.75,203.22 591.53,205.31 610.28,208.82 621.24,214.49 629.02,225.92 639.99,239.53 653.81,247.04 639.99,251.54 629.02,247.87 621.24,244.53 610.28,223.25 591.53,213.66 566.75,204.06 548.00,201.97" fill="#b8508e" fill-opacity="0.6" stroke="none"/>
<polyline points="548.00,201.97 566.75,204.06 591.53,213.66 610.28,223.25 621.24,244.53 629.02,247.87 639.99,251.54" fill="none" stroke="#48c0cf" stroke-width="1.6" stroke-linejoin="round" stroke-linecap="round"/>
<polyline points="548.00,201.97 566.75,203.22 591.53,205.31 610.28,208.82 621.24,214.49 629.02,225.92 639.99,239.53 653.81,247.04" fill="none" stroke="#ff1ff0" stroke-width="1.9" stroke-linejoin="round" stroke-linecap="round"/>
<polygon points="548.00,199.76 548.55,201.22 550.10,201.29 548.89,202.26 549.30,203.76 548.00,202.91 546.70,203.76 547.11,202.26 545.90,201.29 547.45,201.22" fill="#8a8a8a" stroke="#505050" stroke-width="0.6"/>
<polygon points="566.75,201.85 567.30,203.30 568.85,203.38 567.64,204.35 568.05,205.85 566.75,204.99 565.45,205.85 565.86,204.35 564.65,203.38 566.20,203.30" fill="#8a8a8a" stroke="#505050" stroke-width="0.6"/>
<polygon points="591.53,211.45 592.08,212.90 593.63,212.97 592.42,213.94 592.83,215.44 591.53,214.59 590.23,215.44 590.64,213.94 589.43,212.97 590.98,212.90" fill="#8a8a8a" stroke="#505050" stroke-width="0.6"/>
<polygon points="610.28,221.04 610.83,222.50 612.38,222.57 611.17,223.54 611.58,225.04 610.28,224.19 608.98,225.04 609.39,223.54 608.17,222.57 609.73,222.50" fill="#8a8a8a" stroke="#505050" stroke-width="0.6"/>
<polygon points="621.24,242.32 621.79,243.78 623.35,243.85 622.13,244.82 622.54,246.32 621.24,245.47 619.94,246.32 620.35,244.82 619.14,243.85 620.69,243.78" fill="#8a8a8a" stroke="#505050" stroke-width="0.6"/>
<polygon points="629.02,245.66 629.57,247.12 631.13,247.19 629.91,248.16 630.32,249.66 629.02,248.81 627.72,249.66 628.13,248.16 626.92,247.19 628.47,247.12" fill="#8a8a8a" stroke="#505050" stroke-width="0.6"/>
<polygon points="639.99,249.33 640.54,250.79 642.09,250.86 640.88,251.83 641.29,253.33 639.99,252.48 638.69,253.33 639.10,251.83 637.89,250.86 639.44,250.79" fill="#8a8a8a" stroke="#505050" stroke-width="0.6"/>
<polygon points="548.00,199.76 548.55,201.22 550.10,201.29 548.89,202.26 549.30,203.76 548.00,202.91 546.70,203.76 547.11,202.26 545.90,201.29 547.45,201.22" fill="#1414d0" stroke="#1414d0" stroke-width="0.6"/>
<polygon points="566.75,201.01 567.30,202.47 568.85,202.54 567.64,203.51 568.05,205.01 566.75,204.16 565.45,205.01 565.86,203.51 564.65,202.54 566.20,202.47" fill="#1414d0" stroke="#1414d0" stroke-width="0.6"/>
<polygon points="591.53,203.10 592.08,204.55 593.63,204.63 592.42,205.60 592.83,207.10 591.53,206.25 590.23,207.10 590.64,205.60 589.43,204.63 590.98,204.55" fill="#1414d0" stroke="#1414d0" stroke-width="0.6"/>
<polygon points="610.28,206.61 610.83,208.06 612.38,208.13 611.17,209.10 611.58,210.60 610.28,209.75 608.98,210.60 609.39,209.10 608.17,208.13 609.73,208.06" fill="#1414d0" stroke="#1414d0" stroke-width="0.6"/>
<polygon points="621.24,212.28 621.79,213.73 623.35,213.81 622.13,214.78 622.54,216.28 621.24,215.43 619.94,216.28 620.35,214.78 619.14,213.81 620.69,213.73" fill="#1414d0" stroke="#1414d0" stroke-width="0.6"/>
<polygon points="629.02,223.71 629.57,225.17 631.13,225.24 629.91,226.21 630.32,227.71 629.02,226.86 627.72,227.71 628.13,226.21 626.92,225.24 628.47,225.17" fill="#1414d0" stroke="#1414d0" stroke-width="0.6"/>
<polygon points="639.99,237.32 640.54,238.77 642.09,238.84 640.88,239.82 641.29,241.31 639.99,240.46 638.69,241.31 639.10,239.82 637.89,238.84 639.44,238.77" fill="#1414d0" stroke="#1414d0" stroke-width="0.6"/>
<polygon points="653.81,244.83 654.36,246.28 655.91,246.35 654.70,247.33 655.11,248.83 653.81,247.97 652.51,248.83 652.92,247.33 651.70,246.35 653.26,246.28" fill="#1414d0" stroke="#1414d0" stroke-width="0.6"/>
<polygon points="548.00,176.94 566.75,178.61 591.53,182.19 602.50,185.28 610.28,189.45 621.24,209.82 629.02,236.19 639.99,240.44 653.81,245.37 639.99,251.21 629.02,249.79 621.24,248.29 610.28,250.13 602.50,248.29 591.53,197.80 566.75,180.27 548.00,176.94" fill="#bdbdbd" fill-opacity="0.5" stroke="none"/>
<polyline points="548.00,176.94 566.75,180.27 591.53,197.80 602.50,248.29 610.28,250.13 621.24,248.29 629.02,249.79 639.99,251.21" fill="none" stroke="#48c0cf" stroke-width="1.6" stroke-linejoin="round" stroke-linecap="round"/>
<polyline points="548.00,176.94 566.75,178.61 591.53,182.19 602.50,185.28 610.28,189.45 621.24,209.82 629.02,236.19 639.99,240.44 653.81,245.37" fill="none" stroke="#ff1ff0" stroke-width="1.9" stroke-linejoin="round" stroke-linecap="round"/>
<circle cx="548.00" cy="176.94" r="1.70" fill="#8a8a8a" stroke="#505050" stroke-width="0.9"/>
<circle cx="566.75" cy="180.27" r="1.70" fill="#8a8a8a" stroke="#505050" stroke-width="0.9"/>
<circle cx="591.53" cy="197.80" r="1.70" fill="#8a8a8a" stroke="#505050" stroke-width="0.9"/>
<circle cx="602.50" cy="248.29" r="1.70" fill="#8a8a8a" stroke="#505050" stroke-width="0.9"/>
<circle cx="610.28" cy="250.13" r="1.70" fill="#8a8a8a" stroke="#505050" stroke-width="0.9"/>
<circle cx="621.24" cy="248.29" r="1.70" fill="#8a8a8a" stroke="#505050" stroke-width="0.9"/>
<circle cx="629.02" cy="249.79" r="1.70" fill="#8a8a8a" stroke="#505050" stroke-width="0.9"/>
<circle cx="639.99" cy="251.21" r="1.70" fill="#8a8a8a" stroke="#505050" stroke-width="0.9"/>
<circle cx="548.00" cy="176.94" r="1.70" fill="#1414d0" stroke="#1414d0" stroke-width="0.9"/>
<circle cx="566.75" cy="178.61" r="1.70" fill="#1414d0" stroke="#1414d0" stroke-width="0.9"/>
<circle cx="591.53" cy="182.19" r="1.70" fill="#1414d0" stroke="#1414d0" stroke-width="0.9"/>
<circle cx="602.50" cy="185.28" r="1.70" fill="#1414d0" stroke="#1414d0" stroke-width="0.9"/>
<circle cx="610.28" cy="189.45" r="1.70" fill="#1414d0" stroke="#1414d0" stroke-width="0.9"/>
<circle cx="621.24" cy="209.82" r="1.70" fill="#1414d0" stroke="#1414d0" stroke-width="0.9"/>
<circle cx="629.02" cy="236.19" r="1.70" fill="#1414d0" stroke="#1414d0" stroke-width="0.9"/>
<circle cx="639.99" cy="240.44" r="1.70" fill="#1414d0" stroke="#1414d0" stroke-width="0.9"/>
<circle cx="653.81" cy="245.37" r="1.70" fill="#1414d0" stroke="#1414d0" stroke-width="0.9"/>
</g>
<line x1="638.1" y1="156.40" x2="651.1" y2="156.40" stroke="#48c0cf" stroke-width="1.6"/>
<rect x="643.20" y="155.00" width="2.80" height="2.80" fill="#8a8a8a" stroke="#505050" stroke-width="0.9"/>
<text x="652.70" y="158.34" font-size="5.4" text-anchor="start" font-weight="bold" fill="#000" stroke="#000" stroke-width="0.2808">14-U</text>
<line x1="638.1" y1="163.25" x2="651.1" y2="163.25" stroke="#ff1ff0" stroke-width="1.6"/>
<rect x="643.20" y="161.85" width="2.80" height="2.80" fill="#c0c8ff" stroke="#1414d0" stroke-width="0.9"/>
<text x="652.70" y="165.19" font-size="5.4" text-anchor="start" font-weight="bold" fill="#000" stroke="#000" stroke-width="0.2808">14-L</text>
<rect x="638.10" y="167.30" width="13.00" height="5.6" fill="#8e6cc4" stroke="#555" stroke-width="0.4"/>
<text x="652.70" y="172.04" font-size="5.4" text-anchor="start" font-weight="bold" fill="#000" stroke="#000" stroke-width="0.2808">14-Delta</text>
<line x1="638.1" y1="176.95" x2="651.1" y2="176.95" stroke="#48c0cf" stroke-width="1.6"/>
<polygon points="644.60,175.27 646.14,178.07 643.06,178.07" fill="#8a8a8a" stroke="#505050" stroke-width="0.9"/>
<text x="652.70" y="178.89" font-size="5.4" text-anchor="start" font-weight="bold" fill="#000" stroke="#000" stroke-width="0.2808">14-U</text>
<line x1="638.1" y1="183.80" x2="651.1" y2="183.80" stroke="#ff1ff0" stroke-width="1.6"/>
<polygon points="644.60,182.12 646.14,184.92 643.06,184.92" fill="#c0c8ff" stroke="#1414d0" stroke-width="0.9"/>
<text x="652.70" y="185.74" font-size="5.4" text-anchor="start" font-weight="bold" fill="#000" stroke="#000" stroke-width="0.2808">14-L</text>
<rect x="638.10" y="187.85" width="13.00" height="5.6" fill="#a8b0f8" stroke="#555" stroke-width="0.4"/>
<text x="652.70" y="192.59" font-size="5.4" text-anchor="start" font-weight="bold" fill="#000" stroke="#000" stroke-width="0.2808">14-Delta</text>
<line x1="638.1" y1="197.50" x2="651.1" y2="197.50" stroke="#48c0cf" stroke-width="1.6"/>
<polygon points="644.60,195.68 645.05,196.88 646.33,196.94 645.33,197.74 645.67,198.97 644.60,198.27 643.53,198.97 643.87,197.74 642.87,196.94 644.15,196.88" fill="#8a8a8a" stroke="#505050" stroke-width="0.6"/>
<text x="652.70" y="199.44" font-size="5.4" text-anchor="start" font-weight="bold" fill="#000" stroke="#000" stroke-width="0.2808">14-U</text>
<line x1="638.1" y1="204.35" x2="651.1" y2="204.35" stroke="#ff1ff0" stroke-width="1.6"/>
<polygon points="644.60,202.53 645.05,203.73 646.33,203.79 645.33,204.59 645.67,205.82 644.60,205.12 643.53,205.82 643.87,204.59 642.87,203.79 644.15,203.73" fill="#1414d0" stroke="#1414d0" stroke-width="0.6"/>
<text x="652.70" y="206.29" font-size="5.4" text-anchor="start" font-weight="bold" fill="#000" stroke="#000" stroke-width="0.2808">14-L</text>
<rect x="638.10" y="208.40" width="13.00" height="5.6" fill="#c46a9c" stroke="#555" stroke-width="0.4"/>
<text x="652.70" y="213.14" font-size="5.4" text-anchor="start" font-weight="bold" fill="#000" stroke="#000" stroke-width="0.2808">14-Delta</text>
<line x1="638.1" y1="218.05" x2="651.1" y2="218.05" stroke="#48c0cf" stroke-width="1.6"/>
<circle cx="644.60" cy="218.05" r="1.40" fill="#8a8a8a" stroke="#505050" stroke-width="0.9"/>
<text x="652.70" y="219.99" font-size="5.4" text-anchor="start" font-weight="bold" fill="#000" stroke="#000" stroke-width="0.2808">14-U</text>
<line x1="638.1" y1="224.90" x2="651.1" y2="224.90" stroke="#ff1ff0" stroke-width="1.6"/>
<circle cx="644.60" cy="224.90" r="1.40" fill="#1414d0" stroke="#1414d0" stroke-width="0.9"/>
<text x="652.70" y="226.84" font-size="5.4" text-anchor="start" font-weight="bold" fill="#000" stroke="#000" stroke-width="0.2808">14-L</text>
<rect x="638.10" y="228.95" width="13.00" height="5.6" fill="#dcdcdc" stroke="#555" stroke-width="0.4"/>
<text x="652.70" y="233.69" font-size="5.4" text-anchor="start" font-weight="bold" fill="#000" stroke="#000" stroke-width="0.2808">14-Delta</text>
<line x1="140.6" y1="284.8" x2="140.6" y2="385" stroke="#d49a10" stroke-width="1.4" stroke-dasharray="1.1,1.2"/>
<line x1="87.1" y1="373.3" x2="87.1" y2="385" stroke="#d49a10" stroke-width="1.3" stroke-dasharray="1.1,1.2"/>
<line x1="103.2" y1="366.2" x2="103.2" y2="385" stroke="#d49a10" stroke-width="1.3" stroke-dasharray="1.1,1.2"/>
<line x1="49.6" y1="372" x2="49.6" y2="384.5" stroke="#3f5670" stroke-width="1.0" stroke-dasharray="1.2,1.2"/>
<line x1="50" y1="381.9" x2="87.1" y2="381.9" stroke="#8c8c8c" stroke-width="1.5" stroke-dasharray="2.8,1.8"/>
<line x1="88.2" y1="382.2" x2="103.2" y2="382.2" stroke="#1a7cc4" stroke-width="1.5" stroke-dasharray="3.5,2.2"/>
<line x1="104" y1="379.3" x2="139.1" y2="379.3" stroke="#a0522d" stroke-width="1.5" stroke-dasharray="3.5,2.2"/>
<circle cx="49.47" cy="385.15" r="1.6" fill="#8000ff"/>
<circle cx="49.64" cy="383.88" r="1.6" fill="#8000ff"/>
<circle cx="49.86" cy="382.45" r="1.6" fill="#8000ff"/>
<circle cx="50.21" cy="380.98" r="1.6" fill="#8000ff"/>
<circle cx="50.73" cy="379.40" r="1.6" fill="#8000ff"/>
<circle cx="51.18" cy="378.18" r="1.6" fill="#8000ff"/>
<circle cx="51.80" cy="376.69" r="1.6" fill="#8000ff"/>
<circle cx="52.32" cy="375.48" r="1.6" fill="#8000ff"/>
<circle cx="53.04" cy="374.15" r="1.6" fill="#8000ff"/>
<circle cx="53.98" cy="372.99" r="1.6" fill="#8000ff"/>
<circle cx="54.98" cy="371.96" r="1.6" fill="#8000ff"/>
<circle cx="56.13" cy="370.91" r="1.6" fill="#8000ff"/>
<circle cx="57.35" cy="369.97" r="1.6" fill="#8000ff"/>
<circle cx="58.53" cy="369.31" r="1.6" fill="#8000ff"/>
<circle cx="60.10" cy="368.82" r="1.6" fill="#8000ff"/>
<circle cx="61.72" cy="368.58" r="1.6" fill="#8000ff"/>
<circle cx="63.01" cy="368.44" r="1.6" fill="#8000ff"/>
<circle cx="64.41" cy="368.31" r="1.6" fill="#8000ff"/>
<circle cx="65.90" cy="368.24" r="1.6" fill="#8000ff"/>
<circle cx="67.37" cy="368.21" r="1.6" fill="#8000ff"/>
<circle cx="68.72" cy="368.22" r="1.6" fill="#8000ff"/>
<circle cx="70.26" cy="368.30" r="1.6" fill="#8000ff"/>
<circle cx="71.64" cy="368.45" r="1.6" fill="#8000ff"/>
<circle cx="72.95" cy="368.65" r="1.6" fill="#8000ff"/>
<circle cx="74.41" cy="368.86" r="1.6" fill="#8000ff"/>
<circle cx="75.85" cy="369.23" r="1.6" fill="#8000ff"/>
<circle cx="77.34" cy="369.85" r="1.6" fill="#8000ff"/>
<circle cx="78.67" cy="370.50" r="1.6" fill="#8000ff"/>
<circle cx="80.07" cy="371.28" r="1.6" fill="#8000ff"/>
<circle cx="81.41" cy="372.15" r="1.6" fill="#8000ff"/>
<circle cx="82.63" cy="373.15" r="1.6" fill="#8000ff"/>
<circle cx="83.80" cy="374.36" r="1.6" fill="#8000ff"/>
<circle cx="84.90" cy="375.60" r="1.6" fill="#8000ff"/>
<circle cx="85.94" cy="376.64" r="1.6" fill="#8000ff"/>
<circle cx="87.20" cy="377.48" r="1.6" fill="#8000ff"/>
<circle cx="88.60" cy="377.99" r="1.6" fill="#8000ff"/>
<circle cx="89.92" cy="378.20" r="1.6" fill="#8000ff"/>
<circle cx="91.39" cy="378.04" r="1.6" fill="#8000ff"/>
<circle cx="92.62" cy="377.75" r="1.6" fill="#8000ff"/>
<circle cx="94.06" cy="377.52" r="1.6" fill="#8000ff"/>
<circle cx="95.45" cy="377.07" r="1.6" fill="#8000ff"/>
<circle cx="96.56" cy="376.49" r="1.6" fill="#8000ff"/>
<circle cx="97.91" cy="375.71" r="1.6" fill="#8000ff"/>
<circle cx="99.33" cy="374.78" r="1.6" fill="#8000ff"/>
<circle cx="100.67" cy="373.69" r="1.6" fill="#8000ff"/>
<circle cx="101.84" cy="372.41" r="1.6" fill="#8000ff"/>
<circle cx="102.58" cy="371.37" r="1.6" fill="#8000ff"/>
<circle cx="103.29" cy="370.27" r="1.6" fill="#8000ff"/>
<circle cx="103.94" cy="369.19" r="1.6" fill="#8000ff"/>
<circle cx="104.83" cy="367.76" r="1.6" fill="#8000ff"/>
<circle cx="105.57" cy="366.75" r="1.6" fill="#8000ff"/>
<circle cx="106.49" cy="365.66" r="1.6" fill="#8000ff"/>
<circle cx="107.35" cy="364.66" r="1.6" fill="#8000ff"/>
<circle cx="108.18" cy="363.55" r="1.6" fill="#8000ff"/>
<circle cx="49.17" cy="384.75" r="0.45" fill="#fff" opacity="0.6"/>
<circle cx="49.56" cy="382.05" r="0.45" fill="#fff" opacity="0.6"/>
<circle cx="50.43" cy="379.00" r="0.45" fill="#fff" opacity="0.6"/>
<circle cx="51.50" cy="376.29" r="0.45" fill="#fff" opacity="0.6"/>
<circle cx="52.74" cy="373.75" r="0.45" fill="#fff" opacity="0.6"/>
<circle cx="54.68" cy="371.56" r="0.45" fill="#fff" opacity="0.6"/>
<circle cx="57.05" cy="369.57" r="0.45" fill="#fff" opacity="0.6"/>
<circle cx="59.80" cy="368.42" r="0.45" fill="#fff" opacity="0.6"/>
<circle cx="62.71" cy="368.04" r="0.45" fill="#fff" opacity="0.6"/>
<circle cx="65.60" cy="367.84" r="0.45" fill="#fff" opacity="0.6"/>
<circle cx="68.42" cy="367.82" r="0.45" fill="#fff" opacity="0.6"/>
<circle cx="71.34" cy="368.05" r="0.45" fill="#fff" opacity="0.6"/>
<circle cx="74.11" cy="368.46" r="0.45" fill="#fff" opacity="0.6"/>
<circle cx="77.04" cy="369.45" r="0.45" fill="#fff" opacity="0.6"/>
<circle cx="79.77" cy="370.88" r="0.45" fill="#fff" opacity="0.6"/>
<circle cx="82.33" cy="372.75" r="0.45" fill="#fff" opacity="0.6"/>
<circle cx="84.60" cy="375.20" r="0.45" fill="#fff" opacity="0.6"/>
<circle cx="86.90" cy="377.08" r="0.45" fill="#fff" opacity="0.6"/>
<circle cx="89.62" cy="377.80" r="0.45" fill="#fff" opacity="0.6"/>
<circle cx="92.32" cy="377.35" r="0.45" fill="#fff" opacity="0.6"/>
<circle cx="95.15" cy="376.67" r="0.45" fill="#fff" opacity="0.6"/>
<circle cx="97.61" cy="375.31" r="0.45" fill="#fff" opacity="0.6"/>
<circle cx="100.37" cy="373.29" r="0.45" fill="#fff" opacity="0.6"/>
<circle cx="102.28" cy="370.97" r="0.45" fill="#fff" opacity="0.6"/>
<circle cx="103.64" cy="368.79" r="0.45" fill="#fff" opacity="0.6"/>
<circle cx="105.27" cy="366.35" r="0.45" fill="#fff" opacity="0.6"/>
<circle cx="107.05" cy="364.26" r="0.45" fill="#fff" opacity="0.6"/>
<circle cx="108.40" cy="363.20" r="2.0" fill="#8000ff"/>
<circle cx="108.05" cy="362.65" r="0.55" fill="#fff" opacity="0.75"/>
<circle cx="110.00" cy="360.20" r="2.0" fill="#8000ff"/>
<circle cx="109.65" cy="359.65" r="0.55" fill="#fff" opacity="0.75"/>
<circle cx="111.60" cy="356.60" r="2.0" fill="#8000ff"/>
<circle cx="111.25" cy="356.05" r="0.55" fill="#fff" opacity="0.75"/>
<circle cx="113.40" cy="352.60" r="2.0" fill="#8000ff"/>
<circle cx="113.05" cy="352.05" r="0.55" fill="#fff" opacity="0.75"/>
<circle cx="115.40" cy="348.60" r="2.0" fill="#8000ff"/>
<circle cx="115.05" cy="348.05" r="0.55" fill="#fff" opacity="0.75"/>
<circle cx="117.70" cy="343.80" r="2.0" fill="#8000ff"/>
<circle cx="117.35" cy="343.25" r="0.55" fill="#fff" opacity="0.75"/>
<circle cx="120.50" cy="338.20" r="2.0" fill="#8000ff"/>
<circle cx="120.15" cy="337.65" r="0.55" fill="#fff" opacity="0.75"/>
<circle cx="123.10" cy="331.10" r="2.0" fill="#8000ff"/>
<circle cx="122.75" cy="330.55" r="0.55" fill="#fff" opacity="0.75"/>
<circle cx="126.70" cy="323.70" r="2.0" fill="#8000ff"/>
<circle cx="126.35" cy="323.15" r="0.55" fill="#fff" opacity="0.75"/>
<circle cx="130.50" cy="315.10" r="2.0" fill="#8000ff"/>
<circle cx="130.15" cy="314.55" r="0.55" fill="#fff" opacity="0.75"/>
<circle cx="134.70" cy="305.50" r="2.0" fill="#8000ff"/>
<circle cx="134.35" cy="304.95" r="0.55" fill="#fff" opacity="0.75"/>
<circle cx="139.10" cy="293.60" r="2.0" fill="#8000ff"/>
<circle cx="138.75" cy="293.05" r="0.55" fill="#fff" opacity="0.75"/>
<circle cx="49.68" cy="385.58" r="1.5" fill="#ff1490"/>
<circle cx="51.38" cy="384.37" r="1.5" fill="#ff1490"/>
<circle cx="53.07" cy="383.48" r="1.5" fill="#ff1490"/>
<circle cx="54.98" cy="382.52" r="1.5" fill="#ff1490"/>
<circle cx="56.83" cy="381.53" r="1.5" fill="#ff1490"/>
<circle cx="58.37" cy="380.21" r="1.5" fill="#ff1490"/>
<circle cx="59.82" cy="378.64" r="1.5" fill="#ff1490"/>
<circle cx="61.11" cy="377.05" r="1.5" fill="#ff1490"/>
<circle cx="62.22" cy="375.46" r="1.5" fill="#ff1490"/>
<circle cx="63.20" cy="373.57" r="1.5" fill="#ff1490"/>
<circle cx="63.96" cy="371.61" r="1.5" fill="#ff1490"/>
<circle cx="64.55" cy="369.69" r="1.5" fill="#ff1490"/>
<circle cx="64.97" cy="367.72" r="1.5" fill="#ff1490"/>
<circle cx="65.36" cy="365.79" r="1.5" fill="#ff1490"/>
<circle cx="65.76" cy="363.78" r="1.5" fill="#ff1490"/>
<circle cx="49.38" cy="385.18" r="0.45" fill="#fff" opacity="0.6"/>
<circle cx="52.77" cy="383.08" r="0.45" fill="#fff" opacity="0.6"/>
<circle cx="56.53" cy="381.13" r="0.45" fill="#fff" opacity="0.6"/>
<circle cx="59.52" cy="378.24" r="0.45" fill="#fff" opacity="0.6"/>
<circle cx="61.92" cy="375.06" r="0.45" fill="#fff" opacity="0.6"/>
<circle cx="63.66" cy="371.21" r="0.45" fill="#fff" opacity="0.6"/>
<circle cx="64.67" cy="367.32" r="0.45" fill="#fff" opacity="0.6"/>
<circle cx="65.46" cy="363.38" r="0.45" fill="#fff" opacity="0.6"/>
<circle cx="64.20" cy="365.80" r="2.0" fill="#ff1490"/>
<circle cx="63.85" cy="365.25" r="0.55" fill="#fff" opacity="0.75"/>
<circle cx="65.00" cy="362.00" r="2.0" fill="#ff1490"/>
<circle cx="64.65" cy="361.45" r="0.55" fill="#fff" opacity="0.75"/>
<circle cx="66.00" cy="358.30" r="2.0" fill="#ff1490"/>
<circle cx="65.65" cy="357.75" r="0.55" fill="#fff" opacity="0.75"/>
<circle cx="67.00" cy="354.20" r="2.0" fill="#ff1490"/>
<circle cx="66.65" cy="353.65" r="0.55" fill="#fff" opacity="0.75"/>
<circle cx="68.00" cy="349.20" r="2.0" fill="#ff1490"/>
<circle cx="67.65" cy="348.65" r="0.55" fill="#fff" opacity="0.75"/>
<circle cx="69.50" cy="343.30" r="2.0" fill="#ff1490"/>
<circle cx="69.15" cy="342.75" r="0.55" fill="#fff" opacity="0.75"/>
<circle cx="71.20" cy="336.30" r="2.0" fill="#ff1490"/>
<circle cx="70.85" cy="335.75" r="0.55" fill="#fff" opacity="0.75"/>
<circle cx="73.30" cy="327.50" r="2.0" fill="#ff1490"/>
<circle cx="72.95" cy="326.95" r="0.55" fill="#fff" opacity="0.75"/>
<circle cx="76.30" cy="317.20" r="2.0" fill="#ff1490"/>
<circle cx="75.95" cy="316.65" r="0.55" fill="#fff" opacity="0.75"/>
<circle cx="80.00" cy="305.30" r="2.0" fill="#ff1490"/>
<circle cx="79.65" cy="304.75" r="0.55" fill="#fff" opacity="0.75"/>
<circle cx="84.70" cy="291.70" r="2.0" fill="#ff1490"/>
<circle cx="84.35" cy="291.15" r="0.55" fill="#fff" opacity="0.75"/>
<circle cx="46.40" cy="291.00" r="1.9" fill="#8000ff"/>
<circle cx="46.10" cy="290.40" r="0.47" fill="#fff" opacity="0.8"/>
<circle cx="46.40" cy="302.00" r="1.9" fill="#ff1490"/>
<circle cx="46.10" cy="301.40" r="0.47" fill="#fff" opacity="0.8"/>
<text x="54.80" y="294.13" font-size="8.7" text-anchor="start" font-weight="bold" fill="#000" stroke="#000" stroke-width="0.45239999999999997">Unstructured LFP</text>
<text x="55.30" y="305.13" font-size="8.7" text-anchor="start" font-weight="bold" fill="#000" stroke="#000" stroke-width="0.45239999999999997">Laser-structured LFP</text>
<text x="48.00" y="359.50" font-size="8.5" text-anchor="start" font-weight="bold" fill="#3f5670" stroke="#3f5670" stroke-width="0.442">R<tspan font-size="5.5" dy="1.8">s</tspan></text>
<line x1="51.6" y1="361.8" x2="48.8" y2="367" stroke="#3f5670" stroke-width="1.5"/>
<polygon points="47.4,369.6 47.4,365.6 50.9,367.4" fill="#3f5670"/>
<line x1="43" y1="374.7" x2="47" y2="374.7" stroke="#3f5670" stroke-width="1.3"/>
<text x="68.60" y="362.80" font-size="8.8" text-anchor="start" font-weight="normal" fill="#7f7f7f" stroke="#7f7f7f" stroke-width="0">R<tspan font-size="6.2" dy="1.4">con</tspan></text>
<line x1="74.2" y1="363.5" x2="71.6" y2="375.5" stroke="#8c8c8c" stroke-width="1.4"/>
<polygon points="70.9,378.8 69.6,374.4 73.6,375.2" fill="#8c8c8c"/>
<text x="86.00" y="361.80" font-size="8.0" text-anchor="start" font-weight="bold" fill="#1a7cc4" stroke="#1a7cc4" stroke-width="0.416">R<tspan font-size="5.7" dy="1.5">ion</tspan><tspan dy="-1.5" font-size="8.2">/3</tspan></text>
<line x1="96.0" y1="365.5" x2="96.0" y2="371" stroke="#1a7cc4" stroke-width="1.6"/>
<polygon points="93.9,369.8 98.1,369.8 96.0,374.0" fill="#1a7cc4"/>
<text x="112.00" y="334.34" font-size="9" text-anchor="start" font-weight="bold" fill="#a0522d" stroke="#a0522d" stroke-width="0.46799999999999997">W</text>
<text x="119.00" y="375.18" font-size="9.4" text-anchor="start" font-weight="bold" fill="#000" stroke="#000" stroke-width="0.4888">14 mg cm<tspan dy="-3.76" font-size="6.20">-2</tspan></text>
<text x="209.00" y="293.28" font-size="9.4" text-anchor="start" font-weight="bold" fill="#000" stroke="#000" stroke-width="0.4888">30 mg cm<tspan dy="-3.76" font-size="6.20">-2</tspan></text>
<circle cx="216.87" cy="383.45" r="1.8" fill="#8000ff"/>
<circle cx="217.38" cy="382.17" r="1.8" fill="#8000ff"/>
<circle cx="217.77" cy="380.69" r="1.8" fill="#8000ff"/>
<circle cx="218.05" cy="379.41" r="1.8" fill="#8000ff"/>
<circle cx="218.44" cy="378.04" r="1.8" fill="#8000ff"/>
<circle cx="218.93" cy="376.89" r="1.8" fill="#8000ff"/>
<circle cx="219.64" cy="375.72" r="1.8" fill="#8000ff"/>
<circle cx="220.55" cy="374.61" r="1.8" fill="#8000ff"/>
<circle cx="221.51" cy="373.70" r="1.8" fill="#8000ff"/>
<circle cx="222.64" cy="372.83" r="1.8" fill="#8000ff"/>
<circle cx="223.84" cy="372.14" r="1.8" fill="#8000ff"/>
<circle cx="225.11" cy="371.62" r="1.8" fill="#8000ff"/>
<circle cx="226.44" cy="371.23" r="1.8" fill="#8000ff"/>
<circle cx="227.82" cy="370.97" r="1.8" fill="#8000ff"/>
<circle cx="229.27" cy="370.79" r="1.8" fill="#8000ff"/>
<circle cx="230.54" cy="370.68" r="1.8" fill="#8000ff"/>
<circle cx="231.91" cy="370.69" r="1.8" fill="#8000ff"/>
<circle cx="233.25" cy="370.94" r="1.8" fill="#8000ff"/>
<circle cx="234.61" cy="371.30" r="1.8" fill="#8000ff"/>
<circle cx="235.97" cy="371.75" r="1.8" fill="#8000ff"/>
<circle cx="237.14" cy="372.32" r="1.8" fill="#8000ff"/>
<circle cx="238.21" cy="372.98" r="1.8" fill="#8000ff"/>
<circle cx="239.35" cy="373.80" r="1.8" fill="#8000ff"/>
<circle cx="240.26" cy="374.68" r="1.8" fill="#8000ff"/>
<circle cx="241.11" cy="375.70" r="1.8" fill="#8000ff"/>
<circle cx="241.98" cy="376.75" r="1.8" fill="#8000ff"/>
<circle cx="242.84" cy="377.81" r="1.8" fill="#8000ff"/>
<circle cx="243.71" cy="378.85" r="1.8" fill="#8000ff"/>
<circle cx="244.57" cy="379.92" r="1.8" fill="#8000ff"/>
<circle cx="245.42" cy="380.97" r="1.8" fill="#8000ff"/>
<circle cx="246.66" cy="381.00" r="1.8" fill="#8000ff"/>
<circle cx="247.90" cy="380.53" r="1.8" fill="#8000ff"/>
<circle cx="249.07" cy="380.07" r="1.8" fill="#8000ff"/>
<circle cx="250.26" cy="379.66" r="1.8" fill="#8000ff"/>
<circle cx="251.58" cy="379.20" r="1.8" fill="#8000ff"/>
<circle cx="252.78" cy="378.61" r="1.8" fill="#8000ff"/>
<circle cx="254.16" cy="377.96" r="1.8" fill="#8000ff"/>
<circle cx="255.46" cy="377.58" r="1.8" fill="#8000ff"/>
<circle cx="257.11" cy="377.15" r="1.8" fill="#8000ff"/>
<circle cx="258.82" cy="376.70" r="1.8" fill="#8000ff"/>
<circle cx="260.30" cy="376.27" r="1.8" fill="#8000ff"/>
<circle cx="261.80" cy="375.71" r="1.8" fill="#8000ff"/>
<circle cx="263.06" cy="375.15" r="1.8" fill="#8000ff"/>
<circle cx="264.32" cy="374.58" r="1.8" fill="#8000ff"/>
<circle cx="265.67" cy="374.00" r="1.8" fill="#8000ff"/>
<circle cx="267.02" cy="373.39" r="1.8" fill="#8000ff"/>
<circle cx="268.35" cy="372.67" r="1.8" fill="#8000ff"/>
<circle cx="269.66" cy="371.81" r="1.8" fill="#8000ff"/>
<circle cx="270.95" cy="370.83" r="1.8" fill="#8000ff"/>
<circle cx="272.16" cy="369.71" r="1.8" fill="#8000ff"/>
<circle cx="273.08" cy="368.65" r="1.8" fill="#8000ff"/>
<circle cx="273.99" cy="367.41" r="1.8" fill="#8000ff"/>
<circle cx="274.78" cy="366.27" r="1.8" fill="#8000ff"/>
<circle cx="216.57" cy="383.05" r="0.45" fill="#fff" opacity="0.6"/>
<circle cx="217.47" cy="380.29" r="0.45" fill="#fff" opacity="0.6"/>
<circle cx="218.14" cy="377.64" r="0.45" fill="#fff" opacity="0.6"/>
<circle cx="219.34" cy="375.32" r="0.45" fill="#fff" opacity="0.6"/>
<circle cx="221.21" cy="373.30" r="0.45" fill="#fff" opacity="0.6"/>
<circle cx="223.54" cy="371.74" r="0.45" fill="#fff" opacity="0.6"/>
<circle cx="226.14" cy="370.83" r="0.45" fill="#fff" opacity="0.6"/>
<circle cx="228.97" cy="370.39" r="0.45" fill="#fff" opacity="0.6"/>
<circle cx="231.61" cy="370.29" r="0.45" fill="#fff" opacity="0.6"/>
<circle cx="234.31" cy="370.90" r="0.45" fill="#fff" opacity="0.6"/>
<circle cx="236.84" cy="371.92" r="0.45" fill="#fff" opacity="0.6"/>
<circle cx="239.05" cy="373.40" r="0.45" fill="#fff" opacity="0.6"/>
<circle cx="240.81" cy="375.30" r="0.45" fill="#fff" opacity="0.6"/>
<circle cx="242.54" cy="377.41" r="0.45" fill="#fff" opacity="0.6"/>
<circle cx="244.27" cy="379.52" r="0.45" fill="#fff" opacity="0.6"/>
<circle cx="246.36" cy="380.60" r="0.45" fill="#fff" opacity="0.6"/>
<circle cx="248.77" cy="379.67" r="0.45" fill="#fff" opacity="0.6"/>
<circle cx="251.28" cy="378.80" r="0.45" fill="#fff" opacity="0.6"/>
<circle cx="253.86" cy="377.56" r="0.45" fill="#fff" opacity="0.6"/>
<circle cx="256.81" cy="376.75" r="0.45" fill="#fff" opacity="0.6"/>
<circle cx="260.00" cy="375.87" r="0.45" fill="#fff" opacity="0.6"/>
<circle cx="262.76" cy="374.75" r="0.45" fill="#fff" opacity="0.6"/>
<circle cx="265.37" cy="373.60" r="0.45" fill="#fff" opacity="0.6"/>
<circle cx="268.05" cy="372.27" r="0.45" fill="#fff" opacity="0.6"/>
<circle cx="270.65" cy="370.43" r="0.45" fill="#fff" opacity="0.6"/>
<circle cx="272.78" cy="368.25" r="0.45" fill="#fff" opacity="0.6"/>
<circle cx="274.48" cy="365.87" r="0.45" fill="#fff" opacity="0.6"/>
<circle cx="277.20" cy="361.80" r="2.0" fill="#8000ff"/>
<circle cx="276.85" cy="361.25" r="0.55" fill="#fff" opacity="0.75"/>
<circle cx="279.00" cy="359.20" r="2.0" fill="#8000ff"/>
<circle cx="278.65" cy="358.65" r="0.55" fill="#fff" opacity="0.75"/>
<circle cx="280.80" cy="356.10" r="2.0" fill="#8000ff"/>
<circle cx="280.45" cy="355.55" r="0.55" fill="#fff" opacity="0.75"/>
<circle cx="282.40" cy="352.80" r="2.0" fill="#8000ff"/>
<circle cx="282.05" cy="352.25" r="0.55" fill="#fff" opacity="0.75"/>
<circle cx="284.50" cy="349.20" r="2.0" fill="#8000ff"/>
<circle cx="284.15" cy="348.65" r="0.55" fill="#fff" opacity="0.75"/>
<circle cx="286.90" cy="344.70" r="2.0" fill="#8000ff"/>
<circle cx="286.55" cy="344.15" r="0.55" fill="#fff" opacity="0.75"/>
<circle cx="289.30" cy="338.90" r="2.0" fill="#8000ff"/>
<circle cx="288.95" cy="338.35" r="0.55" fill="#fff" opacity="0.75"/>
<circle cx="292.30" cy="332.90" r="2.0" fill="#8000ff"/>
<circle cx="291.95" cy="332.35" r="0.55" fill="#fff" opacity="0.75"/>
<circle cx="296.10" cy="325.90" r="2.0" fill="#8000ff"/>
<circle cx="295.75" cy="325.35" r="0.55" fill="#fff" opacity="0.75"/>
<circle cx="301.00" cy="317.80" r="2.0" fill="#8000ff"/>
<circle cx="300.65" cy="317.25" r="0.55" fill="#fff" opacity="0.75"/>
<circle cx="217.51" cy="383.45" r="1.8" fill="#ff1490"/>
<circle cx="218.56" cy="382.56" r="1.8" fill="#ff1490"/>
<circle cx="219.27" cy="381.52" r="1.8" fill="#ff1490"/>
<circle cx="220.28" cy="380.65" r="1.8" fill="#ff1490"/>
<circle cx="221.50" cy="380.24" r="1.8" fill="#ff1490"/>
<circle cx="222.82" cy="379.75" r="1.8" fill="#ff1490"/>
<circle cx="224.17" cy="379.24" r="1.8" fill="#ff1490"/>
<circle cx="225.48" cy="378.72" r="1.8" fill="#ff1490"/>
<circle cx="226.76" cy="378.10" r="1.8" fill="#ff1490"/>
<circle cx="228.07" cy="377.36" r="1.8" fill="#ff1490"/>
<circle cx="229.24" cy="376.75" r="1.8" fill="#ff1490"/>
<circle cx="230.46" cy="376.14" r="1.8" fill="#ff1490"/>
<circle cx="231.76" cy="375.50" r="1.8" fill="#ff1490"/>
<circle cx="233.14" cy="374.80" r="1.8" fill="#ff1490"/>
<circle cx="234.30" cy="374.23" r="1.8" fill="#ff1490"/>
<circle cx="235.47" cy="373.66" r="1.8" fill="#ff1490"/>
<circle cx="236.71" cy="373.10" r="1.8" fill="#ff1490"/>
<circle cx="237.91" cy="372.53" r="1.8" fill="#ff1490"/>
<circle cx="239.27" cy="371.83" r="1.8" fill="#ff1490"/>
<circle cx="240.48" cy="371.14" r="1.8" fill="#ff1490"/>
<circle cx="241.70" cy="370.41" r="1.8" fill="#ff1490"/>
<circle cx="242.97" cy="369.62" r="1.8" fill="#ff1490"/>
<circle cx="244.19" cy="368.81" r="1.8" fill="#ff1490"/>
<circle cx="245.24" cy="368.03" r="1.8" fill="#ff1490"/>
<circle cx="246.36" cy="367.08" r="1.8" fill="#ff1490"/>
<circle cx="247.33" cy="366.23" r="1.8" fill="#ff1490"/>
<circle cx="248.31" cy="365.32" r="1.8" fill="#ff1490"/>
<circle cx="249.26" cy="364.48" r="1.8" fill="#ff1490"/>
<circle cx="250.36" cy="363.60" r="1.8" fill="#ff1490"/>
<circle cx="251.48" cy="362.72" r="1.8" fill="#ff1490"/>
<circle cx="252.46" cy="361.91" r="1.8" fill="#ff1490"/>
<circle cx="253.30" cy="360.75" r="1.8" fill="#ff1490"/>
<circle cx="217.21" cy="383.05" r="0.45" fill="#fff" opacity="0.6"/>
<circle cx="218.97" cy="381.12" r="0.45" fill="#fff" opacity="0.6"/>
<circle cx="221.20" cy="379.84" r="0.45" fill="#fff" opacity="0.6"/>
<circle cx="223.87" cy="378.84" r="0.45" fill="#fff" opacity="0.6"/>
<circle cx="226.46" cy="377.70" r="0.45" fill="#fff" opacity="0.6"/>
<circle cx="228.94" cy="376.35" r="0.45" fill="#fff" opacity="0.6"/>
<circle cx="231.46" cy="375.10" r="0.45" fill="#fff" opacity="0.6"/>
<circle cx="234.00" cy="373.83" r="0.45" fill="#fff" opacity="0.6"/>
<circle cx="236.41" cy="372.70" r="0.45" fill="#fff" opacity="0.6"/>
<circle cx="238.97" cy="371.43" r="0.45" fill="#fff" opacity="0.6"/>
<circle cx="241.40" cy="370.01" r="0.45" fill="#fff" opacity="0.6"/>
<circle cx="243.89" cy="368.41" r="0.45" fill="#fff" opacity="0.6"/>
<circle cx="246.06" cy="366.68" r="0.45" fill="#fff" opacity="0.6"/>
<circle cx="248.01" cy="364.92" r="0.45" fill="#fff" opacity="0.6"/>
<circle cx="250.06" cy="363.20" r="0.45" fill="#fff" opacity="0.6"/>
<circle cx="252.16" cy="361.51" r="0.45" fill="#fff" opacity="0.6"/>
<circle cx="254.90" cy="356.30" r="2.0" fill="#ff1490"/>
<circle cx="254.55" cy="355.75" r="0.55" fill="#fff" opacity="0.75"/>
<circle cx="256.70" cy="353.00" r="2.0" fill="#ff1490"/>
<circle cx="256.35" cy="352.45" r="0.55" fill="#fff" opacity="0.75"/>
<circle cx="258.90" cy="349.40" r="2.0" fill="#ff1490"/>
<circle cx="258.55" cy="348.85" r="0.55" fill="#fff" opacity="0.75"/>
<circle cx="261.00" cy="345.10" r="2.0" fill="#ff1490"/>
<circle cx="260.65" cy="344.55" r="0.55" fill="#fff" opacity="0.75"/>
<circle cx="263.70" cy="340.20" r="2.0" fill="#ff1490"/>
<circle cx="263.35" cy="339.65" r="0.55" fill="#fff" opacity="0.75"/>
<circle cx="266.70" cy="334.30" r="2.0" fill="#ff1490"/>
<circle cx="266.35" cy="333.75" r="0.55" fill="#fff" opacity="0.75"/>
<circle cx="270.70" cy="327.70" r="2.0" fill="#ff1490"/>
<circle cx="270.35" cy="327.15" r="0.55" fill="#fff" opacity="0.75"/>
<circle cx="275.80" cy="320.10" r="2.0" fill="#ff1490"/>
<circle cx="275.45" cy="319.55" r="0.55" fill="#fff" opacity="0.75"/>
<circle cx="281.60" cy="311.60" r="2.0" fill="#ff1490"/>
<circle cx="281.25" cy="311.05" r="0.55" fill="#fff" opacity="0.75"/>
<text x="379.00" y="293.68" font-size="9.4" text-anchor="start" font-weight="bold" fill="#000" stroke="#000" stroke-width="0.4888">40 mg cm<tspan dy="-3.76" font-size="6.20">-2</tspan></text>
<circle cx="386.65" cy="383.68" r="1.8" fill="#8000ff"/>
<circle cx="387.33" cy="382.46" r="1.8" fill="#8000ff"/>
<circle cx="387.89" cy="381.20" r="1.8" fill="#8000ff"/>
<circle cx="388.43" cy="379.88" r="1.8" fill="#8000ff"/>
<circle cx="389.00" cy="378.72" r="1.8" fill="#8000ff"/>
<circle cx="389.72" cy="377.54" r="1.8" fill="#8000ff"/>
<circle cx="390.54" cy="376.52" r="1.8" fill="#8000ff"/>
<circle cx="391.48" cy="375.69" r="1.8" fill="#8000ff"/>
<circle cx="392.52" cy="374.86" r="1.8" fill="#8000ff"/>
<circle cx="393.69" cy="373.98" r="1.8" fill="#8000ff"/>
<circle cx="394.87" cy="373.24" r="1.8" fill="#8000ff"/>
<circle cx="396.01" cy="372.69" r="1.8" fill="#8000ff"/>
<circle cx="397.25" cy="372.30" r="1.8" fill="#8000ff"/>
<circle cx="398.65" cy="372.08" r="1.8" fill="#8000ff"/>
<circle cx="400.01" cy="371.95" r="1.8" fill="#8000ff"/>
<circle cx="401.30" cy="371.88" r="1.8" fill="#8000ff"/>
<circle cx="402.67" cy="371.91" r="1.8" fill="#8000ff"/>
<circle cx="404.06" cy="372.07" r="1.8" fill="#8000ff"/>
<circle cx="405.35" cy="372.22" r="1.8" fill="#8000ff"/>
<circle cx="406.61" cy="372.59" r="1.8" fill="#8000ff"/>
<circle cx="407.73" cy="373.18" r="1.8" fill="#8000ff"/>
<circle cx="408.89" cy="373.89" r="1.8" fill="#8000ff"/>
<circle cx="410.01" cy="374.76" r="1.8" fill="#8000ff"/>
<circle cx="411.00" cy="375.75" r="1.8" fill="#8000ff"/>
<circle cx="411.98" cy="376.83" r="1.8" fill="#8000ff"/>
<circle cx="412.83" cy="377.79" r="1.8" fill="#8000ff"/>
<circle cx="413.81" cy="378.82" r="1.8" fill="#8000ff"/>
<circle cx="414.81" cy="379.78" r="1.8" fill="#8000ff"/>
<circle cx="415.76" cy="380.65" r="1.8" fill="#8000ff"/>
<circle cx="416.71" cy="381.47" r="1.8" fill="#8000ff"/>
<circle cx="417.73" cy="382.38" r="1.8" fill="#8000ff"/>
<circle cx="418.91" cy="382.62" r="1.8" fill="#8000ff"/>
<circle cx="420.01" cy="381.81" r="1.8" fill="#8000ff"/>
<circle cx="421.06" cy="381.00" r="1.8" fill="#8000ff"/>
<circle cx="422.21" cy="380.50" r="1.8" fill="#8000ff"/>
<circle cx="423.60" cy="380.09" r="1.8" fill="#8000ff"/>
<circle cx="425.04" cy="379.68" r="1.8" fill="#8000ff"/>
<circle cx="426.40" cy="379.32" r="1.8" fill="#8000ff"/>
<circle cx="427.83" cy="378.93" r="1.8" fill="#8000ff"/>
<circle cx="429.20" cy="378.52" r="1.8" fill="#8000ff"/>
<circle cx="430.47" cy="378.11" r="1.8" fill="#8000ff"/>
<circle cx="431.73" cy="377.69" r="1.8" fill="#8000ff"/>
<circle cx="432.99" cy="377.21" r="1.8" fill="#8000ff"/>
<circle cx="434.28" cy="376.62" r="1.8" fill="#8000ff"/>
<circle cx="435.63" cy="375.89" r="1.8" fill="#8000ff"/>
<circle cx="437.02" cy="375.03" r="1.8" fill="#8000ff"/>
<circle cx="438.41" cy="374.13" r="1.8" fill="#8000ff"/>
<circle cx="439.78" cy="373.25" r="1.8" fill="#8000ff"/>
<circle cx="441.13" cy="372.38" r="1.8" fill="#8000ff"/>
<circle cx="442.46" cy="371.49" r="1.8" fill="#8000ff"/>
<circle cx="443.77" cy="370.61" r="1.8" fill="#8000ff"/>
<circle cx="445.07" cy="369.77" r="1.8" fill="#8000ff"/>
<circle cx="446.36" cy="368.97" r="1.8" fill="#8000ff"/>
<circle cx="447.63" cy="368.18" r="1.8" fill="#8000ff"/>
<circle cx="448.89" cy="367.43" r="1.8" fill="#8000ff"/>
<circle cx="450.15" cy="366.72" r="1.8" fill="#8000ff"/>
<circle cx="451.42" cy="366.07" r="1.8" fill="#8000ff"/>
<circle cx="452.68" cy="365.48" r="1.8" fill="#8000ff"/>
<circle cx="453.95" cy="364.88" r="1.8" fill="#8000ff"/>
<circle cx="455.23" cy="364.19" r="1.8" fill="#8000ff"/>
<circle cx="456.67" cy="363.28" r="1.8" fill="#8000ff"/>
<circle cx="458.20" cy="362.24" r="1.8" fill="#8000ff"/>
<circle cx="459.57" cy="361.27" r="1.8" fill="#8000ff"/>
<circle cx="386.35" cy="383.28" r="0.45" fill="#fff" opacity="0.6"/>
<circle cx="387.59" cy="380.80" r="0.45" fill="#fff" opacity="0.6"/>
<circle cx="388.70" cy="378.32" r="0.45" fill="#fff" opacity="0.6"/>
<circle cx="390.24" cy="376.12" r="0.45" fill="#fff" opacity="0.6"/>
<circle cx="392.22" cy="374.46" r="0.45" fill="#fff" opacity="0.6"/>
<circle cx="394.57" cy="372.84" r="0.45" fill="#fff" opacity="0.6"/>
<circle cx="396.95" cy="371.90" r="0.45" fill="#fff" opacity="0.6"/>
<circle cx="399.71" cy="371.55" r="0.45" fill="#fff" opacity="0.6"/>
<circle cx="402.37" cy="371.51" r="0.45" fill="#fff" opacity="0.6"/>
<circle cx="405.05" cy="371.82" r="0.45" fill="#fff" opacity="0.6"/>
<circle cx="407.43" cy="372.78" r="0.45" fill="#fff" opacity="0.6"/>
<circle cx="409.71" cy="374.36" r="0.45" fill="#fff" opacity="0.6"/>
<circle cx="411.68" cy="376.43" r="0.45" fill="#fff" opacity="0.6"/>
<circle cx="413.51" cy="378.42" r="0.45" fill="#fff" opacity="0.6"/>
<circle cx="415.46" cy="380.25" r="0.45" fill="#fff" opacity="0.6"/>
<circle cx="417.43" cy="381.98" r="0.45" fill="#fff" opacity="0.6"/>
<circle cx="419.71" cy="381.41" r="0.45" fill="#fff" opacity="0.6"/>
<circle cx="421.91" cy="380.10" r="0.45" fill="#fff" opacity="0.6"/>
<circle cx="424.74" cy="379.28" r="0.45" fill="#fff" opacity="0.6"/>
<circle cx="427.53" cy="378.53" r="0.45" fill="#fff" opacity="0.6"/>
<circle cx="430.17" cy="377.71" r="0.45" fill="#fff" opacity="0.6"/>
<circle cx="432.69" cy="376.81" r="0.45" fill="#fff" opacity="0.6"/>
<circle cx="435.33" cy="375.49" r="0.45" fill="#fff" opacity="0.6"/>
<circle cx="438.11" cy="373.73" r="0.45" fill="#fff" opacity="0.6"/>
<circle cx="440.83" cy="371.98" r="0.45" fill="#fff" opacity="0.6"/>
<circle cx="443.47" cy="370.21" r="0.45" fill="#fff" opacity="0.6"/>
<circle cx="446.06" cy="368.57" r="0.45" fill="#fff" opacity="0.6"/>
<circle cx="448.59" cy="367.03" r="0.45" fill="#fff" opacity="0.6"/>
<circle cx="451.12" cy="365.67" r="0.45" fill="#fff" opacity="0.6"/>
<circle cx="453.65" cy="364.48" r="0.45" fill="#fff" opacity="0.6"/>
<circle cx="456.37" cy="362.88" r="0.45" fill="#fff" opacity="0.6"/>
<circle cx="459.27" cy="360.87" r="0.45" fill="#fff" opacity="0.6"/>
<circle cx="463.20" cy="357.20" r="2.0" fill="#8000ff"/>
<circle cx="462.85" cy="356.65" r="0.55" fill="#fff" opacity="0.75"/>
<circle cx="464.90" cy="355.50" r="2.0" fill="#8000ff"/>
<circle cx="464.55" cy="354.95" r="0.55" fill="#fff" opacity="0.75"/>
<circle cx="466.40" cy="353.20" r="2.0" fill="#8000ff"/>
<circle cx="466.05" cy="352.65" r="0.55" fill="#fff" opacity="0.75"/>
<circle cx="468.50" cy="350.40" r="2.0" fill="#8000ff"/>
<circle cx="468.15" cy="349.85" r="0.55" fill="#fff" opacity="0.75"/>
<circle cx="470.50" cy="346.70" r="2.0" fill="#8000ff"/>
<circle cx="470.15" cy="346.15" r="0.55" fill="#fff" opacity="0.75"/>
<circle cx="472.90" cy="342.20" r="2.0" fill="#8000ff"/>
<circle cx="472.55" cy="341.65" r="0.55" fill="#fff" opacity="0.75"/>
<circle cx="475.80" cy="336.80" r="2.0" fill="#8000ff"/>
<circle cx="475.45" cy="336.25" r="0.55" fill="#fff" opacity="0.75"/>
<circle cx="479.00" cy="330.20" r="2.0" fill="#8000ff"/>
<circle cx="478.65" cy="329.65" r="0.55" fill="#fff" opacity="0.75"/>
<circle cx="387.50" cy="384.21" r="1.8" fill="#ff1490"/>
<circle cx="388.65" cy="383.54" r="1.8" fill="#ff1490"/>
<circle cx="390.02" cy="383.09" r="1.8" fill="#ff1490"/>
<circle cx="391.47" cy="382.65" r="1.8" fill="#ff1490"/>
<circle cx="392.79" cy="382.10" r="1.8" fill="#ff1490"/>
<circle cx="394.04" cy="381.28" r="1.8" fill="#ff1490"/>
<circle cx="395.03" cy="380.52" r="1.8" fill="#ff1490"/>
<circle cx="396.23" cy="379.69" r="1.8" fill="#ff1490"/>
<circle cx="397.36" cy="378.99" r="1.8" fill="#ff1490"/>
<circle cx="398.51" cy="378.31" r="1.8" fill="#ff1490"/>
<circle cx="399.73" cy="377.60" r="1.8" fill="#ff1490"/>
<circle cx="400.98" cy="376.89" r="1.8" fill="#ff1490"/>
<circle cx="402.21" cy="376.24" r="1.8" fill="#ff1490"/>
<circle cx="403.45" cy="375.63" r="1.8" fill="#ff1490"/>
<circle cx="404.68" cy="375.03" r="1.8" fill="#ff1490"/>
<circle cx="405.93" cy="374.44" r="1.8" fill="#ff1490"/>
<circle cx="407.16" cy="373.81" r="1.8" fill="#ff1490"/>
<circle cx="408.32" cy="373.08" r="1.8" fill="#ff1490"/>
<circle cx="409.45" cy="372.28" r="1.8" fill="#ff1490"/>
<circle cx="410.63" cy="371.42" r="1.8" fill="#ff1490"/>
<circle cx="411.87" cy="370.50" r="1.8" fill="#ff1490"/>
<circle cx="413.11" cy="369.56" r="1.8" fill="#ff1490"/>
<circle cx="414.35" cy="368.65" r="1.8" fill="#ff1490"/>
<circle cx="415.58" cy="367.73" r="1.8" fill="#ff1490"/>
<circle cx="416.58" cy="366.94" r="1.8" fill="#ff1490"/>
<circle cx="417.58" cy="366.09" r="1.8" fill="#ff1490"/>
<circle cx="418.57" cy="365.23" r="1.8" fill="#ff1490"/>
<circle cx="419.71" cy="364.22" r="1.8" fill="#ff1490"/>
<circle cx="420.76" cy="363.26" r="1.8" fill="#ff1490"/>
<circle cx="421.79" cy="362.31" r="1.8" fill="#ff1490"/>
<circle cx="422.84" cy="361.33" r="1.8" fill="#ff1490"/>
<circle cx="423.76" cy="360.44" r="1.8" fill="#ff1490"/>
<circle cx="424.58" cy="359.46" r="1.8" fill="#ff1490"/>
<circle cx="387.20" cy="383.81" r="0.45" fill="#fff" opacity="0.6"/>
<circle cx="389.72" cy="382.69" r="0.45" fill="#fff" opacity="0.6"/>
<circle cx="392.49" cy="381.70" r="0.45" fill="#fff" opacity="0.6"/>
<circle cx="394.73" cy="380.12" r="0.45" fill="#fff" opacity="0.6"/>
<circle cx="397.06" cy="378.59" r="0.45" fill="#fff" opacity="0.6"/>
<circle cx="399.43" cy="377.20" r="0.45" fill="#fff" opacity="0.6"/>
<circle cx="401.91" cy="375.84" r="0.45" fill="#fff" opacity="0.6"/>
<circle cx="404.38" cy="374.63" r="0.45" fill="#fff" opacity="0.6"/>
<circle cx="406.86" cy="373.41" r="0.45" fill="#fff" opacity="0.6"/>
<circle cx="409.15" cy="371.88" r="0.45" fill="#fff" opacity="0.6"/>
<circle cx="411.57" cy="370.10" r="0.45" fill="#fff" opacity="0.6"/>
<circle cx="414.05" cy="368.25" r="0.45" fill="#fff" opacity="0.6"/>
<circle cx="416.28" cy="366.54" r="0.45" fill="#fff" opacity="0.6"/>
<circle cx="418.27" cy="364.83" r="0.45" fill="#fff" opacity="0.6"/>
<circle cx="420.46" cy="362.86" r="0.45" fill="#fff" opacity="0.6"/>
<circle cx="422.54" cy="360.93" r="0.45" fill="#fff" opacity="0.6"/>
<circle cx="424.28" cy="359.06" r="0.45" fill="#fff" opacity="0.6"/>
<circle cx="425.30" cy="359.10" r="2.0" fill="#ff1490"/>
<circle cx="424.95" cy="358.55" r="0.55" fill="#fff" opacity="0.75"/>
<circle cx="427.10" cy="356.50" r="2.0" fill="#ff1490"/>
<circle cx="426.75" cy="355.95" r="0.55" fill="#fff" opacity="0.75"/>
<circle cx="428.90" cy="353.10" r="2.0" fill="#ff1490"/>
<circle cx="428.55" cy="352.55" r="0.55" fill="#fff" opacity="0.75"/>
<circle cx="430.70" cy="349.20" r="2.0" fill="#ff1490"/>
<circle cx="430.35" cy="348.65" r="0.55" fill="#fff" opacity="0.75"/>
<circle cx="432.90" cy="345.00" r="2.0" fill="#ff1490"/>
<circle cx="432.55" cy="344.45" r="0.55" fill="#fff" opacity="0.75"/>
<circle cx="435.50" cy="339.60" r="2.0" fill="#ff1490"/>
<circle cx="435.15" cy="339.05" r="0.55" fill="#fff" opacity="0.75"/>
<circle cx="438.30" cy="333.20" r="2.0" fill="#ff1490"/>
<circle cx="437.95" cy="332.65" r="0.55" fill="#fff" opacity="0.75"/>
<circle cx="441.80" cy="325.70" r="2.0" fill="#ff1490"/>
<circle cx="441.45" cy="325.15" r="0.55" fill="#fff" opacity="0.75"/>
<circle cx="446.00" cy="317.10" r="2.0" fill="#ff1490"/>
<circle cx="445.65" cy="316.55" r="0.55" fill="#fff" opacity="0.75"/>
<circle cx="451.00" cy="306.90" r="2.0" fill="#ff1490"/>
<circle cx="450.65" cy="306.35" r="0.55" fill="#fff" opacity="0.75"/>
<text x="550.60" y="293.68" font-size="9.4" text-anchor="start" font-weight="bold" fill="#000" stroke="#000" stroke-width="0.4888">60 mg cm<tspan dy="-3.76" font-size="6.20">-2</tspan></text>
<circle cx="558.60" cy="383.28" r="1.8" fill="#8000ff"/>
<circle cx="559.02" cy="382.09" r="1.8" fill="#8000ff"/>
<circle cx="559.63" cy="380.89" r="1.8" fill="#8000ff"/>
<circle cx="560.59" cy="379.97" r="1.8" fill="#8000ff"/>
<circle cx="561.83" cy="379.38" r="1.8" fill="#8000ff"/>
<circle cx="563.13" cy="379.25" r="1.8" fill="#8000ff"/>
<circle cx="564.36" cy="379.57" r="1.8" fill="#8000ff"/>
<circle cx="565.46" cy="380.25" r="1.8" fill="#8000ff"/>
<circle cx="566.65" cy="380.71" r="1.8" fill="#8000ff"/>
<circle cx="567.90" cy="380.59" r="1.8" fill="#8000ff"/>
<circle cx="569.19" cy="380.10" r="1.8" fill="#8000ff"/>
<circle cx="570.39" cy="379.28" r="1.8" fill="#8000ff"/>
<circle cx="571.52" cy="378.62" r="1.8" fill="#8000ff"/>
<circle cx="572.85" cy="378.14" r="1.8" fill="#8000ff"/>
<circle cx="574.42" cy="377.66" r="1.8" fill="#8000ff"/>
<circle cx="575.97" cy="377.13" r="1.8" fill="#8000ff"/>
<circle cx="577.39" cy="376.54" r="1.8" fill="#8000ff"/>
<circle cx="578.78" cy="375.91" r="1.8" fill="#8000ff"/>
<circle cx="580.20" cy="375.23" r="1.8" fill="#8000ff"/>
<circle cx="581.68" cy="374.50" r="1.8" fill="#8000ff"/>
<circle cx="582.80" cy="373.92" r="1.8" fill="#8000ff"/>
<circle cx="583.92" cy="373.31" r="1.8" fill="#8000ff"/>
<circle cx="585.01" cy="372.68" r="1.8" fill="#8000ff"/>
<circle cx="586.07" cy="372.01" r="1.8" fill="#8000ff"/>
<circle cx="587.12" cy="371.31" r="1.8" fill="#8000ff"/>
<circle cx="588.17" cy="370.61" r="1.8" fill="#8000ff"/>
<circle cx="589.25" cy="369.91" r="1.8" fill="#8000ff"/>
<circle cx="590.36" cy="369.23" r="1.8" fill="#8000ff"/>
<circle cx="591.47" cy="368.55" r="1.8" fill="#8000ff"/>
<circle cx="592.59" cy="367.86" r="1.8" fill="#8000ff"/>
<circle cx="593.71" cy="367.15" r="1.8" fill="#8000ff"/>
<circle cx="594.82" cy="366.42" r="1.8" fill="#8000ff"/>
<circle cx="595.93" cy="365.67" r="1.8" fill="#8000ff"/>
<circle cx="597.04" cy="364.92" r="1.8" fill="#8000ff"/>
<circle cx="598.16" cy="364.18" r="1.8" fill="#8000ff"/>
<circle cx="599.27" cy="363.43" r="1.8" fill="#8000ff"/>
<circle cx="600.38" cy="362.68" r="1.8" fill="#8000ff"/>
<circle cx="601.49" cy="361.94" r="1.8" fill="#8000ff"/>
<circle cx="602.62" cy="361.22" r="1.8" fill="#8000ff"/>
<circle cx="603.84" cy="360.45" r="1.8" fill="#8000ff"/>
<circle cx="605.05" cy="359.71" r="1.8" fill="#8000ff"/>
<circle cx="606.13" cy="359.05" r="1.8" fill="#8000ff"/>
<circle cx="607.25" cy="358.34" r="1.8" fill="#8000ff"/>
<circle cx="558.30" cy="382.88" r="0.45" fill="#fff" opacity="0.6"/>
<circle cx="559.33" cy="380.49" r="0.45" fill="#fff" opacity="0.6"/>
<circle cx="561.53" cy="378.98" r="0.45" fill="#fff" opacity="0.6"/>
<circle cx="564.06" cy="379.17" r="0.45" fill="#fff" opacity="0.6"/>
<circle cx="566.35" cy="380.31" r="0.45" fill="#fff" opacity="0.6"/>
<circle cx="568.89" cy="379.70" r="0.45" fill="#fff" opacity="0.6"/>
<circle cx="571.22" cy="378.22" r="0.45" fill="#fff" opacity="0.6"/>
<circle cx="574.12" cy="377.26" r="0.45" fill="#fff" opacity="0.6"/>
<circle cx="577.09" cy="376.14" r="0.45" fill="#fff" opacity="0.6"/>
<circle cx="579.90" cy="374.83" r="0.45" fill="#fff" opacity="0.6"/>
<circle cx="582.50" cy="373.52" r="0.45" fill="#fff" opacity="0.6"/>
<circle cx="584.71" cy="372.28" r="0.45" fill="#fff" opacity="0.6"/>
<circle cx="586.82" cy="370.91" r="0.45" fill="#fff" opacity="0.6"/>
<circle cx="588.95" cy="369.51" r="0.45" fill="#fff" opacity="0.6"/>
<circle cx="591.17" cy="368.15" r="0.45" fill="#fff" opacity="0.6"/>
<circle cx="593.41" cy="366.75" r="0.45" fill="#fff" opacity="0.6"/>
<circle cx="595.63" cy="365.27" r="0.45" fill="#fff" opacity="0.6"/>
<circle cx="597.86" cy="363.78" r="0.45" fill="#fff" opacity="0.6"/>
<circle cx="600.08" cy="362.28" r="0.45" fill="#fff" opacity="0.6"/>
<circle cx="602.32" cy="360.82" r="0.45" fill="#fff" opacity="0.6"/>
<circle cx="604.75" cy="359.31" r="0.45" fill="#fff" opacity="0.6"/>
<circle cx="606.95" cy="357.94" r="0.45" fill="#fff" opacity="0.6"/>
<circle cx="610.40" cy="357.20" r="2.0" fill="#8000ff"/>
<circle cx="610.05" cy="356.65" r="0.55" fill="#fff" opacity="0.75"/>
<circle cx="613.40" cy="354.90" r="2.0" fill="#8000ff"/>
<circle cx="613.05" cy="354.35" r="0.55" fill="#fff" opacity="0.75"/>
<circle cx="616.30" cy="352.70" r="2.0" fill="#8000ff"/>
<circle cx="615.95" cy="352.15" r="0.55" fill="#fff" opacity="0.75"/>
<circle cx="619.20" cy="350.30" r="2.0" fill="#8000ff"/>
<circle cx="618.85" cy="349.75" r="0.55" fill="#fff" opacity="0.75"/>
<circle cx="622.10" cy="347.60" r="2.0" fill="#8000ff"/>
<circle cx="621.75" cy="347.05" r="0.55" fill="#fff" opacity="0.75"/>
<circle cx="624.90" cy="344.40" r="2.0" fill="#8000ff"/>
<circle cx="624.55" cy="343.85" r="0.55" fill="#fff" opacity="0.75"/>
<circle cx="627.80" cy="340.50" r="2.0" fill="#8000ff"/>
<circle cx="627.45" cy="339.95" r="0.55" fill="#fff" opacity="0.75"/>
<circle cx="630.70" cy="335.90" r="2.0" fill="#8000ff"/>
<circle cx="630.35" cy="335.35" r="0.55" fill="#fff" opacity="0.75"/>
<circle cx="633.80" cy="330.00" r="2.0" fill="#8000ff"/>
<circle cx="633.45" cy="329.45" r="0.55" fill="#fff" opacity="0.75"/>
<circle cx="636.70" cy="323.10" r="2.0" fill="#8000ff"/>
<circle cx="636.35" cy="322.55" r="0.55" fill="#fff" opacity="0.75"/>
<circle cx="559.23" cy="384.12" r="1.8" fill="#ff1490"/>
<circle cx="560.12" cy="382.96" r="1.8" fill="#ff1490"/>
<circle cx="561.16" cy="382.27" r="1.8" fill="#ff1490"/>
<circle cx="562.60" cy="382.10" r="1.8" fill="#ff1490"/>
<circle cx="563.94" cy="381.42" r="1.8" fill="#ff1490"/>
<circle cx="565.23" cy="380.64" r="1.8" fill="#ff1490"/>
<circle cx="566.65" cy="379.89" r="1.8" fill="#ff1490"/>
<circle cx="567.80" cy="379.39" r="1.8" fill="#ff1490"/>
<circle cx="569.04" cy="378.91" r="1.8" fill="#ff1490"/>
<circle cx="570.31" cy="378.44" r="1.8" fill="#ff1490"/>
<circle cx="571.52" cy="377.98" r="1.8" fill="#ff1490"/>
<circle cx="573.04" cy="377.40" r="1.8" fill="#ff1490"/>
<circle cx="574.52" cy="376.85" r="1.8" fill="#ff1490"/>
<circle cx="575.97" cy="376.29" r="1.8" fill="#ff1490"/>
<circle cx="577.39" cy="375.72" r="1.8" fill="#ff1490"/>
<circle cx="578.78" cy="375.14" r="1.8" fill="#ff1490"/>
<circle cx="580.20" cy="374.49" r="1.8" fill="#ff1490"/>
<circle cx="581.68" cy="373.73" r="1.8" fill="#ff1490"/>
<circle cx="582.80" cy="373.12" r="1.8" fill="#ff1490"/>
<circle cx="583.92" cy="372.48" r="1.8" fill="#ff1490"/>
<circle cx="585.01" cy="371.83" r="1.8" fill="#ff1490"/>
<circle cx="586.07" cy="371.15" r="1.8" fill="#ff1490"/>
<circle cx="587.12" cy="370.44" r="1.8" fill="#ff1490"/>
<circle cx="588.17" cy="369.75" r="1.8" fill="#ff1490"/>
<circle cx="589.25" cy="369.08" r="1.8" fill="#ff1490"/>
<circle cx="590.36" cy="368.44" r="1.8" fill="#ff1490"/>
<circle cx="591.47" cy="367.82" r="1.8" fill="#ff1490"/>
<circle cx="592.59" cy="367.19" r="1.8" fill="#ff1490"/>
<circle cx="593.71" cy="366.53" r="1.8" fill="#ff1490"/>
<circle cx="594.82" cy="365.86" r="1.8" fill="#ff1490"/>
<circle cx="595.93" cy="365.17" r="1.8" fill="#ff1490"/>
<circle cx="597.04" cy="364.47" r="1.8" fill="#ff1490"/>
<circle cx="598.16" cy="363.76" r="1.8" fill="#ff1490"/>
<circle cx="599.27" cy="363.04" r="1.8" fill="#ff1490"/>
<circle cx="600.38" cy="362.30" r="1.8" fill="#ff1490"/>
<circle cx="601.49" cy="361.54" r="1.8" fill="#ff1490"/>
<circle cx="602.61" cy="360.77" r="1.8" fill="#ff1490"/>
<circle cx="603.79" cy="359.94" r="1.8" fill="#ff1490"/>
<circle cx="604.96" cy="359.10" r="1.8" fill="#ff1490"/>
<circle cx="606.05" cy="358.32" r="1.8" fill="#ff1490"/>
<circle cx="607.25" cy="357.44" r="1.8" fill="#ff1490"/>
<circle cx="608.44" cy="356.55" r="1.8" fill="#ff1490"/>
<circle cx="558.93" cy="383.72" r="0.45" fill="#fff" opacity="0.6"/>
<circle cx="560.86" cy="381.87" r="0.45" fill="#fff" opacity="0.6"/>
<circle cx="563.64" cy="381.02" r="0.45" fill="#fff" opacity="0.6"/>
<circle cx="566.35" cy="379.49" r="0.45" fill="#fff" opacity="0.6"/>
<circle cx="568.74" cy="378.51" r="0.45" fill="#fff" opacity="0.6"/>
<circle cx="571.22" cy="377.58" r="0.45" fill="#fff" opacity="0.6"/>
<circle cx="574.22" cy="376.45" r="0.45" fill="#fff" opacity="0.6"/>
<circle cx="577.09" cy="375.32" r="0.45" fill="#fff" opacity="0.6"/>
<circle cx="579.90" cy="374.09" r="0.45" fill="#fff" opacity="0.6"/>
<circle cx="582.50" cy="372.72" r="0.45" fill="#fff" opacity="0.6"/>
<circle cx="584.71" cy="371.43" r="0.45" fill="#fff" opacity="0.6"/>
<circle cx="586.82" cy="370.04" r="0.45" fill="#fff" opacity="0.6"/>
<circle cx="588.95" cy="368.68" r="0.45" fill="#fff" opacity="0.6"/>
<circle cx="591.17" cy="367.42" r="0.45" fill="#fff" opacity="0.6"/>
<circle cx="593.41" cy="366.13" r="0.45" fill="#fff" opacity="0.6"/>
<circle cx="595.63" cy="364.77" r="0.45" fill="#fff" opacity="0.6"/>
<circle cx="597.86" cy="363.36" r="0.45" fill="#fff" opacity="0.6"/>
<circle cx="600.08" cy="361.90" r="0.45" fill="#fff" opacity="0.6"/>
<circle cx="602.31" cy="360.37" r="0.45" fill="#fff" opacity="0.6"/>
<circle cx="604.66" cy="358.70" r="0.45" fill="#fff" opacity="0.6"/>
<circle cx="606.95" cy="357.04" r="0.45" fill="#fff" opacity="0.6"/>
<circle cx="611.70" cy="352.10" r="2.0" fill="#ff1490"/>
<circle cx="611.35" cy="351.55" r="0.55" fill="#fff" opacity="0.75"/>
<circle cx="614.00" cy="348.80" r="2.0" fill="#ff1490"/>
<circle cx="613.65" cy="348.25" r="0.55" fill="#fff" opacity="0.75"/>
<circle cx="616.30" cy="344.90" r="2.0" fill="#ff1490"/>
<circle cx="615.95" cy="344.35" r="0.55" fill="#fff" opacity="0.75"/>
<circle cx="618.80" cy="340.50" r="2.0" fill="#ff1490"/>
<circle cx="618.45" cy="339.95" r="0.55" fill="#fff" opacity="0.75"/>
<circle cx="621.50" cy="334.80" r="2.0" fill="#ff1490"/>
<circle cx="621.15" cy="334.25" r="0.55" fill="#fff" opacity="0.75"/>
<circle cx="624.80" cy="328.40" r="2.0" fill="#ff1490"/>
<circle cx="624.45" cy="327.85" r="0.55" fill="#fff" opacity="0.75"/>
<path d="M42.50,454.28 L42.50,450.29 Q42.50,448.69 44.10,448.69 L44.30,449.24 45.44,449.32 47.07,449.39 49.29,449.44 52.19,449.47 55.71,449.49 59.74,449.50 64.19,449.51 68.94,449.51 73.88,449.50 78.91,449.49 83.92,449.47 88.81,449.45 93.46,449.44 98.15,449.42 103.12,449.40 108.27,449.38 113.48,449.35 118.62,449.32 123.59,449.28 128.26,449.24 132.52,449.19 136.24,449.13 139.32,449.06 141.70,448.99 143.47,448.92 144.73,448.84 145.58,448.76 146.12,448.67 146.46,448.56 146.70,448.44 146.93,448.30 147.27,448.14 147.82,447.95 148.47,447.74 149.08,447.53 149.65,447.31 150.18,447.07 150.68,446.81 151.16,446.52 151.62,446.19 152.06,445.83 152.49,445.43 152.91,444.97 153.33,444.47 153.72,443.94 154.10,443.37 154.46,442.77 154.80,442.13 155.12,441.45 155.44,440.72 155.74,439.95 156.03,439.13 156.31,438.27 156.58,437.32 156.84,436.27 157.08,435.15 157.31,433.98 157.53,432.77 157.74,431.56 157.93,430.37 158.11,429.21 158.28,428.11 158.43,427.09 158.57,426.12 158.70,425.13 158.81,424.16 158.91,423.21 158.99,422.30 159.07,421.45 159.13,420.66 159.19,419.97 159.24,419.38 159.28,418.90 L160.13,418.90" fill="none" stroke="#8000ff" stroke-width="2.1" stroke-linejoin="round" stroke-linecap="round"/>
<path d="M42.50,448.69 L42.50,452.68 Q42.50,454.28 44.10,454.28 L45.69,454.32 47.74,454.35 50.04,454.38 52.59,454.42 55.34,454.46 58.28,454.50 61.39,454.55 64.63,454.60 67.98,454.65 71.60,454.70 75.60,454.76 79.90,454.81 84.40,454.87 89.00,454.93 93.62,455.00 98.17,455.08 102.55,455.17 106.67,455.27 110.45,455.39 113.98,455.53 117.42,455.68 120.75,455.85 123.95,456.02 127.01,456.21 129.89,456.40 132.59,456.61 135.07,456.82 137.32,457.03 139.32,457.26 141.02,457.47 142.40,457.69 143.50,457.90 144.39,458.12 145.11,458.35 145.70,458.60 146.22,458.87 146.72,459.16 147.23,459.49 147.82,459.86 148.42,460.25 148.95,460.65 149.43,461.07 149.86,461.51 150.26,461.98 150.63,462.49 150.99,463.05 151.34,463.66 151.69,464.33 152.06,465.08 152.44,465.90 152.81,466.79 153.17,467.74 153.52,468.75 153.87,469.80 154.20,470.89 154.53,472.02 154.85,473.17 155.16,474.33 155.46,475.50 155.76,476.68 156.04,477.88 156.32,479.10 156.59,480.35 156.86,481.62 157.11,482.93 157.35,484.27 157.58,485.65 157.80,487.07 158.01,488.53 158.20,490.13 158.39,491.92 158.57,493.82 158.74,495.77 158.89,497.73 159.03,499.62 159.16,501.38 159.27,502.95 159.37,504.28 159.45,505.29" fill="none" stroke="#8000ff" stroke-width="2.1" stroke-linejoin="round" stroke-linecap="round"/>
<path d="M42.50,449.81 L42.74,449.83 L42.83,449.87 L42.86,449.90 L42.93,449.95 L43.14,449.99 L43.56,450.04 L44.30,450.09 L45.44,450.12 L47.07,450.16 L49.29,450.18 L52.19,450.20 L55.71,450.21 L59.74,450.22 L64.19,450.23 L68.94,450.23 L73.88,450.23 L78.91,450.22 L83.92,450.21 L88.81,450.20 L93.46,450.18 L98.15,450.16 L103.12,450.14 L108.27,450.11 L113.48,450.08 L118.62,450.04 L123.59,450.00 L128.26,449.96 L132.52,449.91 L136.24,449.86 L139.32,449.81 L141.70,449.76 L143.47,449.71 L144.73,449.67 L145.58,449.63 L146.12,449.58 L146.46,449.51 L146.70,449.44 L146.93,449.34 L147.27,449.22 L147.82,449.06 L148.47,448.90 L149.08,448.74 L149.65,448.57 L150.18,448.39 L150.68,448.18 L151.16,447.94 L151.62,447.65 L152.06,447.32 L152.49,446.92 L152.91,446.46 L153.33,445.93 L153.72,445.35 L154.10,444.72 L154.46,444.04 L154.80,443.32 L155.12,442.54 L155.44,441.73 L155.74,440.86 L156.03,439.96 L156.31,439.01 L156.58,437.98 L156.84,436.85 L157.08,435.65 L157.31,434.39 L157.53,433.10 L157.74,431.81 L157.93,430.54 L158.11,429.31 L158.28,428.16 L158.43,427.09 L158.57,426.09 L158.70,425.09 L158.81,424.11 L158.91,423.16 L158.99,422.25 L159.07,421.41 L159.13,420.64 L159.19,419.96 L159.24,419.37 L159.28,418.90 L160.13,418.90" fill="none" stroke="#ff1490" stroke-width="2.1" stroke-linejoin="round" stroke-linecap="round"/>
<path d="M42.50,454.65 L43.94,454.67 L45.69,454.69 L47.74,454.72 L50.04,454.75 L52.59,454.79 L55.34,454.83 L58.28,454.87 L61.39,454.92 L64.63,454.97 L67.98,455.02 L71.60,455.08 L75.60,455.13 L79.90,455.18 L84.40,455.24 L89.00,455.30 L93.62,455.37 L98.17,455.45 L102.55,455.54 L106.67,455.65 L110.45,455.77 L113.98,455.90 L117.42,456.06 L120.75,456.22 L123.95,456.40 L127.01,456.58 L129.89,456.78 L132.59,456.98 L135.07,457.19 L137.32,457.41 L139.32,457.63 L141.02,457.85 L142.40,458.06 L143.50,458.27 L144.39,458.49 L145.11,458.72 L145.70,458.97 L146.22,459.24 L146.72,459.53 L147.23,459.87 L147.82,460.23 L148.42,460.63 L148.95,461.03 L149.43,461.45 L149.86,461.90 L150.26,462.38 L150.63,462.89 L150.99,463.45 L151.34,464.05 L151.69,464.72 L152.06,465.45 L152.44,466.24 L152.81,467.10 L153.17,468.01 L153.52,468.98 L153.87,469.99 L154.20,471.03 L154.53,472.11 L154.85,473.22 L155.16,474.35 L155.46,475.50 L155.76,476.67 L156.04,477.86 L156.32,479.08 L156.59,480.32 L156.86,481.60 L157.11,482.91 L157.35,484.26 L157.58,485.64 L157.80,487.07 L158.01,488.53 L158.20,490.13 L158.39,491.92 L158.57,493.82 L158.74,495.77 L158.89,497.73 L159.03,499.62 L159.16,501.38 L159.27,502.95 L159.37,504.28 L159.45,505.29" fill="none" stroke="#ff1490" stroke-width="2.1" stroke-linejoin="round" stroke-linecap="round"/>
<line x1="42.80" y1="444.97" x2="42.50" y2="471.41" stroke="#ff1490" stroke-width="2.1"/>
<text x="47.00" y="424.14" font-size="9" text-anchor="start" font-weight="bold" fill="#000" stroke="#000" stroke-width="0.46799999999999997">14 mg cm<tspan dy="-3.60" font-size="5.94">-2</tspan><tspan dy="3.6">0.5 C</tspan></text>
<line x1="44" y1="499.3" x2="56.9" y2="499.3" stroke="#8000ff" stroke-width="2.2"/>
<line x1="44" y1="510.2" x2="56.9" y2="510.2" stroke="#ff1490" stroke-width="2.2"/>
<text x="58.30" y="501.61" font-size="9.2" text-anchor="start" font-weight="bold" fill="#000" stroke="#000" stroke-width="0.47839999999999994">Unstructured LFP</text>
<text x="59.80" y="512.51" font-size="9.2" text-anchor="start" font-weight="bold" fill="#000" stroke="#000" stroke-width="0.47839999999999994">Laser-structured LFP</text>
<path d="M209.50,458.56 L209.50,446.44 Q209.50,444.84 211.10,444.84 L211.28,445.00 211.91,445.05 212.68,445.10 213.63,445.14 214.81,445.18 216.24,445.20 217.96,445.21 219.99,445.21 222.30,445.22 224.86,445.22 227.63,445.22 230.60,445.21 233.72,445.18 236.96,445.14 240.30,445.07 243.71,444.97 247.15,444.84 250.79,444.67 254.77,444.47 258.99,444.24 263.34,443.98 267.73,443.70 272.07,443.42 276.25,443.12 280.18,442.82 283.77,442.53 286.91,442.24 289.64,441.97 292.07,441.70 294.24,441.43 296.18,441.15 297.93,440.88 299.51,440.59 300.96,440.29 302.31,439.97 303.59,439.63 304.84,439.28 306.00,438.91 306.98,438.55 307.83,438.19 308.55,437.82 309.19,437.42 309.75,437.00 310.26,436.53 310.76,436.02 311.26,435.46 311.78,434.83 312.31,434.10 312.80,433.29 313.26,432.40 313.68,431.46 314.08,430.49 314.46,429.51 314.81,428.54 315.14,427.61 315.46,426.73 315.76,425.92 316.04,425.16 316.31,424.40 316.55,423.64 316.78,422.91 316.98,422.21 317.16,421.56 317.33,420.96 317.47,420.43 317.60,419.98 317.70,419.62 L323.12,419.62" fill="none" stroke="#8000ff" stroke-width="2.1" stroke-linejoin="round" stroke-linecap="round"/>
<path d="M209.50,445.58 L209.50,457.33 Q209.50,458.93 211.10,458.93 L211.30,459.04 211.93,459.07 212.71,459.11 213.66,459.16 214.83,459.20 216.25,459.25 217.96,459.31 219.96,459.35 222.23,459.39 224.74,459.42 227.46,459.45 230.36,459.49 233.42,459.55 236.62,459.62 239.92,459.73 243.29,459.87 246.72,460.05 250.40,460.27 254.47,460.54 258.80,460.83 263.29,461.16 267.82,461.51 272.26,461.87 276.51,462.25 280.44,462.63 283.95,463.01 286.91,463.39 289.31,463.76 291.25,464.12 292.83,464.50 294.10,464.88 295.15,465.26 296.05,465.66 296.88,466.08 297.71,466.52 298.62,466.98 299.68,467.47 300.84,467.97 301.98,468.47 303.09,468.98 304.19,469.51 305.26,470.06 306.30,470.64 307.32,471.26 308.30,471.92 309.26,472.63 310.17,473.40 311.07,474.23 311.94,475.11 312.78,476.05 313.60,477.02 314.38,478.04 315.13,479.08 315.84,480.15 316.51,481.23 317.13,482.32 317.70,483.41 318.21,484.53 318.66,485.70 319.05,486.90 319.40,488.12 319.71,489.35 320.00,490.58 320.27,491.80 320.54,493.00 320.81,494.16 321.09,495.28 321.38,496.41 321.68,497.57 321.97,498.74 322.25,499.90 322.53,501.03 322.78,502.10 323.01,503.09 323.22,503.97 323.40,504.71 323.54,505.30" fill="none" stroke="#8000ff" stroke-width="2.1" stroke-linejoin="round" stroke-linecap="round"/>
<path d="M209.50,448.18 L209.91,448.20 L210.32,448.24 L210.76,448.29 L211.28,448.34 L211.91,448.39 L212.68,448.44 L213.63,448.48 L214.81,448.52 L216.24,448.54 L217.96,448.55 L219.99,448.55 L222.30,448.54 L224.86,448.53 L227.63,448.51 L230.60,448.48 L233.72,448.44 L236.96,448.39 L240.30,448.34 L243.71,448.26 L247.15,448.18 L250.77,448.07 L254.69,447.95 L258.82,447.81 L263.08,447.66 L267.40,447.51 L271.68,447.34 L275.86,447.17 L279.84,447.01 L283.55,446.85 L286.91,446.69 L289.97,446.55 L292.86,446.42 L295.58,446.28 L298.13,446.15 L300.52,446.02 L302.76,445.88 L304.83,445.74 L306.76,445.58 L308.54,445.40 L310.17,445.21 L311.60,445.02 L312.79,444.86 L313.77,444.71 L314.59,444.56 L315.28,444.38 L315.88,444.16 L316.44,443.89 L316.98,443.56 L317.56,443.13 L318.21,442.61 L318.91,442.00 L319.59,441.32 L320.27,440.57 L320.92,439.76 L321.55,438.88 L322.15,437.95 L322.72,436.96 L323.24,435.93 L323.71,434.84 L324.13,433.71 L324.50,432.45 L324.81,431.00 L325.07,429.42 L325.29,427.77 L325.48,426.11 L325.63,424.49 L325.76,422.97 L325.88,421.62 L325.98,420.48 L326.08,419.62 L326.92,418.88" fill="none" stroke="#ff1490" stroke-width="2.1" stroke-linejoin="round" stroke-linecap="round"/>
<path d="M209.50,455.23 L209.82,455.24 L210.00,455.26 L210.14,455.29 L210.33,455.31 L210.67,455.34 L211.25,455.38 L212.18,455.42 L213.54,455.47 L215.43,455.53 L217.96,455.60 L221.26,455.67 L225.32,455.76 L229.98,455.85 L235.10,455.95 L240.53,456.06 L246.11,456.17 L251.69,456.30 L257.12,456.43 L262.26,456.56 L266.94,456.71 L271.39,456.85 L275.89,457.00 L280.36,457.14 L284.75,457.29 L289.01,457.45 L293.07,457.63 L296.88,457.82 L300.38,458.04 L303.50,458.28 L306.20,458.56 L308.40,458.85 L310.15,459.13 L311.50,459.41 L312.54,459.71 L313.34,460.05 L313.96,460.42 L314.48,460.86 L314.98,461.36 L315.52,461.96 L316.18,462.64 L316.88,463.41 L317.50,464.22 L318.06,465.09 L318.55,466.02 L319.01,467.03 L319.44,468.11 L319.84,469.28 L320.25,470.55 L320.66,471.92 L321.09,473.40 L321.53,475.06 L321.97,476.94 L322.41,478.98 L322.84,481.14 L323.26,483.35 L323.66,485.56 L324.04,487.73 L324.41,489.80 L324.75,491.71 L325.06,493.43 L325.35,495.00 L325.63,496.52 L325.88,497.96 L326.11,499.33 L326.33,500.62 L326.52,501.80 L326.70,502.87 L326.85,503.81 L326.98,504.63 L327.09,505.30" fill="none" stroke="#ff1490" stroke-width="2.1" stroke-linejoin="round" stroke-linecap="round"/>
<line x1="209.80" y1="444.84" x2="209.50" y2="471.17" stroke="#ff1490" stroke-width="2.1"/>
<text x="214.00" y="425.14" font-size="9" text-anchor="start" font-weight="bold" fill="#000" stroke="#000" stroke-width="0.46799999999999997">30 mg cm<tspan dy="-3.60" font-size="5.94">2</tspan><tspan dy="3.6"> 0.5 C</tspan></text>
<path d="M379.70,460.88 L379.70,444.27 Q379.70,442.67 381.30,442.67 L381.49,442.70 382.24,442.67 383.09,442.64 383.98,442.60 384.93,442.56 385.99,442.52 387.19,442.47 388.58,442.40 390.20,442.31 392.08,442.21 394.26,442.08 396.79,441.93 399.83,441.75 403.43,441.55 407.47,441.33 411.80,441.10 416.29,440.84 420.81,440.57 425.22,440.28 429.39,439.97 433.18,439.66 436.47,439.33 439.32,438.98 441.91,438.59 444.29,438.18 446.45,437.75 448.44,437.31 450.26,436.87 451.95,436.43 453.53,436.01 455.01,435.61 456.43,435.24 457.73,434.91 458.84,434.60 459.80,434.31 460.64,434.04 461.37,433.78 462.01,433.51 462.61,433.23 463.17,432.94 463.73,432.62 464.30,432.27 464.86,431.90 465.36,431.53 465.81,431.15 466.22,430.75 466.59,430.34 466.94,429.90 467.27,429.44 467.60,428.94 467.93,428.40 468.28,427.81 468.63,427.13 468.99,426.34 469.35,425.47 469.71,424.55 470.05,423.63 470.37,422.72 470.66,421.88 470.92,421.12 471.14,420.48 471.32,420.00 L478.60,420.00" fill="none" stroke="#8000ff" stroke-width="2.1" stroke-linejoin="round" stroke-linecap="round"/>
<path d="M379.70,442.67 L379.70,459.66 Q379.70,461.26 381.30,461.26 L381.49,461.54 382.24,461.63 383.14,461.72 384.14,461.82 385.24,461.93 386.46,462.05 387.81,462.19 389.30,462.33 390.93,462.50 392.71,462.68 394.66,462.89 396.79,463.11 399.21,463.37 401.99,463.63 405.04,463.92 408.27,464.23 411.59,464.55 414.92,464.90 418.17,465.26 421.26,465.64 424.08,466.04 426.57,466.46 428.73,466.89 430.67,467.34 432.42,467.80 434.02,468.28 435.51,468.78 436.92,469.30 438.28,469.85 439.64,470.43 441.02,471.03 442.47,471.66 443.96,472.34 445.42,473.07 446.87,473.84 448.30,474.63 449.71,475.45 451.09,476.27 452.46,477.10 453.81,477.91 455.13,478.70 456.43,479.47 457.73,480.19 459.03,480.90 460.32,481.58 461.60,482.25 462.85,482.93 464.06,483.60 465.22,484.30 466.31,485.01 467.34,485.75 468.28,486.53 469.12,487.34 469.89,488.16 470.59,489.01 471.22,489.87 471.80,490.75 472.34,491.66 472.85,492.58 473.34,493.51 473.81,494.47 474.28,495.45 474.75,496.50 475.19,497.66 475.62,498.88 476.02,500.14 476.39,501.39 476.74,502.60 477.05,503.72 477.32,504.73 477.56,505.57 477.75,506.22" fill="none" stroke="#8000ff" stroke-width="2.1" stroke-linejoin="round" stroke-linecap="round"/>
<path d="M379.70,449.36 L380.02,449.39 L380.21,449.44 L380.36,449.51 L380.56,449.57 L380.91,449.64 L381.50,449.70 L382.43,449.75 L383.78,449.77 L385.66,449.77 L388.16,449.74 L391.42,449.66 L395.41,449.56 L400.00,449.43 L405.03,449.27 L410.36,449.11 L415.85,448.93 L421.35,448.75 L426.72,448.58 L431.81,448.41 L436.47,448.25 L440.90,448.10 L445.37,447.96 L449.81,447.83 L454.19,447.69 L458.45,447.55 L462.54,447.41 L466.40,447.26 L469.99,447.11 L473.26,446.94 L476.14,446.76 L478.62,446.59 L480.73,446.44 L482.50,446.29 L484.01,446.14 L485.29,445.97 L486.40,445.78 L487.38,445.55 L488.30,445.28 L489.19,444.94 L490.10,444.53 L490.98,444.09 L491.72,443.66 L492.35,443.20 L492.89,442.71 L493.34,442.16 L493.74,441.54 L494.10,440.81 L494.43,439.97 L494.76,438.98 L495.09,437.84 L495.43,436.43 L495.72,434.70 L495.99,432.75 L496.22,430.65 L496.42,428.51 L496.60,426.39 L496.76,424.40 L496.90,422.61 L497.02,421.12 L497.12,420.00 L497.97,418.89" fill="none" stroke="#ff1490" stroke-width="2.1" stroke-linejoin="round" stroke-linecap="round"/>
<path d="M379.70,455.31 L380.02,455.33 L380.21,455.35 L380.36,455.38 L380.57,455.41 L380.92,455.45 L381.51,455.49 L382.43,455.53 L383.79,455.58 L385.67,455.63 L388.16,455.68 L391.41,455.74 L395.39,455.80 L399.97,455.87 L404.99,455.93 L410.31,456.01 L415.79,456.08 L421.28,456.16 L426.64,456.25 L431.72,456.33 L436.38,456.42 L440.84,456.52 L445.37,456.61 L449.90,456.71 L454.37,456.81 L458.71,456.91 L462.86,457.02 L466.74,457.14 L470.29,457.26 L473.45,457.40 L476.14,457.54 L478.31,457.67 L479.99,457.76 L481.25,457.84 L482.17,457.93 L482.85,458.03 L483.35,458.16 L483.75,458.35 L484.14,458.61 L484.60,458.95 L485.20,459.40 L485.85,459.92 L486.44,460.47 L486.97,461.08 L487.45,461.75 L487.90,462.49 L488.33,463.30 L488.76,464.21 L489.18,465.22 L489.63,466.34 L490.10,467.57 L490.61,468.95 L491.13,470.48 L491.66,472.12 L492.19,473.87 L492.72,475.70 L493.23,477.60 L493.74,479.54 L494.22,481.50 L494.67,483.46 L495.09,485.41 L495.49,487.47 L495.88,489.72 L496.25,492.09 L496.60,494.52 L496.93,496.93 L497.23,499.26 L497.51,501.42 L497.76,503.35 L497.97,504.97 L498.14,506.22" fill="none" stroke="#ff1490" stroke-width="2.1" stroke-linejoin="round" stroke-linecap="round"/>
<line x1="380.00" y1="444.90" x2="379.70" y2="471.29" stroke="#ff1490" stroke-width="2.1"/>
<text x="384.00" y="426.14" font-size="9" text-anchor="start" font-weight="bold" fill="#000" stroke="#000" stroke-width="0.46799999999999997">40 mg cm<tspan dy="-3.60" font-size="5.94">2</tspan><tspan dy="3.6"> 0.5 C</tspan></text>
<path d="M550.20,461.72 L550.20,443.96 Q550.20,442.36 551.80,442.36 L552.16,442.36 552.61,442.36 553.07,442.36 553.54,442.36 554.02,442.36 554.43,442.36 554.71,442.37 554.94,442.37 555.16,442.38 555.45,442.38 555.86,442.39 556.44,442.39 557.27,442.39 558.40,442.38 559.88,442.36 561.81,442.34 564.18,442.32 566.88,442.30 569.83,442.28 572.94,442.25 576.12,442.21 579.28,442.17 582.33,442.12 585.18,442.06 587.74,441.99 590.05,441.91 592.21,441.83 594.27,441.74 596.23,441.65 598.13,441.55 600.00,441.44 601.84,441.31 603.70,441.18 605.58,441.03 607.53,440.87 609.59,440.70 611.75,440.51 613.99,440.31 616.24,440.09 618.45,439.87 620.59,439.64 622.61,439.40 624.44,439.15 626.06,438.90 627.40,438.64 628.45,438.38 629.24,438.14 629.80,437.89 630.20,437.64 630.46,437.38 630.64,437.10 630.78,436.79 630.92,436.46 631.11,436.08 631.40,435.66 631.74,435.20 632.07,434.72 632.39,434.21 632.70,433.67 633.00,433.10 633.29,432.50 633.56,431.86 633.82,431.18 634.06,430.46 634.28,429.70 634.49,428.84 634.69,427.85 634.87,426.77 635.03,425.63 635.19,424.49 635.32,423.37 635.45,422.33 635.55,421.40 635.65,420.61 635.73,420.02 L640.31,420.02" fill="none" stroke="#8000ff" stroke-width="2.1" stroke-linejoin="round" stroke-linecap="round"/>
<path d="M550.20,442.36 L550.20,460.50 Q550.20,462.10 551.80,462.10 L552.02,462.82 552.56,462.95 553.22,463.08 554.02,463.21 554.97,463.34 556.04,463.46 557.22,463.59 558.51,463.71 559.89,463.84 561.35,463.98 562.88,464.14 564.47,464.30 566.11,464.49 567.78,464.70 569.58,464.93 571.57,465.16 573.69,465.39 575.90,465.64 578.13,465.91 580.33,466.20 582.44,466.52 584.42,466.87 586.21,467.26 587.74,467.68 589.03,468.15 590.12,468.67 591.06,469.23 591.86,469.82 592.56,470.43 593.19,471.06 593.79,471.70 594.37,472.35 594.98,473.00 595.64,473.64 596.32,474.30 596.97,474.99 597.59,475.71 598.19,476.45 598.78,477.18 599.36,477.89 599.93,478.58 600.50,479.23 601.08,479.82 601.67,480.34 602.22,480.78 602.69,481.13 603.12,481.42 603.54,481.66 603.98,481.88 604.47,482.09 605.04,482.33 605.72,482.59 606.54,482.92 607.53,483.32 608.74,483.80 610.16,484.35 611.74,484.95 613.44,485.58 615.21,486.23 617.00,486.89 618.76,487.53 620.45,488.16 622.02,488.75 623.41,489.28 624.68,489.76 625.87,490.21 627.01,490.62 628.09,491.02 629.11,491.40 630.07,491.77 630.99,492.15 631.85,492.54 632.67,492.94 633.43,493.38 634.14,493.82 634.78,494.26 635.35,494.70 635.87,495.15 636.34,495.61 636.78,496.08 637.19,496.58 637.58,497.09 637.97,497.64 638.36,498.22 638.75,498.86 639.13,499.60 639.49,500.40 639.83,501.22 640.16,502.06 640.45,502.86 640.72,503.62 640.96,504.29 641.17,504.86 641.33,505.29" fill="none" stroke="#8000ff" stroke-width="2.1" stroke-linejoin="round" stroke-linecap="round"/>
<path d="M550.20,448.69 L550.52,448.70 L550.71,448.72 L550.85,448.74 L551.05,448.76 L551.39,448.78 L551.98,448.80 L552.91,448.80 L554.28,448.79 L556.17,448.75 L558.69,448.69 L561.98,448.60 L566.03,448.49 L570.67,448.35 L575.76,448.20 L581.16,448.04 L586.72,447.87 L592.28,447.70 L597.70,447.52 L602.84,447.36 L607.53,447.20 L611.98,447.06 L616.46,446.93 L620.91,446.80 L625.29,446.68 L629.54,446.55 L633.62,446.42 L637.48,446.27 L641.05,446.11 L644.31,445.92 L647.19,445.71 L649.67,445.50 L651.76,445.31 L653.53,445.12 L655.02,444.91 L656.29,444.69 L657.39,444.43 L658.37,444.11 L659.28,443.73 L660.18,443.28 L661.12,442.73 L662.04,442.10 L662.84,441.41 L663.55,440.64 L664.17,439.82 L664.71,438.94 L665.19,438.01 L665.62,437.02 L666.01,435.99 L666.38,434.91 L666.73,433.80 L667.04,432.55 L667.29,431.13 L667.49,429.59 L667.64,427.97 L667.76,426.35 L667.85,424.77 L667.91,423.29 L667.97,421.97 L668.03,420.86 L668.09,420.02 L668.94,418.90" fill="none" stroke="#ff1490" stroke-width="2.1" stroke-linejoin="round" stroke-linecap="round"/>
<path d="M550.20,455.77 L550.53,455.76 L550.72,455.75 L550.87,455.74 L551.07,455.73 L551.42,455.72 L552.01,455.71 L552.94,455.71 L554.30,455.72 L556.19,455.74 L558.69,455.77 L561.96,455.80 L565.96,455.84 L570.55,455.89 L575.59,455.94 L580.94,456.00 L586.44,456.07 L591.95,456.15 L597.33,456.26 L602.43,456.37 L607.11,456.51 L611.57,456.67 L616.11,456.84 L620.64,457.03 L625.11,457.23 L629.45,457.44 L633.60,457.67 L637.50,457.92 L641.08,458.18 L644.27,458.46 L647.02,458.75 L649.27,459.02 L651.03,459.28 L652.40,459.52 L653.44,459.77 L654.24,460.05 L654.87,460.37 L655.41,460.76 L655.93,461.22 L656.50,461.79 L657.22,462.47 L657.99,463.25 L658.71,464.09 L659.38,465.00 L660.00,465.99 L660.58,467.05 L661.13,468.20 L661.66,469.42 L662.17,470.74 L662.67,472.14 L663.16,473.64 L663.65,475.30 L664.12,477.16 L664.57,479.18 L665.01,481.29 L665.42,483.46 L665.81,485.63 L666.17,487.76 L666.50,489.79 L666.80,491.68 L667.07,493.38 L667.29,494.94 L667.47,496.45 L667.62,497.90 L667.73,499.28 L667.82,500.57 L667.89,501.76 L667.95,502.84 L668.00,503.80 L668.04,504.62 L668.09,505.29" fill="none" stroke="#ff1490" stroke-width="2.1" stroke-linejoin="round" stroke-linecap="round"/>
<line x1="550.50" y1="444.97" x2="550.20" y2="471.41" stroke="#ff1490" stroke-width="2.1"/>
<text x="554.00" y="423.54" font-size="9" text-anchor="start" font-weight="bold" fill="#000" stroke="#000" stroke-width="0.46799999999999997">60 mg cm<tspan dy="-3.60" font-size="5.94">2</tspan><tspan dy="3.6"> 0.5 C</tspan></text>
<text x="-1.20" y="12.70" font-size="18.3" text-anchor="start" font-weight="bold" fill="#000" stroke="#000" stroke-width="0.5">a</text>
<text x="167.90" y="12.90" font-size="18.3" text-anchor="start" font-weight="bold" fill="#000" stroke="#000" stroke-width="0.5">b</text>
<text x="337.90" y="13.10" font-size="18.3" text-anchor="start" font-weight="bold" fill="#000" stroke="#000" stroke-width="0.5">c</text>
<text x="507.30" y="12.90" font-size="18.3" text-anchor="start" font-weight="bold" fill="#000" stroke="#000" stroke-width="0.5">d</text>
<text x="0.00" y="151.60" font-size="18.3" text-anchor="start" font-weight="bold" fill="#000" stroke="#000" stroke-width="0.5">e</text>
<text x="171.30" y="154.70" font-size="18.3" text-anchor="start" font-weight="bold" fill="#000" stroke="#000" stroke-width="0.5">f</text>
<text x="338.40" y="151.40" font-size="18.3" text-anchor="start" font-weight="bold" fill="#000" stroke="#000" stroke-width="0.5">g</text>
<text x="509.30" y="152.60" font-size="18.3" text-anchor="start" font-weight="bold" fill="#000" stroke="#000" stroke-width="0.5">h</text>
<text x="2.90" y="282.90" font-size="18.3" text-anchor="start" font-weight="bold" fill="#000" stroke="#000" stroke-width="0.5">i</text>
<text x="173.60" y="284.20" font-size="18.3" text-anchor="start" font-weight="bold" fill="#000" stroke="#000" stroke-width="0.5">j</text>
<text x="339.10" y="281.00" font-size="18.3" text-anchor="start" font-weight="bold" fill="#000" stroke="#000" stroke-width="0.5">k</text>
<text x="511.90" y="281.70" font-size="18.3" text-anchor="start" font-weight="bold" fill="#000" stroke="#000" stroke-width="0.5">l</text>
<text x="3.80" y="416.20" font-size="18.3" text-anchor="start" font-weight="bold" fill="#000" stroke="#000" stroke-width="0.5">m</text>
<text x="171.50" y="415.30" font-size="18.3" text-anchor="start" font-weight="bold" fill="#000" stroke="#000" stroke-width="0.5">n</text>
<text x="338.90" y="415.80" font-size="18.3" text-anchor="start" font-weight="bold" fill="#000" stroke="#000" stroke-width="0.5">o</text>
<text x="510.60" y="415.70" font-size="18.3" text-anchor="start" font-weight="bold" fill="#000" stroke="#000" stroke-width="0.5">p</text>
</svg></body></html>
